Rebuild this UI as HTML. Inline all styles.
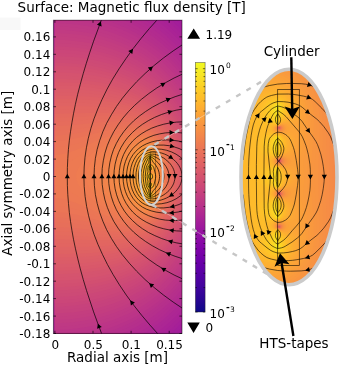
<!DOCTYPE html>
<html><head><meta charset="utf-8"><title>Magnetic flux density</title><style>html,body{margin:0;padding:0;background:#fff}svg{display:block}</style></head><body>
<svg width="342" height="366" viewBox="0 0 342 366" font-family="'DejaVu Sans','Liberation Sans',sans-serif" font-size="12" fill="#000">
<defs><clipPath id="cm"><rect x="53.4" y="20.2" width="128.6" height="313.2"/></clipPath>
<clipPath id="ci"><ellipse cx="289" cy="177" rx="48" ry="107.7"/></clipPath>
<linearGradient id="cb" x1="0" y1="0" x2="0" y2="1"><stop offset="0" stop-color="#f0f921"/><stop offset="0.05" stop-color="#f7e425"/><stop offset="0.1" stop-color="#fcce25"/><stop offset="0.15" stop-color="#feba2c"/><stop offset="0.2" stop-color="#fca636"/><stop offset="0.25" stop-color="#f89540"/><stop offset="0.3" stop-color="#f2844b"/><stop offset="0.35" stop-color="#ea7457"/><stop offset="0.4" stop-color="#e16462"/><stop offset="0.45" stop-color="#d6556d"/><stop offset="0.5" stop-color="#cc4778"/><stop offset="0.55" stop-color="#bf3984"/><stop offset="0.6" stop-color="#b12a90"/><stop offset="0.65" stop-color="#a11b9b"/><stop offset="0.7" stop-color="#8f0da4"/><stop offset="0.75" stop-color="#7e03a8"/><stop offset="0.8" stop-color="#6a00a8"/><stop offset="0.85" stop-color="#5601a4"/><stop offset="0.9" stop-color="#41049d"/><stop offset="0.95" stop-color="#2a0593"/><stop offset="1" stop-color="#0d0887"/></linearGradient></defs>
<rect width="342" height="366" fill="#fff"/><rect x="0" y="17.6" width="20.5" height="12.4" fill="#f8f8f8"/>
<g clip-path="url(#cm)">
<rect x="52.4" y="19.2" width="130.6" height="315.2" fill="#9e199d"/>
<path fill="#a01a9c" d="M54.9 334.9l128.2 0 .4-.4 0-315.8 -128.6 0 0 316.2z"/>
<path fill="#a21d9a" d="M54.9 334.9l123.7 0 4.9-4.9 0-307 -4.3-4.3 -124.3 0 0 316.2z"/>
<path fill="#a31e9a" d="M54.9 334.9l119 0 4.8-4.5 4.8-4.9 0-298 -4.4-4.5 -4.5-4.3 -119.7 0 0 316.2z"/>
<path fill="#a62098" d="M54.9 334.9l114.2 0 7.5-6.8 6.9-7 0-289.2 -6.6-6.7 -7.1-6.5 -114.9 0 0 316.2z"/>
<path fill="#a82296" d="M54.9 334.9l109.2 0 5.1-4.3 4.9-4.4 4.9-4.8 4.5-4.7 0-280.4 -4.4-4.7 -4.5-4.3 -4.9-4.5 -4.9-4.1 -109.9 0 0 316.2z"/>
<path fill="#aa2395" d="M54.9 334.9l103.9 0 6.5-5 6.4-5.6 5.9-5.7 5.9-6.3 0-271.6 -5.4-5.8 -5.9-5.7 -5.9-5.2 -6.7-5.3 -104.7 0 0 316.2z"/>
<path fill="#ac2694" d="M54.9 334.9l98.5 0 7.9-5.9 7.9-6.6 7.4-7 6.9-7.4 0-263 -6.8-7.3 -7-6.7 -7.4-6.2 -8.1-6.1 -99.3 0 0 316.2z"/>
<path fill="#ad2793" d="M54.9 334.9l92.7 0 4.9-3.2 4.9-3.6 4.9-3.8 4.4-3.7 4.5-4 4.3-4.2 4.1-4.2 3.9-4.5 0-254.4 -3.9-4.5 -4-4.1 -3.9-3.8 -4.5-4.1 -4.4-3.7 -4.4-3.5 -5-3.6 -4.9-3.3 -93.6 0 0 316.2z"/>
<path fill="#b02991" d="M54.9 334.9l86.5 0 6.1-3.8 5.9-3.9 5.5-4 5.4-4.4 4.9-4.3 4.9-4.8 5-5.1 4.4-5.1 0-246 -4.4-5.1 -4.5-4.6 -4.9-4.8 -4.9-4.4 -5.4-4.4 -5.5-4 -5.4-3.7 -6.1-3.8 -87.5 0 0 316.2z"/>
<path fill="#b22b8f" d="M54.9 334.9l79.8 0 6.9-3.8 6.9-4.3 6.4-4.5 6.4-4.9 5.9-5.1 6-5.6 5.4-5.7 4.9-5.7 0-237.6 -4.9-5.7 -5.4-5.7 -5.5-5.2 -5.9-5.1 -5.9-4.6 -6.4-4.5 -6.9-4.4 -6.8-3.8 -80.9 0 0 316.2z"/>
<path fill="#b32c8e" d="M54.9 334.9l72.5 0 8.3-4.2 7.9-4.5 7.4-4.8 7.4-5.4 6.9-5.7 6.4-6 6.1-6.4 5.7-6.7 0-229.4 -5.4-6.4 -5.9-6.2 -6.4-6 -6.9-5.8 -6.9-5.1 -7.4-4.9 -7.9-4.6 -8.1-4.1 -73.7 0 0 316.2z"/>
<path fill="#b52f8c" d="M54.9 334.9l64.2 0 9.7-4.3 8.9-4.5 8.8-5.4 8.4-5.8 7.9-6.3 7.4-6.7 6.9-7.2 6.4-7.7 0-221 -6.4-7.7 -6.8-7.1 -7.1-6.5 -7.8-6.2 -8.4-5.9 -8.3-5.1 -8.9-4.7 -9.2-4.1 -65.7 0 0 316.2z"/>
<path fill="#b6308b" d="M54.9 334.9l54.6 0 9.9-3.7 9.4-4.1 9.4-4.9 8.3-5.1 8.4-5.8 7.9-6.4 7.4-6.8 6.9-7.3 6.4-7.8 0-213 -3.4-4.3 -3.5-4 -3.6-4 -4-4 -4.2-3.9 -4-3.4 -4.4-3.5 -4.4-3.3 -4.5-3.1 -4.9-3.1 -4.9-2.9 -5-2.6 -4.9-2.5 -5.4-2.4 -5.4-2.2 -5.7-2.1 -56.4 0 0 316.2z"/>
<path fill="#b83289" d="M54.9 334.9l42.7 0 6.6-1.8 6.4-2 6.4-2.4 6.4-2.6 8.9-4.2 8.8-4.9 7.9-5.1 7.9-5.7 7.4-6.2 6.9-6.6 6.4-7 5.9-7.5 0-204.8 -3.9-5.1 -4-4.6 -4.4-4.8 -4.5-4.3 -4.4-4 -4.9-4.1 -4.9-3.7 -5.5-3.8 -5.4-3.4 -5.4-3.1 -5.9-3.1 -5.9-2.8 -5.9-2.4 -6-2.3 -6.4-2.1 -6.2-1.8 -45 0 0 316.2z"/>
<path fill="#bb3488" d="M54.9 334.9l25.2 0 7.8-1.3 10.4-2.3 9.8-2.9 9.4-3.3 9.3-4 8.4-4.2 7.9-4.6 7.9-5.2 7.4-5.7 6.9-5.9 6.6-6.6 6.2-7 5.4-7 0-196.8 -4.4-5.8 -4.5-5.2 -4.9-5.3 -5.4-5.2 -5.4-4.6 -5.9-4.6 -6-4.2 -6.4-4 -6.4-3.6 -6.9-3.5 -6.9-3 -6.9-2.7 -6.9-2.3 -7.4-2.1 -7.3-1.8 -7.9-1.5 -29.1 0 0 316.2z"/>
<path fill="#bc3587" d="M54.9 332.9l0 .4 4.9-.1 6.4-.3 5.9-.5 10.4-1.3 9.8-1.8 9.4-2.4 9.4-2.9 8.8-3.3 8.9-4 8.4-4.3 7.9-4.8 7.4-5.1 7.1-5.6 6.7-5.9 6.4-6.6 5.9-6.9 3.2-4.1 1.7-2.5 0-188.9 -5.4-7.1 -5.8-6.7 -6-6.2 -6.9-6.1 -7.4-5.8 -7.4-5 -7.9-4.7 -7.9-4.1 -8.4-3.8 -8.8-3.4 -8.9-2.8 -9.4-2.3 -9.3-1.9 -9.9-1.3 -9.3-.8 -9.9-.3 0 313.2z"/>
<path fill="#be3885" d="M54.9 329.4l0 .5 3.4-.1 6.9-.2 6.5-.5 10.3-1.3 10.3-1.9 9.4-2.3 9.4-2.9 8.8-3.4 8.9-3.9 8.4-4.4 7.9-4.8 7.4-5.1 7.3-5.9 6.5-5.8 6.4-6.6 5.8-6.9 5-6.9 0-181 -5.3-7.3 -5.5-6.5 -6.3-6.5 -6.6-5.9 -6.8-5.5 -7.4-5.2 -7.9-4.8 -8.4-4.4 -8.4-3.8 -8.8-3.4 -9.4-3 -9.4-2.4 -9.3-1.8 -9.9-1.3 -9.3-.8 -9.9-.3 0 306.3z"/>
<path fill="#bf3984" d="M54.9 326.4l2.5 .1 6.4-.2 10.3-.8 9.9-1.4 9.8-1.9 9.4-2.4 9.3-3 8.9-3.4 8.4-3.9 8.4-4.4 7.9-4.9 7.3-5.2 6.9-5.6 6.4-5.9 6.3-6.6 5.6-6.8 4.9-7 0-173.2 -4.9-7 -5.5-6.7 -6.2-6.5 -6.6-6.1 -6.9-5.6 -7.3-5.2 -7.9-4.9 -8.4-4.4 -8.4-3.9 -8.9-3.4 -9.3-3 -9.4-2.4 -9.3-1.8 -9.9-1.4 -9.8-.8 -9.9-.3 0 299.9zM150.5 171.9l0-.2 0 .2z"/>
<path fill="#c13b82" d="M54.9 322.9l0 .2 6.9-.1 11.3-.8 10.4-1.4 9.8-1.8 9.4-2.4 9.4-2.9 8.8-3.4 8.9-4 8.4-4.5 7.9-4.9 7.3-5.2 6.9-5.7 6.4-6 6.3-6.6 5.6-7 4.9-7.1 0-165.6 -4.9-7.1 -5.6-6.9 -6.3-6.7 -6.4-6 -6.9-5.7 -7.3-5.2 -7.9-4.9 -7.9-4.2 -8.4-3.9 -8.9-3.4 -9.3-3 -9.4-2.4 -9.8-2 -9.9-1.3 -9.8-.9 -9.9-.2 0 293zM150.5 171.9l0-.2 0 .2z"/>
<path fill="#c33d80" d="M54.9 319.4l0 .4 4.9-.1 6.4-.3 6.4-.5 10.4-1.3 10.3-2 9.9-2.4 9.3-3 8.9-3.4 8.9-4 8.4-4.5 7.8-5 7.4-5.3 6.9-5.7 6.4-6.2 6-6.5 5.4-6.9 4.9-7.3 0-157.8 -4.9-7.3 -5.4-6.9 -6-6.5 -6.4-6.2 -6.9-5.7 -7.4-5.3 -7.8-5 -7.9-4.2 -8.9-4.1 -8.9-3.4 -9.3-3 -9.4-2.4 -9.8-2 -9.9-1.3 -9.8-.8 -9.9-.3 0 286.2zM150.5 171.9l0-.2 0 .2z"/>
<path fill="#c43e7f" d="M54.9 316.4l9.4-.2 10.3-.8 10.4-1.4 9.8-2 9.4-2.4 9.3-3 8.9-3.4 8.9-4.1 7.9-4.3 7.8-5 7.4-5.4 6.9-5.8 6.4-6.3 5.9-6.7 5.2-6.7 4.7-7.3 0-150.2 -4.6-7.2 -5.4-7 -5.8-6.5 -6.4-6.3 -6.9-5.8 -7.4-5.4 -7.8-5 -7.9-4.3 -8.9-4.1 -8.9-3.4 -9.3-3 -9.4-2.4 -9.8-2 -9.9-1.3 -9.9-.9 -10.3-.3 0 279.9zM150.5 171.9l0-.2 .1 .1 -.1 .1z"/>
<path fill="#c6417d" d="M54.9 312.9l0 .2 7.4-.1 11.8-.8 10.4-1.4 10.3-2 9.9-2.6 9.3-3 8.9-3.4 8.9-4.2 7.8-4.3 7.9-5 7.4-5.5 6.9-5.9 6.1-6 5.7-6.7 5.1-6.9 4.8-7.5 0-142.6 -1.8-2.9 -4.6-7.1 -5.4-6.8 -5.6-6.2 -6.3-5.9 -6.8-5.7 -6.9-4.9 -7.9-4.9 -7.9-4.2 -8.4-3.8 -8.9-3.4 -9.3-2.9 -9.4-2.4 -9.3-1.8 -9.9-1.3 -9.9-.9 -10.3-.2 0 273zM150.5 171.9l0-.2 .1 .1 -.1 .1z"/>
<path fill="#c7427c" d="M54.9 309.4l0 .5 4.4-.1 6.9-.3 6.9-.5 10.9-1.4 10.8-2.1 9.9-2.5 9.3-2.9 9.4-3.7 8.9-4.1 8.3-4.7 7.9-5.1 7.4-5.6 6.4-5.6 6.3-6.4 5.5-6.7 5-6.9 4.4-7.3 0-135 -3.7-6.2 -4.7-6.7 -5.4-6.7 -5.8-6.2 -6-5.5 -6.9-5.4 -6.9-4.8 -7.4-4.4 -7.9-4.1 -8.4-3.6 -8.3-3.1 -8.9-2.8 -9.4-2.3 -9.3-1.7 -9.9-1.3 -9.8-.8 -9.9-.3 0 266.3zM150.5 171.9l-.1-.1 .1-.1 .1 .1 -.1 .1z"/>
<path fill="#c9447a" d="M54.9 306.4l0 .2 7.9-.2 11.8-.8 10.8-1.5 10.4-2 9.9-2.5 9.8-3.2 8.9-3.5 8.8-4.2 7.9-4.4 7.9-5.2 7.4-5.7 6.4-5.7 5.9-6.2 5.5-6.7 4.9-7 4.4-7.6 0-127.4 -2.5-4.5 -2.9-4.7 -4.6-6.4 -5.3-6.3 -5.9-6.1 -5.9-5.2 -6.4-5 -6.9-4.7 -7.4-4.3 -7.9-3.9 -8.4-3.6 -8.3-3 -8.9-2.6 -8.9-2.1 -9.3-1.8 -9.4-1.2 -9.8-.7 -9.9-.3 0 260zM150.5 172l-.1-.2 .1-.1 .2 .1 -.2 .2z"/>
<path fill="#cb4679" d="M54.9 302.9l0 .4 4.9-.1 6.9-.2 6.9-.6 11.4-1.4 10.8-2.1 9.9-2.5 9.8-3.1 9.4-3.7 8.8-4.2 8.4-4.7 7.4-4.9 7.4-5.8 6.4-5.9 5.9-6.3 5.4-6.8 4.8-7.2 4.1-7.4 0-119.8 -3.4-6.3 -4-6.2 -4.7-6.4 -5.1-5.8 -5.5-5.4 -5.9-5.1 -6.4-4.9 -6.9-4.5 -7.4-4.1 -7.4-3.6 -7.8-3.3 -8.4-3 -8.9-2.5 -8.9-2.1 -9.3-1.6 -9.4-1.2 -9.3-.7 -9.9-.2 0 253.2zM150.5 172l-.1-.2 .1-.1 .2 .1 -.2 .2z"/>
<path fill="#cc4778" d="M54.9 299.9l0 .2 .5 0 8.4-.2 11.8-.9 10.8-1.5 10.9-2.1 9.8-2.5 9.9-3.2 8.9-3.5 8.8-4.3 8.4-4.8 7.4-5 6.9-5.5 6.4-6 5.9-6.5 5.2-6.8 4.7-7.2 3.9-7.6 0-112 -2.1-4.2 -2.2-4 -2.5-4 -2.4-3.5 -4.6-5.9 -4.9-5.5 -5.4-5.3 -6-4.9 -6.4-4.7 -6.9-4.4 -7.4-4 -7.3-3.5 -7.9-3.1 -8.4-2.8 -8.4-2.3 -8.8-2 -8.9-1.5 -9.4-1.1 -9.3-.6 -9.4-.3 0 247zM150.5 172l-.2-.2 .2-.2 .2 .2 -.2 .2z"/>
<path fill="#cd4a76" d="M54.9 296.4l0 .4 5.4-.1 7.4-.3 6.9-.5 11.3-1.5 11.4-2.1 9.8-2.5 9.9-3.1 9.3-3.7 8.9-4.3 8.4-4.8 7.4-5.1 6.9-5.5 6.4-6.1 5.9-6.7 4.9-6.7 2.5-3.8 2.1-3.7 3.8-7.7 0-104.2 -2.4-5.1 -2.5-4.6 -3-4.8 -3.3-4.6 -4.6-5.7 -4.9-5.3 -5.4-5 -5.9-4.8 -6.4-4.4 -6.4-3.9 -6.9-3.6 -7.4-3.4 -7.9-3 -7.9-2.6 -8.4-2.2 -8.8-1.9 -8.9-1.4 -8.9-1.1 -9.3-.6 -9.4-.2 0 240.2zM150.5 190.4l0-.1 0 .1zM150.5 172l-.2-.2 .2-.2 .2 .2 -.2 .2z"/>
<path fill="#ce4b75" d="M54.9 293.4l0 .2 8.9-.2 12.8-.9 11.3-1.6 10.9-2 10.3-2.7 9.9-3.2 9.3-3.9 8.4-4.1 7.9-4.6 7.4-5.1 6.9-5.7 3.4-3.3 3-3.1 5.4-6.3 4.9-7.1 2.2-3.5 2.2-4 3.5-7.7 0-96.2 -2.7-6.1 -3-5.5 -3.4-5.5 -3.7-5.2 -4.4-5.3 -5-5.1 -5.4-4.8 -5.9-4.6 -5.9-4 -6.4-3.8 -6.9-3.5 -7.4-3.2 -7.9-3 -7.9-2.4 -8.4-2.1 -8.3-1.7 -8.9-1.4 -8.9-1 -8.8-.6 -9.4-.2 0 234zM150.5 190.4l0-.2 0 .2zM150.5 172l-.2-.2 .2-.2 .2 .2 -.2 .2z"/>
<path fill="#d04d73" d="M54.9 289.9l0 .4 5.4 0 7.4-.3 7.4-.6 11.8-1.5 11.9-2.1 10.3-2.6 9.9-3.2 9.3-3.7 8.9-4.4 4.4-2.5 4-2.4 7.4-5.3 3.4-2.8 3.4-3 6-6 5.4-6.7 2.4-3.4 2.5-3.9 2-3.6 2.1-4 1.8-4 1.5-3.9 0-87.8 -3-7.2 -3.4-6.6 -3.9-6.3 -4.5-5.9 -4.4-5.1 -4.9-4.8 -5.5-4.6 -5.4-4.1 -5.9-3.8 -6.4-3.6 -6.9-3.4 -7.4-3.1 -7.4-2.6 -7.9-2.3 -7.8-2 -8.4-1.6 -8.4-1.2 -8.9-1 -8.8-.5 -9.4-.2 0 227.2zM150.5 190.4l0-.2 0 .2zM150.5 181.3l0-.1 0 .1zM150.5 172l-.2-.2 .2-.2 .2 .2 -.2 .2z"/>
<path fill="#d24f71" d="M54.9 286.9l0 .2 8.9-.2 13.3-.9 11.8-1.5 11.3-2.1 10.4-2.7 9.8-3.2 9.4-3.7 8.9-4.5 7.8-4.7 7.4-5.4 3.5-2.8 3.4-3.2 3-3 2.9-3.3 3-3.6 2.5-3.4 2.3-3.6 2.1-3.4 2-3.8 1.8-3.8 1.6-4 1.5-4.2 0-79.2 -2.1-5.6 -2.3-5.4 -2.7-5.1 -3.1-5 -3.2-4.5 -3.6-4.5 -3.7-4 -4.4-4.3 -4.5-3.7 -4.9-3.7 -5.4-3.6 -5.4-3.1 -5.5-2.8 -5.9-2.6 -6.4-2.5 -6.4-2.2 -6.9-2 -6.9-1.7 -7.4-1.4 -7.4-1.2 -7.3-.9 -7.9-.7 -7.4-.4 -7.9-.1 0 221zM150.5 190.4l0-.2 .1 .1 -.1 .1zM150.5 181.4l0-.2 0 .2zM150.5 172.1l-.2-.3 .2-.2 .2 .2 -.2 .3z"/>
<path fill="#d35171" d="M54.9 283.4l0 .4 5.4 0 8.4-.3 7.9-.6 12.8-1.6 11.8-2.2 10.9-2.7 9.8-3.3 9.4-3.8 4.4-2.1 4.4-2.4 7.9-4.9 4-2.8 3.4-2.7 3.5-3 2.9-2.9 3-3.1 2.9-3.4 2.5-3.2 2.5-3.5 2.4-4 2-3.6 1.9-3.9 1.7-4 1.4-4 1.4-4.5 0-69.6 -1.7-5.4 -1.9-5 -2.3-5 -2.7-5 -2.7-4.3 -3-4.1 -2.9-3.7 -3.5-3.7 -3.4-3.4 -4-3.5 -4.4-3.4 -4.5-3.1 -4.9-3.1 -4.9-2.7 -4.9-2.4 -5.5-2.3 -5.4-2.1 -5.9-2 -5.9-1.7 -5.9-1.5 -11.3-2.2 -11.9-1.6 -12.3-1 -12.8-.3 0 214.2zM150.5 190.5l-.1-.2 .1-.1 .1 .1 -.1 .2zM150.5 181.4l0-.3 .1 .2 -.1 .1zM150.5 172.1l-.2-.3 .2-.2 .3 .2 -.3 .3z"/>
<path fill="#d5536f" d="M54.9 280.4l0 .2 8.9-.2 13.8-.8 12.3-1.5 11.3-2 10.4-2.5 9.8-3.1 9.4-3.7 8.4-4.1 7.8-4.7 6.9-5 3.5-2.9 2.9-2.7 3-3 3-3.3 2.5-3.3 2.6-3.5 2.2-3.5 2-3.5 1.8-3.5 1.8-4 1.5-4 1.3-4 1.5-5.9 0-58.8 -1.4-5.3 -1.6-5 -1.9-5 -2.2-4.5 -2.1-4 -2.5-4 -2.6-3.6 -2.9-3.8 -3-3.3 -3.5-3.4 -3.4-3.1 -3.9-3.2 -4-2.9 -4.4-2.8 -4.5-2.6 -4.4-2.3 -4.9-2.3 -4.9-2 -5.5-2 -5.4-1.7 -6.4-1.8 -6.9-1.6 -7.4-1.4 -7.4-1.1 -7.4-.8 -7.8-.7 -7.9-.4 -8.4-.1 0 208zM150.5 190.5l-.1-.2 .1-.1 .1 .1 -.1 .2zM150.5 181.4l0-.3 .1 .2 -.1 .1zM150.5 172.1l-.2-.3 .2-.2 .3 .2 -.3 .3z"/>
<path fill="#d5546e" d="M54.9 276.9l0 .4 3.9 0 8.4-.2 7.9-.5 12.3-1.3 11.4-1.8 10.3-2.2 9.9-2.8 8.8-3.2 8.4-3.7 7.9-4.3 6.9-4.6 6.4-5.1 2.9-2.8 3-3 4.9-5.8 2.3-3.2 2.2-3.3 3.6-6.7 1.6-3.5 1.5-4 2.3-7.5 1.8-8.5 0-45.6 -1-5.4 -1.4-5.5 -1.6-5 -1.9-4.8 -1.8-3.7 -2.2-4.1 -2.4-3.9 -2.4-3.5 -2.5-3.2 -3-3.4 -3-3 -3.4-3.2 -3.5-2.8 -3.9-2.9 -3.9-2.6 -4-2.4 -4.4-2.4 -4.5-2.1 -4.4-1.9 -4.9-1.9 -7.4-2.4 -7.4-2 -8.4-1.9 -8.3-1.4 -8.9-1.2 -8.9-.8 -9.3-.5 -9.9-.1 0 201.2zM150.5 190.5l-.2-.2 .2-.1 .1 .1 -.1 .2zM150.5 181.4l-.1-.1 .1-.3 .2 .3 -.2 .1zM150.5 172.1l-.2-.3 .2-.2 .3 .2 -.3 .3z"/>
<path fill="#d7566c" d="M54.9 273.9l0 .2 7.9-.1 13.8-.7 11.3-1.2 10.9-1.6 9.8-2 8.9-2.4 8.8-2.9 7.9-3.3 7.9-4 6.9-4.3 6.4-4.8 5.4-4.9 5-5.4 4.5-6.2 3.8-6.3 3.1-6.7 2.4-6.5 1.7-6.5 1.3-7.5 .9-7.9 0-24.8 -.3-3.8 -.8-6 -1.2-6 -1.5-5.5 -1.6-5 -1.7-4 -1.6-3.5 -1.9-3.5 -2.2-3.6 -2.5-3.5 -2.4-3.2 -3-3.3 -3-3 -2.9-2.7 -3.5-2.9 -3.4-2.5 -3.9-2.6 -4-2.4 -3.9-2.1 -8.4-3.8 -7.4-2.8 -8.4-2.5 -8.3-2.1 -9.4-1.7 -9.9-1.4 -9.8-1 -10.9-.6 -10.8-.2 0 195zM150.5 190.5l-.2-.2 .2-.2 .2 .2 -.2 .2zM150.5 181.4l-.1-.1 .1-.3 .2 .3 -.2 .1zM150.5 172.1l-.3-.3 .3-.3 .3 .3 -.3 .3z"/>
<path fill="#d9586a" d="M54.9 270.4l0 .4 3 0 8.3-.2 8.4-.4 11.8-1 11.4-1.5 9.8-1.9 8.9-2.2 8.4-2.6 7.8-3 6.9-3.3 6.9-3.9 6.5-4.5 5.4-4.5 4.9-4.9 4.5-5.6 4-6 3.3-6.4 1.5-3.6 1.5-4 1.2-4 1.1-4.5 .8-4.5 .6-4.5 .5-5 .3-5.5 .2-6 -.1-6 -.3-5.5 -.4-5.5 -.7-5 -.8-4.5 -1.1-4.5 -1.3-4.5 -1.4-4 -1.5-3.5 -1.7-3.5 -1.8-3.3 -2.1-3.2 -2.4-3.4 -2.4-3.1 -2.5-2.7 -2.9-3 -3-2.7 -3-2.4 -3.4-2.5 -6.9-4.3 -7.9-4.1 -7.9-3.2 -8.3-2.8 -8.9-2.4 -9.9-2 -10.3-1.5 -11.3-1.1 -11.9-.7 -11.8-.2 0 188.2zM150.5 190.5l-.2-.2 .2-.2 .2 .2 -.2 .2zM150.5 181.4l-.2-.1 .2-.3 .2 .3 -.2 .1zM150.5 172.1l-.3-.3 .3-.3 .3 .3 -.3 .3z"/>
<path fill="#da5a6a" d="M54.9 267.4l0 .1 8.9-.1 12.8-.6 10.8-.9 10.4-1.3 9.3-1.6 8.4-1.9 8.4-2.4 7.4-2.7 6.9-3 6.9-3.7 5.9-3.8 5.4-4.3 4.9-4.6 4.5-5.1 3.9-5.5 3.3-5.7 1.6-3.5 1.5-3.6 1.3-3.9 1.2-4 .9-4 .8-4.5 .9-9 .3-5.5 .1-6 -.1-6 -.3-5.5 -.5-5 -.6-4.5 -.8-4.5 -1.1-4.5 -2.3-7 -1.4-3.5 -1.7-3.5 -2-3.5 -1.9-3 -2.2-3.1 -2.3-2.9 -5-5.4 -3-2.6 -3-2.4 -6.4-4.5 -6.9-3.9 -7.8-3.6 -8.9-3.3 -9.4-2.6 -9.8-2.1 -11.4-1.7 -11.8-1.2 -12.8-.7 -13.3-.3 0 181.9zM150.5 190.6l-.2-.3 .2-.2 .2 .2 -.2 .3zM150.5 181.5l-.2-.2 .2-.4 .2 .4 -.2 .2zM150.5 172.2l-.3-.4 .3-.3 .3 .3 -.3 .4zM150.5 162.8l0-.2 0 .2z"/>
<path fill="#db5c68" d="M54.9 263.9l0 .2 3.9 0 15.8-.4 11.3-.8 10.9-1.1 8.9-1.4 8.3-1.7 7.9-2 7.4-2.5 6.9-2.7 6.9-3.4 5.9-3.6 5.4-3.9 5-4.3 4.4-4.7 3.9-5.1 3.2-5.2 1.9-3.5 1.5-3.5 2.5-7 1.1-4 .8-4 1.1-8.5 .4-5.5 .2-5.5 -.1-11.5 -.4-5 -.5-5 -.7-4.5 -.8-4 -2-7 -2.6-6.5 -3.2-6 -1.9-3 -2.1-3 -2.3-2.9 -2.4-2.6 -5-4.8 -5.9-4.5 -6.4-4 -4-2.1 -3.9-1.9 -4.4-1.8 -4.5-1.6 -9.3-2.8 -10.4-2.3 -11.3-1.8 -12.8-1.3 -13.8-.8 -14.8-.2 0 175zM150.5 190.6l-.2-.3 .2-.2 .2 .2 -.2 .3zM150.5 181.5l-.2-.2 .2-.4 .3 .4 -.3 .2zM150.5 172.2l-.3-.4 .3-.3 .4 .3 -.4 .4zM150.5 162.8l0-.3 0 .3z"/>
<path fill="#dc5d67" d="M54.9 260.4l0 .4 17.7-.3 12.4-.7 10.8-1 8.9-1.1 8.3-1.5 7.9-1.9 6.9-2.1 6.9-2.5 6.4-2.9 5.9-3.3 5.5-3.6 4.9-4 4.2-4.1 3.8-4.5 3.4-5 1.9-3.2 1.6-3.3 2.6-6.5 1.1-3.5 1-4 1.4-8 .5-5 .3-5 .1-11.5 -.6-10 -.5-4.5 -.7-4.5 -1.7-7 -2.3-6.5 -2.9-6 -3.4-5.6 -4.2-5.4 -4.6-4.8 -5-4.2 -5.9-4 -3.9-2.3 -4-2 -4.4-2 -4.4-1.7 -4.9-1.7 -5-1.4 -10.3-2.3 -11.8-1.9 -12.9-1.2 -14.7-.8 -16.3-.3 0 168.2zM150.5 190.6l-.2-.3 .2-.2 .2 .2 -.2 .3zM150.5 181.5l-.2-.2 .2-.4 .3 .4 -.3 .2zM150.5 172.2l-.3-.4 .3-.3 .4 .3 -.4 .4zM150.5 162.9l0-.5 0 .5z"/>
<path fill="#de5f65" d="M54.9 257.4l11.8-.1 11.4-.4 10.3-.5 8.9-.8 8.4-1 7.8-1.3 6.9-1.5 6.9-1.9 6.4-2.2 6.4-2.7 6-3.1 5.4-3.4 4.4-3.4 4.4-4.1 3.7-4.2 3.2-4.4 1.9-3.1 1.7-3 1.4-3 1.4-3.5 1.1-3.5 1-3.5 1.4-7.5 .5-4.5 .4-5 .3-10.5 -.4-10 -1-9 -1.5-7 -1.8-6 -2.5-6 -3.1-5.5 -3.7-5.3 -4.5-5 -4.4-4 -5.4-4 -3.9-2.4 -4-2.1 -4.4-2.1 -4.5-1.8 -4.9-1.7 -4.9-1.4 -4.9-1.3 -5.5-1.1 -11.3-1.7 -13.3-1.3 -15.3-.7 -18.2-.3 0 161.8zM150.5 190.6l-.3-.3 .3-.2 .2 .2 -.2 .3zM150.5 181.5l-.2-.2 .2-.5 .3 .5 -.3 .2zM150.5 172.2l-.3-.4 .3-.3 .4 .3 -.4 .4zM150.5 162.9l-.1-.1 .1-.5 .1 .5 -.1 .1z"/>
<path fill="#df6263" d="M54.9 253.8l10.8 .1 12.9-.3 10.3-.4 8.9-.6 7.9-.9 7.3-1 6.9-1.4 6.4-1.6 6.4-2 6-2.3 5.9-2.8 4.9-2.9 4.4-3 4.5-3.8 3.8-4.1 3.2-4 2-3 1.8-3 2.8-6 2.1-6.5 1.6-7 1-8.5 .5-9.5 -.2-10.5 -.7-9 -1.1-6.5 -1.6-6.5 -2.2-6 -2.7-5.4 -3.4-5.4 -3.8-4.7 -4.1-4.1 -4.9-3.9 -4-2.6 -3.9-2.3 -4.5-2.1 -4.4-1.9 -4.9-1.8 -4.9-1.4 -5-1.3 -5.4-1.1 -11.3-1.7 -13.3-1.2 -15.8-.6 -20.2-.2 0 154.7zM150.5 190.7l-.3-.4 .3-.3 .3 .3 -.3 .4zM150.5 181.5l-.2-.2 .2-.5 .3 .5 -.3 .2zM150.5 172.2l-.3-.4 .3-.3 .4 .3 -.4 .4zM150.5 162.9l-.1-.1 .1-.5 .1 .5 -.1 .1z"/>
<path fill="#e06363" d="M54.9 250.3l25.6-.1 9.4-.3 8.4-.4 7.8-.7 6.9-.9 6.4-1.1 6-1.3 6.4-1.8 5.9-2.1 5.9-2.6 4.9-2.7 4.5-2.9 3.9-3.1 3.5-3.5 3.4-4 2-2.7 1.7-2.8 2.8-5.5 2.3-6 1.7-7 1.1-7.5 .6-9 .1-10.5 -.6-9.5 -.9-7 -1.4-6 -1.8-5.5 -2.4-5.5 -3-5 -3.7-5 -3.9-4.2 -4.5-3.8 -3.4-2.4 -4-2.3 -4.4-2.3 -4.4-1.9 -5-1.8 -4.9-1.5 -4.9-1.2 -5.4-1.1 -5.4-.9 -6-.7 -12.8-1 -15.2-.4 -23.2-.2 0 147.7zM150.5 190.7l-.3-.4 .3-.3 .3 .3 -.3 .4zM150.5 181.5l-.3-.2 .3-.5 .4 .5 -.4 .2zM150.5 172.2l-.3-.4 .3-.3 .4 .3 -.4 .4zM150.5 162.9l-.2-.1 .2-.5 .2 .5 -.2 .1z"/>
<path fill="#e26561" d="M54.9 246.3l0 .5 28.1 0 14.3-.3 7.9-.5 6.9-.7 6.4-.9 5.9-1.1 5.9-1.5 5.9-1.8 5.9-2.4 4.9-2.4 4.5-2.7 3.9-2.9 3.5-3.1 3.4-3.8 3.6-4.9 3-5.5 2.4-6 1.8-6.5 1.2-7 .6-8 .2-10 -.4-9.5 -.7-7 -1.1-6 -1.5-5.5 -2.2-5.5 -2.7-5 -3.2-4.8 -3.7-4.2 -4.2-3.9 -3.4-2.6 -3.5-2.2 -3.9-2.1 -5-2.1 -4.9-1.9 -4.9-1.5 -5.4-1.3 -5.4-1 -5.5-.9 -5.4-.5 -12.3-.8 -13.8-.3 -27.1 0 0 140.1zM150.5 190.7l-.3-.4 .3-.3 .3 .3 -.3 .4zM150.5 181.6l-.3-.3 .3-.6 .4 .6 -.4 .3zM150.5 172.2l-.3-.4 .3-.4 .4 .4 -.4 .4zM150.5 163l-.2-.2 .2-.6 .2 .6 -.2 .2z"/>
<path fill="#e26660" d="M78.1 243.3l19.7 .1 7.4-.3 6.9-.5 6.4-.7 5.9-1 5.4-1.2 5.4-1.6 5.4-1.9 5-2.2 4.4-2.4 3.9-2.6 3.5-2.9 3.4-3.5 3-3.7 2.5-3.9 2.6-5.2 2-5.5 1.5-6 1-6.5 .6-9 0-10.5 -.4-9 -1-7.5 -1.2-5.5 -1.9-5.5 -2-4.5 -2.7-4.7 -3.2-4.3 -3.7-4 -4-3.3 -4.4-2.9 -3.4-1.9 -3.5-1.6 -3.9-1.6 -4.5-1.4 -4.4-1.3 -4.4-1 -5-.9 -4.9-.6 -9.4-.8 -10.8-.4 -40.4 .3 0 133.2 23.2 .2zM150.5 190.7l-.3-.4 .3-.3 .3 .3 -.3 .4zM150.5 181.6l-.3-.3 .3-.6 .2 .1 .2 .5 -.4 .3zM150.5 172.3l-.4-.5 .4-.4 .5 .4 -.5 .5zM150.5 163l-.2-.2 .2-.6 .2 .6 -.2 .2z"/>
<path fill="#e4695e" d="M80 239.8l19.2 .5 6.9-.1 6.4-.4 6-.5 5.9-.8 5.4-1.1 5.4-1.4 4.9-1.6 5-2 3.9-2 4-2.4 3.4-2.8 3.4-3.3 3-3.6 2.3-3.5 2.7-5 2.1-5.5 1.4-5.5 1-6.5 .7-8.5 .1-10 -.4-9 -.8-7.5 -1.2-5.5 -1.5-5 -2-4.8 -2.4-4.4 -3-4.2 -3.4-3.8 -4-3.5 -3.9-2.7 -3.5-1.9 -3.4-1.5 -4-1.6 -4.4-1.4 -4.4-1.2 -4.5-.9 -4.4-.8 -4.9-.6 -8.9-.6 -9.8-.2 -31.6 .8 -11.8 .2 0 125.6 11.3 .1 13.8 .4zM150.5 190.7l-.3-.4 .3-.3 .3 .3 -.3 .4zM150.5 181.6l-.3-.3 .3-.6 .2 .1 .2 .5 -.4 .3zM150.5 172.3l-.4-.5 .4-.4 .5 .4 -.5 .5zM150.5 163l-.2-.2 .2-.6 .1 .1 .1 .5 -.2 .2z"/>
<path fill="#e56b5d" d="M91.5 236.8l8.2 .4 7.4 .1 6.9-.2 5.9-.5 5.5-.6 5.4-1 5.4-1.3 4.9-1.6 4.5-1.7 3.9-2 3.5-2.1 2.9-2.3 3-2.8 2.9-3.4 2.5-3.6 2.1-3.9 2.1-5 1.5-5 1.1-6 .7-6.5 .3-9.5 -.1-10 -.7-8 -1-6.5 -1.4-5 -1.7-4.5 -2.3-4.5 -2.7-4 -3.3-4 -3.5-3.2 -3.9-2.9 -4-2.2 -3.4-1.5 -3.5-1.3 -3.9-1.2 -4-1.1 -7.8-1.5 -8.9-.9 -7.4-.2 -8.4 0 -31 1.5 -14.3 .3 0 117.8 14.3 .3 22.3 1.1zM150.5 190.8l-.4-.5 .4-.3 .4 .3 -.4 .5zM150.5 181.6l-.3-.3 .3-.6 .3 .1 .2 .5 -.5 .3zM150.5 172.3l-.4-.5 .4-.4 .5 .4 -.5 .5zM150.5 163l-.3-.2 .3-.6 .2 .1 .1 .5 -.3 .2z"/>
<path fill="#e66c5c" d="M106.2 234.3l10.3 0 4.9-.2 4.5-.5 4.4-.7 4.4-.9 4-1 3.9-1.2 3.5-1.4 2.9-1.4 3-1.7 2.4-1.7 2.5-2.1 2.2-2.2 2.1-2.5 1.8-2.5 1.8-3 1.5-3 1.3-3 1.1-3.5 .8-3.5 .7-4 .5-4.5 .3-4.5 .2-7 -.1-7 -.2-6 -.5-5 -.7-4.5 -.9-4 -1.2-4 -1.3-3.3 -2.5-4.6 -3-4.2 -3.4-3.8 -4-3.2 -3.9-2.5 -4.9-2.2 -5.4-1.9 -6.5-1.6 -5.4-.9 -5.4-.6 -5.9-.4 -6.4 0 -11.8 .5 -28.1 2.1 -7.4 .4 -7.4 .1 0 109.6 7.4 .1 7.9 .4 26.1 2 9.9 .5zM150.5 190.8l-.4-.5 .4-.4 .4 .4 -.4 .5zM150.5 181.6l-.3-.3 .3-.7 .3 .2 .2 .5 -.5 .3zM150.5 172.3l-.4-.5 .4-.4 .5 .4 -.5 .5zM150.5 163l-.3-.2 .1-.5 .2-.1 .2 .1 .1 .5 -.3 .2z"/>
<path fill="#e76f5a" d="M105.5 231.3l10.5 .5 4.9-.1 4.5-.3 4.4-.5 3.9-.7 4.5-.9 3.9-1.1 3.5-1.2 2.9-1.3 2.5-1.3 2.4-1.6 2.5-1.9 2.2-2.1 2.2-2.5 1.9-2.5 1.8-3 1.6-3 1.2-3 1.1-3.5 .8-3.5 .7-4 .7-8.5 .2-6.5 -.1-7.5 -.2-6 -.5-5 -.6-4.5 -1-4 -1.3-4 -1.5-3.5 -2.3-4.2 -3-4 -3.4-3.5 -3.9-3.1 -4-2.2 -4.9-2 -5.4-1.6 -6.4-1.3 -5-.7 -5.4-.4 -5.4-.1 -5.9 .2 -10.9 .8 -28 3.1 -8.4 .5 -7.9 .2 0 101 7.9 .2 8.9 .6 25.6 2.8 8.2 .7zM150.5 190.8l-.4-.5 .4-.4 .4 .4 -.4 .5zM150.5 181.6l-.4-.3 .2-.5 .2-.2 .4 .2 .1 .5 -.5 .3zM150.5 172.4l-.4-.6 .4-.4 .6 .4 -.6 .6zM150.5 163.1l-.3-.3 .1-.5 .2-.1 .2 .1 .1 .5 -.3 .3z"/>
<path fill="#e87059" d="M110.7 228.8l9.2 .5 4.5-.1 4.4-.3 3.9-.5 4.5-.7 3.9-.9 3.5-1.1 2.9-1.1 2.5-1.2 2.5-1.4 2.4-1.8 2-1.7 2.1-2.2 1.8-2.2 1.9-2.8 1.6-3 1.6-3.5 1.1-3.5 .9-3.5 .6-4 .5-4 .4-10.5 -.2-13 -.4-4.5 -.5-4.5 -.9-4 -1-3.5 -1.3-3.5 -1.8-3.5 -2.6-4 -3-3.5 -3.3-2.9 -3.9-2.6 -4-1.8 -4.4-1.5 -5.9-1.4 -5.9-.8 -4.4-.4 -5-.2 -4.9 .1 -5.4 .4 -10.4 1.2 -19.7 3 -8.4 1.1 -8.8 .8 -8.4 .2 0 92 8.4 .2 8.8 .8 8.4 1.1 19.7 3 10.5 1.2zM150.5 190.8l-.4-.5 .4-.4 .4 .4 -.4 .5zM150.5 181.7l-.4-.4 .2-.5 .2-.2 .5 .2 .1 .5 -.6 .4zM150.5 172.4l-.4-.6 .4-.4 .6 .4 -.4 .5 -.2 .1zM150.5 163.1l-.3-.3 .1-.5 .2-.2 .3 .2 0 .5 -.3 .3z"/>
<path fill="#e97257" d="M120.1 226.8l7.7 0 7.9-.7 3.9-.7 3.5-.8 3-.9 2.4-1 2.5-1.2 2.4-1.6 2-1.5 2-1.8 2-2.2 1.9-2.6 1.5-2.5 1.3-2.5 1.4-3.5 1.1-3.5 .8-4 .6-4 .3-5 .2-6 0-8 -.2-6.5 -.7-8 -.6-3.5 -.8-3 -1-3 -1.3-3 -1.3-2.5 -1.8-2.8 -2.9-3.6 -3-2.7 -3.4-2.4 -3.5-1.7 -3.9-1.4 -4.9-1.2 -5.5-.9 -5.9-.4 -3.9-.1 -4.5 .1 -8.8 .8 -9.9 1.6 -19.7 4 -8.4 1.4 -9.3 1.1 -8.4 .4 0 82 7.9 .3 8.4 1 8.3 1.4 18.2 3.6 7.5 1.4 7.8 1.1 7.1 .5zM150.5 190.8l-.4-.5 .4-.4 .4 .4 -.4 .5zM150.5 181.7l-.4-.4 .1-.5 .3-.2 .5 .2 .1 .5 -.6 .4zM150.5 172.4l-.4-.6 .4-.5 .6 .5 -.3 .5 -.3 .1zM150.5 163.1l-.4-.3 .1-.5 .3-.2 .3 .2 .1 .5 -.4 .3z"/>
<path fill="#eb7556" d="M119.4 224.3l7.9 .4 4-.1 3.9-.3 4-.5 3.4-.6 3-.8 2.4-.9 2.5-1.1 2.5-1.5 1.9-1.5 2-1.7 1.7-1.9 1.7-2.1 1.6-2.4 1.3-2.5 1.5-3.5 1.1-3.5 .8-4 .6-4 .3-5 .2-6 0-8.5 -.2-6.5 -.7-7.5 -.6-3.5 -.8-3 -1-3 -1.4-3 -1.4-2.5 -1.8-2.6 -2.4-2.9 -3-2.6 -3.4-2.3 -3.5-1.6 -3.9-1.2 -4.9-1 -5.5-.6 -5.9-.2 -7.9 .4 -8.3 1.1 -9.9 2.1 -20.2 5.2 -8.4 1.9 -4.9 .9 -4.4 .6 -4.5 .3 -3.9 .1 0 71.2 7.9 .4 4.4 .5 4.5 .8 8.3 1.8 17.3 4.5 7.4 1.8 7.8 1.5 6.9 .9zM150.5 190.9l-.4-.6 .4-.4 .4 .4 -.4 .6zM150.5 181.7l-.4-.4 .1-.5 .3-.3 .5 .3 .1 .5 -.6 .4zM150.5 172.4l-.4-.6 .4-.5 .5 .2 .2 .3 -.3 .5 -.4 .1zM150.5 163.1l-.4-.3 .1-.5 .3-.2 .3 .2 .1 .5 -.4 .3z"/>
<path fill="#eb7655" d="M123.3 222.3l7.5 .4 3.9-.1 4-.4 5.9-1 2.4-.7 2.5-1 2.5-1.3 1.9-1.3 2-1.6 2-2 1.5-1.8 1.5-2.2 1.4-2.5 1.2-2.5 1.1-3 .9-3.5 .6-3.5 .5-4.5 .2-6 .1-8.5 -.1-7.5 -.3-5.5 -.4-3.5 -.6-3.5 -.8-3 -.8-2.5 -1.3-3 -1.3-2.4 -1.7-2.6 -1.7-2.1 -2.5-2.4 -2.9-2.2 -3.5-1.8 -3.4-1.3 -4.5-.9 -4.9-.6 -5.4-.2 -5.4 .2 -4.5 .4 -4.4 .7 -4.4 .9 -5.2 1.3 -9.1 2.7 -19.2 6.4 -8.4 2.3 -4 .9 -3.9 .6 -4 .4 -3.4 .1 0 58.6 3.4 .1 4 .4 3.9 .6 4.5 1 7.9 2.2 18.6 6.2 8.5 2.6 9.3 2.2 8.3 1.2zM150.5 190.9l-.4-.6 .4-.4 .5 .4 -.5 .6zM150.5 181.7l-.4-.4 .1-.5 .3-.3 .6 .3 .1 .5 -.7 .4zM150.5 172.5l-.5-.7 .5-.5 .5 .2 .2 .3 -.2 .5 -.5 .2zM150.5 163.1l-.4-.3 .1-.5 .3-.2 .4 .2 0 .5 -.4 .3z"/>
<path fill="#ed7953" d="M125.5 220.3l7.2 .5 6.9-.2 5.5-.9 2.4-.7 2.5-1 2-1 1.9-1.3 2-1.7 2-2 1.5-1.8 1.5-2.4 1.3-2.5 1.1-2.5 .9-3 .8-3.5 .6-4 .3-4.5 .2-7 0-9.5 -.2-6 -.3-5 -.5-3.5 -.7-3 -.9-3 -1-2.5 -1.2-2.5 -1.6-2.5 -1.8-2.3 -2-2 -2.9-2.4 -3-1.6 -3.5-1.3 -3.4-.8 -4.4-.5 -5.5-.2 -5.4 .2 -5.4 .7 -4.4 .8 -4.5 1.1 -4.9 1.5 -4.9 1.7 -9.1 3.6 -18 7.9 -7.4 2.7 -4 1.2 -3.4 .7 -3.5 .5 -3.4 .2 0 43 3 .1 3.4 .5 3.5 .7 3.9 1.1 7.4 2.7 20 8.7 9.1 3.6 5.4 1.7 5.4 1.5 4.9 1 4.6 .7zM150.5 190.9l-.5-.6 .5-.5 .5 .5 -.3 .5 -.2 .1zM150.5 181.7l-.4-.4 0-.5 .4-.3 .6 .3 .1 .5 -.2 .3 -.5 .1zM150.5 172.5l-.3-.2 -.2-.5 .5-.5 .5 .2 .2 .3 -.2 .5 -.5 .2zM150.5 163.2l-.4-.4 .1-.5 .3-.2 .4 .2 .1 .5 -.5 .4z"/>
<path fill="#ed7a52" d="M130.8 218.8l6.4 .3 5.9-.3 2.5-.5 2.4-.7 2-.8 2-1 1.9-1.3 2-1.7 1.5-1.5 1.6-2 1.3-2 1.4-2.5 1-2.5 .8-2.5 .8-3.5 .5-3.5 .4-4 .1-5 0-17 -.3-5 -.6-4.5 -.6-3 -.9-3 -1.2-3 -1.3-2.5 -1.5-2.3 -2-2.4 -2-1.8 -1.9-1.5 -3-1.6 -3.5-1.3 -3.9-.7 -4.4-.3 -5.5 .1 -5.9 .6 -5.4 1.1 -5.4 1.4 -4.8 1.7 -5 2 -5.4 2.5 -4.9 2.5 -8.7 5 -17 10.8 -5.9 3.4 -2.5 1.1 -2.5 .9 -2.4 .6 -2 .1 0 17.6 2.5 .2 2.4 .6 2.5 1 2.9 1.5 5 2.8 13.1 8.4 7.4 4.5 7.3 4 7.3 3.5 6.8 2.7 6.4 2.1 6.4 1.4 5.9 .8zM150.5 190.9l-.5-.6 .5-.5 .5 .5 -.2 .5 -.3 .1zM150.5 181.7l-.5-.4 .1-.5 .4-.3 .7 .3 .1 .5 -.3 .3 -.5 .1zM150.5 172.5l-.3-.2 -.2-.5 .5-.5 .5 .1 .3 .4 -.2 .5 -.6 .2zM150.5 163.2l-.5-.4 .2-.5 .3-.2 .4 .2 .1 .5 -.5 .4z"/>
<path fill="#ef7c51" d="M134.1 217.3l6.5 .3 3-.2 2.5-.4 2.4-.7 2-.9 2-1 1.9-1.4 2-1.8 1.6-1.9 1.5-2 1.4-2.5 1.1-2.5 1-3 .6-3 .5-3 .4-4.5 .1-5.5 .1-10.5 -.2-7.5 -.3-4.5 -.5-3.5 -.6-3 -.9-3 -1.3-3 -1.7-3 -1.9-2.5 -2.4-2.4 -2.4-1.8 -3-1.5 -3-.9 -2.9-.6 -4.4-.2 -5 .3 -5.4 .7 -4.9 1 -4.9 1.5 -5.1 1.9 -4.8 2.2 -5.2 2.8 -5.6 3.5 -4.9 3.5 -4.9 4 -4.2 4 -3.4 4 -2.4 3.5 -1.6 3.5 -.7 3 0 3 .6 3 1.2 3 1.9 3 2.7 3.5 3.3 3.5 4.5 4 4.4 3.5 5.1 3.5 4.8 2.9 5 2.6 4.8 2.2 4.9 1.8 5 1.4 4.9 1 4.8 .6zM150.5 190.9l-.5-.6 .5-.5 .6 .5 -.3 .5 -.3 .1zM150.5 181.8l-.5-.5 .1-.5 .4-.4 .5 .2 .2 .2 .1 .5 -.3 .3 -.5 .2zM150.5 172.6l-.3-.3 -.2-.5 .5-.5 .5 .1 .3 .4 -.1 .5 -.7 .3zM150.5 163.2l-.5-.4 .1-.5 .4-.3 .4 .3 .1 .5 -.5 .4z"/>
<path fill="#f07f4f" d="M135.5 215.8l3.2 .3 2.9 .1 2.5-.1 2.4-.4 2.5-.7 2-.9 2-1.1 1.4-1.1 2-1.8 1.5-1.8 1.5-2.1 1.2-2.4 1.1-2.5 .7-2.5 .7-3 .4-3 .3-4 .1-5.5 -.1-18 -.2-4 -.4-3.5 -.6-3 -.9-3 -1.3-3 -1.5-2.8 -2-2.5 -2-2 -2.4-1.8 -2.5-1.3 -3-1 -2.9-.5 -4-.1 -4.4 .3 -5.4 .9 -4.9 1.3 -4.5 1.5 -4.7 2 -4.1 2.1 -4.5 2.7 -4.5 3.2 -3.7 3 -3.6 3.5 -3.1 3.5 -2.5 3.5 -1.9 3.5 -1.2 3 -.7 3.5 -.1 3 .4 3 .8 3 1.6 3.5 2.2 3.5 2.7 3.5 3.3 3.5 3.4 3 3.8 3 4.5 3 4.4 2.5 4.1 2 4.4 1.8 4.4 1.4 4.5 1.1 4.7 .7zM150.5 191l-.3-.2 -.2-.5 .5-.5 .6 .5 -.2 .5 -.4 .2zM150.5 181.8l-.5-.5 .1-.5 .4-.4 .5 .1 .3 .3 0 .5 -.3 .4 -.5 .1zM150.5 172.6l-.4-.3 -.1-.5 .5-.6 .5 .1 .3 .5 -.1 .5 -.7 .3zM150.5 163.2l-.5-.4 .1-.5 .4-.3 .5 .3 .1 .5 -.6 .4z"/>
<path fill="#f0804e" d="M139.8 214.8l2.3 .1 2.5-.1 2.4-.4 2-.5 2-.8 2-1.2 1.9-1.5 1.6-1.6 1.6-2 1.3-1.9 1-2.1 .9-2.5 .7-2.5 .5-2.5 .6-6.5 .2-15 -.3-11 -.3-3.5 -.4-3 -.6-2.5 -.9-2.5 -1.4-3 -1.5-2.5 -2-2.3 -2-1.7 -2.4-1.6 -2.5-1.1 -2.5-.7 -2.9-.3 -3.5 .1 -4.4 .5 -4.8 1.1 -4.6 1.4 -4 1.6 -4.2 2 -4.3 2.5 -3.6 2.5 -3.7 3 -3.1 3 -2.7 3 -2.6 3.5 -2 3.5 -1.2 3 -.9 3 -.5 3.5 .1 3 .5 3.5 1 3 1.6 3.5 2.2 3.5 2.3 3 2.8 3 3.2 3 3.8 3 3.5 2.4 3.8 2.1 4.2 2 4.3 1.7 4.5 1.3 4.4 1 4.1 .5zM150.5 191l-.3-.2 -.3-.5 .6-.6 .5 .3 .2 .3 -.3 .5 -.4 .2zM150.5 181.8l-.5-.5 0-.5 .5-.4 .5 .1 .3 .3 .1 .5 -.4 .4 -.5 .1zM150.5 172.6l-.4-.3 -.1-.5 .5-.6 .5 .1 .4 .5 -.1 .5 -.3 .2 -.5 .1zM150 162.8l.1-.5 .4-.3 .5 .3 .1 .5 -.6 .5 -.5-.5z"/>
<path fill="#f1834c" d="M138.7 213.3l2.4 .3 2.5 .1 2-.1 1.9-.3 2-.6 2-.9 1.9-1.2 1.5-1.2 1.5-1.5 1.3-1.6 1.2-2 1-2 .8-2 .7-2.5 .9-5.5 .3-8.5 -.1-19 -.6-7 -.5-2.5 -.7-2.5 -1.2-3 -1.4-2.5 -1.7-2.2 -2-1.9 -1.9-1.4 -2.5-1.3 -2.5-.8 -2.4-.4 -3.5 0 -3.4 .5 -4 .9 -4.4 1.3 -3.9 1.6 -4 1.9 -3.8 2.3 -3.5 2.5 -3 2.5 -3.1 3 -2.5 3 -2.1 3 -1.7 3 -1.4 3 -.9 3 -.6 3.5 0 3 .2 3 .7 3 1.1 3 1.4 3 1.9 3 2.3 3 2.7 3 3.3 3 3.2 2.5 3.3 2.3 3.5 1.9 3.9 1.8 4 1.5 3.9 1.2 4 .8zM150.5 191l-.3-.2 -.3-.5 .6-.6 .5 .2 .2 .4 -.2 .5 -.5 .2zM150 181.3l0-.5 .5-.4 .5 0 .4 .4 0 .5 -.4 .5 -.5 0 -.5-.5zM150.5 172.6l-.4-.3 -.2-.5 .6-.6 .5 0 .4 .6 -.1 .5 -.3 .3 -.5 0zM150 162.9l.1-.6 .4-.3 .6 .3 .1 .5 -.2 .3 -.5 .2 -.5-.4z"/>
<path fill="#f2844b" d="M140.5 212.3l4.1 .3 1.9-.2 2-.4 2-.7 1.5-.7 1.9-1.3 1.5-1.4 1.4-1.6 1.1-1.5 1.1-2 .9-2 .7-2 .5-2.5 .7-5.5 .2-8.5 -.2-18.5 -.6-6.5 -1.1-4.5 -1-2.5 -1.2-2.2 -1.5-2 -2-1.9 -1.9-1.5 -2.5-1.2 -2.5-.8 -2.4-.3 -3 .1 -3.4 .5 -3.5 1 -3.9 1.4 -4 1.7 -3.4 1.9 -3.5 2.3 -3.2 2.5 -2.7 2.5 -2.8 3 -1.9 2.5 -1.9 3 -1.5 3 -1.1 3 -.8 3 -.4 3 0 3 .3 3 .7 3 1.1 3 1.5 3 1.8 3 2.3 3 2.3 2.5 2.6 2.5 3.1 2.5 3 2 3.5 2 3.5 1.7 3.9 1.6 3.5 1 3.3 .7zM150.5 191l-.4-.2 -.2-.5 .6-.6 .5 .2 .3 .4 -.3 .5 -.5 .2zM150.5 181.8l-.6-.5 .1-.5 .5-.5 .5 .1 .4 .4 0 .5 -.4 .5 -.5 0zM150.5 172.7l-.5-.4 -.1-.5 .6-.6 .5 0 .5 .6 -.1 .5 -.4 .3 -.5 .1zM150.5 163.3l-.6-.5 .1-.5 .5-.3 .6 .3 .1 .5 -.2 .3 -.5 .2z"/>
<path fill="#f3874a" d="M141.7 211.3l1.9 .2 2 0 1.9-.2 1.5-.3 2-.8 1.5-.8 1.4-1.1 1.5-1.3 1.4-1.7 1-1.5 1.7-3.5 1.1-4 .6-5.5 .1-7 -.1-20 -.5-6 -1-4.5 -1-2.5 -1.3-2.3 -1.5-1.9 -1.8-1.8 -2.1-1.5 -2-.9 -2-.6 -2.4-.3 -2.5 0 -3 .5 -3.4 1 -3.5 1.3 -4 2 -3.3 2 -2.9 2 -3 2.5 -2.5 2.5 -2.2 2.5 -1.8 2.5 -1.8 3 -1.4 3 -1.1 3 -.6 3 -.3 3 0 3 .4 3 .7 3 .9 2.5 1.4 3 1.5 2.5 2.2 3 2.1 2.5 2.6 2.5 2.4 2 2.8 2 3.2 2 3.8 1.9 3.4 1.5 3 1 3 .6zM150.5 191l-.4-.2 -.3-.5 .2-.3 .5-.4 .5 .2 .3 .5 -.2 .5 -.6 .2zM150.5 181.9l-.6-.6 0-.5 .6-.5 .5 0 .5 .5 0 .5 -.4 .5 -.6 .1zM150 172.3l-.1-.5 .3-.5 .3-.2 .8 .2 .2 .5 -.1 .5 -.4 .4 -.5 0 -.5-.4zM150.5 163.4l-.6-.6 .1-.5 .5-.3 .7 .3 .1 .5 -.3 .4 -.5 .2z"/>
<path fill="#f48948" d="M142.4 210.3l1.7 .2 2 .1 1.9-.3 1.5-.4 3-1.4 1.4-1.1 1.5-1.4 2.1-2.7 1.6-3.5 1-4 .5-5 .1-6 0-20.5 -.5-6 -.8-4 -.9-2.5 -1-2 -1.4-2 -1.7-1.8 -1.9-1.5 -2-1 -2-.7 -2.4-.4 -2.5 .1 -3 .5 -2.9 1 -3 1.3 -3.7 2 -3.1 2 -2.6 2 -2.8 2.5 -2.4 2.5 -2 2.5 -1.7 2.5 -1.6 3 -1.1 2.5 -.9 3 -.5 2.5 -.4 3 .1 2.5 .3 3 .5 2.5 1 3 1.3 3 1.4 2.5 1.7 2.5 2 2.5 2.4 2.5 2.2 2 2.6 2 3 2 3.3 1.9 3 1.4 2.9 1.1 2.8 .6zM150.5 191.1l-.4-.3 -.3-.5 .2-.4 .5-.3 .6 .2 .2 .5 -.1 .5 -.7 .3zM150.5 181.9l-.6-.6 0-.5 .6-.5 .5 0 .5 .5 .1 .5 -.4 .5 -.7 .1zM150 172.4l-.2-.6 .4-.5 .3-.2 .5 0 .3 .2 .3 .5 -.1 .5 -.5 .4 -.5 0 -.5-.3zM150.5 163.4l-.5-.3 -.2-.3 .2-.5 .5-.4 .8 .4 0 .5 -.3 .5 -.5 .1z"/>
<path fill="#f58b47" d="M142.7 209.3l3.4 .3 1.9-.2 1.5-.3 1.5-.6 1.5-.8 2.4-2 1.2-1.4 1-1.5 1.4-3 1-3.5 .4-4.5 .2-6 0-21 -.3-6 -.8-4 -.8-2.5 -1-2 -1.3-1.9 -1.5-1.6 -1.4-1.2 -2-1.1 -2-.7 -2.5-.4 -2.4 .1 -2.5 .4 -2.4 .8 -2.5 1.1 -3 1.7 -2.9 1.9 -3 2.4 -2.7 2.5 -1.8 2 -2 2.5 -1.7 2.5 -1.3 2.5 -1.1 2.5 -1 3 -.6 2.5 -.3 3 -.1 3 .3 2.5 .5 2.5 .7 2.5 .9 2.5 1.2 2.5 1.5 2.5 1.8 2.5 2.1 2.5 2.6 2.5 2.3 2 2.7 2 2.9 1.8 3 1.6 2.4 .9 2.6 .7zM150.5 191.1l-.5-.3 -.2-.5 .2-.5 .5-.3 .7 .3 .2 .5 -.2 .5 -.7 .3zM150.5 181.9l-.7-.6 0-.5 .7-.5 .5-.1 .6 .6 .1 .5 -.4 .5 -.8 .1zM150 172.4l-.2-.6 .3-.5 .4-.2 .5 0 .4 .2 .3 .5 -.2 .6 -.5 .4 -.5 0 -.5-.4zM150.5 163.5l-.5-.3 -.2-.4 .1-.5 .6-.4 .5 .1 .3 .3 .1 .5 -.4 .5 -.5 .2z"/>
<path fill="#f68d45" d="M142.7 208.3l3.4 .4 2.9-.3 1.5-.5 1.5-.7 2.4-1.9 2.1-2.5 1.5-3 .8-3 .5-4 .2-6.5 0-21 -.2-6 -.7-4 -.6-2 -.9-2 -1.2-1.9 -1.5-1.7 -1.4-1.3 -2-1.1 -2-.7 -2-.3 -1.9 0 -2.5 .4 -2.5 .8 -2.4 1.2 -2.7 1.6 -2.7 2 -2.4 2 -2.5 2.5 -1.7 2 -1.9 2.5 -1.6 2.5 -1.3 2.5 -1 2.5 -.8 2.5 -.5 2.5 -.4 3 0 3 .3 2.5 .4 2.5 .7 2.5 .9 2.5 1.2 2.5 2.9 4.5 2 2.5 1.9 2 2.1 2 2.5 2 2.6 1.9 2.5 1.4 2.4 1.1 2.1 .6zM150.5 191.1l-.5-.3 -.3-.5 .3-.5 .5-.3 .8 .3 .1 .5 -.1 .5 -.3 .2 -.5 .1zM150.5 181.9l-.7-.6 0-.5 .7-.6 .5 0 .7 .6 .1 .5 -.4 .5 -.4 .2 -.5-.1zM150 172.5l-.2-.7 .3-.5 .4-.3 .5 0 .5 .3 .3 .5 -.1 .5 -.2 .2 -.5 .3 -.5 0 -.5-.3zM150.5 163.5l-.5-.3 -.3-.4 .2-.5 .6-.4 .5 .1 .4 .3 0 .5 -.3 .5 -.6 .2z"/>
<path fill="#f68f44" d="M145.1 207.8l2.9 0 1.5-.3 1.5-.6 2.4-1.5 2.1-2.1 1.5-2.5 1.1-3 .6-3.5 .2-5 0-26.5 -.2-4.5 -.7-3.5 -.7-2 -1.1-2 -1.3-1.8 -1.5-1.4 -1.4-1 -2-.9 -1.5-.4 -2-.2 -1.9 .1 -2 .5 -2.5 1 -2 1.1 -2.3 1.5 -2.4 2 -2.1 2 -2.3 2.5 -3.3 4.5 -1.4 2.5 -1.1 2.5 -.9 2.5 -.7 2.5 -.5 2.5 -.2 3 .1 2.5 .2 2.5 .5 2.5 .8 2.5 .9 2.5 1.2 2.5 2.9 4.5 2 2.5 1.9 2 2.1 2 2.7 2.2 2 1.3 2.4 1.3 2.5 .8 2 .4zM150 190.8l-.3-.5 .3-.6 .5-.2 .5 0 .3 .3 .2 .5 -.1 .5 -.4 .3 -.5 0 -.5-.3zM150.5 182l-.8-.7 .1-.5 .4-.5 .8-.2 .4 .2 .4 .5 0 .5 -.3 .5 -.5 .2 -.5 0zM150.5 172.8l-.7-.5 -.1-.5 .3-.5 .5-.3 .5 0 .6 .3 .3 .5 -.1 .5 -.6 .5 -.7 0zM150.5 163.5l-.5-.2 -.3-.5 .2-.5 .6-.4 .5 0 .4 .4 .1 .5 -.2 .5 -.8 .2z"/>
<path fill="#f79143" d="M144.3 206.8l2.7 .3 2.5-.4 2.5-1 1.9-1.5 2-2.4 1.2-2.5 .8-3 .3-3 .2-6.5 -.1-6 .1-15 -.2-6.5 -.4-3.5 -.6-2 -.9-2 -1-1.5 -1.4-1.5 -1.4-1.2 -1.5-.8 -1.5-.5 -2-.4 -1.9 .1 -2 .4 -2 .7 -2 1 -1.9 1.3 -2.3 1.9 -3.8 4 -3.3 4.5 -1.4 2.5 -1.1 2.5 -.9 2.5 -.7 2.5 -.5 2.5 -.3 2.5 0 2.5 .2 2.5 .4 2.5 .6 2.5 .8 2.5 1.1 2.5 2.5 4.5 3.5 4.5 1.9 2 2.2 2 2.1 1.5 1.9 1.2 2 .8 1.7 .5zM150 190.8l-.3-.5 .3-.7 .5-.2 .5 .1 .4 .3 .2 .5 -.2 .5 -.4 .3 -.5 0 -.5-.3zM150.5 182l-.8-.7 0-.5 .8-.7 .5 0 .5 .2 .4 .5 0 .5 -.3 .5 -.6 .3 -.5-.1zM150.5 172.9l-.7-.6 -.1-.5 .3-.5 .5-.3 .5-.1 .5 .2 .2 .2 .2 .5 0 .5 -.6 .5 -.8 .1zM150 163.3l-.3-.5 .1-.5 .7-.4 .5 0 .5 .4 .1 .5 -.2 .5 -.4 .2 -.5 .1 -.5-.3z"/>
<path fill="#f89441" d="M146.4 206.3l2.6-.1 2.5-.9 1.5-1 .9-.8 1.8-2.2 1.1-2.5 .7-2.5 .2-2.5 .1-6.5 -.1-6.5 0-9 .1-5 0-6.5 -.2-2.5 -.4-2.5 -.7-2 -.8-1.5 -1.1-1.5 -1.2-1.2 -1.4-1.1 -1.5-.7 -1.5-.5 -2-.1 -1.9 .2 -1.6 .4 -1.9 .8 -2 1.1 -2 1.6 -1.6 1.5 -3.4 4 -2.8 4.5 -1.2 2.5 -1.1 2.5 -.7 2.5 -.6 2.5 -.4 3 -.2 2.5 .1 2.5 .3 2.5 .5 2.5 .7 2.5 1 2.5 1.1 2.5 2.7 4.5 3.2 4 2 2 1.8 1.5 1.6 1.1 2 1 2 .6 1.8 .3zM150 190.9l-.4-.6 .4-.7 .5-.2 .5 0 .5 .4 .2 .5 -.2 .6 -.5 .3 -.5 0 -.5-.3zM150.5 182l-.4-.2 -.4-.5 0-.5 .3-.4 .5-.3 .5-.1 .7 .3 .3 .5 .1 .5 -.3 .5 -.8 .3 -.5-.1zM150.5 172.9l-.8-.6 -.1-.5 .3-.5 .6-.3 .5-.1 .5 .1 .4 .3 .2 .5 -.1 .5 -.5 .5 -.5 .2 -.5-.1zM150 163.4l-.4-.6 .2-.5 .7-.4 .5-.1 .6 .5 .1 .5 -.2 .5 -.5 .3 -.5 0 -.5-.2z"/>
<path fill="#f89540" d="M144.9 205.3l2.1 .3 2.5-.2 2-.8 1.9-1.3 1.5-1.7 1.3-2.3 .7-2.5 .3-2.5 .1-8 -.3-5 .2-5 -.2-4 .3-5 -.1-7.5 -.3-3.5 -.5-2 -.6-1.5 -.9-1.4 -1-1.2 -1.4-1.2 -1.5-.9 -1.5-.5 -1.5-.2 -1.5 0 -1.9 .4 -1.5 .5 -1.8 1 -1.5 1 -1.7 1.5 -3.1 3.5 -2.9 4.5 -2.3 5 -1.4 5 -.7 5 .2 5 .7 4.5 1.5 4.5 2.4 5 2.6 4 3.1 3.5 1.8 1.5 1.6 1.1 1.5 .8 1.8 .6zM150 190.9l-.4-.6 .1-.5 .3-.3 .5-.2 .5 0 .7 .5 .1 .5 -.1 .5 -.2 .2 -.5 .2 -.5 0 -.5-.3zM150.5 182.1l-.5-.3 -.4-.5 0-.5 .4-.5 1-.3 .9 .3 .3 .5 0 .5 -.3 .5 -.4 .3 -1 0zM150.5 172.9l-.8-.6 -.1-.5 .3-.5 .6-.4 1 0 .5 .4 .2 .5 0 .5 -.7 .6 -1 0zM150 163.5l-.4-.7 .1-.5 .8-.5 .5 0 .7 .5 .1 .5 -.3 .6 -.5 .3 -.5 0 -.5-.2z"/>
<path fill="#f9983e" d="M146.1 204.8l1.9 .1 2-.3 2-.9 1.4-1.1 1.5-1.8 1-2 .6-2 .3-2.5 -.2-4 .1-4.5 -.3-5 .2-4.5 -.2-4.5 .3-5 -.1-4 .2-4 -.3-2.5 -.4-1.5 -.7-1.7 -1-1.6 -1-1.1 -.9-.8 -1.5-.8 -1.5-.5 -1.5-.2 -1.5 0 -1.9 .5 -1.5 .6 -1.5 .9 -1.6 1.2 -1.5 1.5 -2.8 3.5 -2.3 4 -2 5 -1.3 5 -.5 5 .1 4.5 .8 5 1.6 5 2.2 4.5 2.6 4 2.7 3.1 1.5 1.2 1.5 .9 1.7 .8 1.8 .5zM150 190.9l-.2-.1 -.2-.5 .1-.5 .3-.3 1-.2 .8 .5 .1 .5 -.1 .5 -.3 .3 -.5 .2 -.5-.1 -.5-.3zM150 181.8l-.4-.5 0-.5 .3-.5 .6-.3 1 0 .6 .3 .3 .5 0 .5 -.3 .5 -.6 .4 -.5 0 -1-.4zM150.5 173l-.5-.3 -.4-.4 0-.5 .2-.5 1.2-.5 .5 0 .7 .5 .2 .5 0 .5 -.5 .5 -.9 .3 -.5-.1zM150 163.5l-.4-.7 .1-.5 .8-.5 .5-.1 .5 .2 .4 .4 0 .5 -.1 .5 -.3 .2 -1 .2 -.5-.2z"/>
<path fill="#f99a3e" d="M145 203.8l2 .5 2-.1 2-.5 1.5-.9 1.4-1.4 1.1-1.6 .8-2 .5-2.5 -.3-5 .2-5 -.6-4.5 .5-4 -.5-5 .6-4.5 -.2-4 .3-4.5 -.1-2 -.4-1.5 -.5-1.5 -.8-1.5 -1.1-1.2 -.9-.9 -1.5-.8 -1-.4 -1.5-.3 -1.5 0 -1.4 .3 -1.5 .6 -1.4 .7 -1.4 1 -1.6 1.5 -2.4 3 -2.2 4 -2 5 -1.2 4.5 -.6 5 0 5 .6 4.5 1.2 4.5 1.8 4.5 2.2 4 2.3 3 1.5 1.5 1.2 1 1.5 .9 1.4 .6zM151 191.3l-1.3-.5 -.2-.5 .1-.5 .4-.4 .5-.2 1 .1 .5 .5 .1 .5 -.1 .5 -.5 .4 -.5 .1zM150 181.9l-.5-.6 0-.5 .4-.5 .6-.3 1-.1 .5 .2 .3 .2 .4 .5 0 .5 -.3 .5 -.4 .3 -1 .2 -1-.4zM150.5 173l-.5-.2 -.4-.5 -.1-.5 .3-.5 .7-.4 1-.2 1 .6 .2 .5 -.1 .5 -.4 .5 -.7 .3 -1-.1zM151 163.8l-1-.2 -.3-.3 -.2-.5 .1-.5 1.4-.6 .5 .1 .5 .4 .1 .6 -.2 .5 -.4 .4 -.5 .1z"/>
<path fill="#fa9c3c" d="M145.6 203.3l1.9 .4 1.5-.1 2-.5 1.5-.9 1.4-1.4 .9-1.5 .8-2 .3-2 -.1-2 -.4-3 .3-5 -1-4.5 .7-2.5 .1-1.5 -.1-2 -.7-3 .7-2.5 .2-1.5 .1-1.5 -.3-3.5 .4-3.5 0-2.5 -.4-1.5 -.5-1.4 -.6-1.1 -.9-1.1 -.9-.9 -1.5-.9 -1-.3 -1.5-.3 -1.5 .1 -1.4 .3 -2.5 1.2 -1.5 1.2 -1.2 1.2 -2.2 3 -2.1 4 -1.7 4.5 -1.1 4.5 -.5 5 0 5 .6 4.5 1 4.5 1.7 4.5 2.1 4 2.3 3 1.1 1.1 1.5 1.2 2.5 1.2zM151 191.4l-1.3-.6 -.2-.5 .1-.5 .4-.5 .5-.1 1 0 .8 .6 .1 .5 -.2 .5 -.7 .5 -.5 .1zM151 182.3l-1.2-.5 -.3-.5 0-.5 .3-.5 .7-.4 1-.1 1.3 .5 .4 .5 0 .5 -.4 .5 -.8 .5 -1 0zM150 172.8l-.5-.5 0-.5 .2-.5 1.3-.6 1.2 .1 .7 .5 .3 .5 -.1 .5 -.5 .5 -.6 .3 -1 .1 -1-.4zM150.5 163.8l-.5-.1 -.4-.4 -.1-.5 .1-.5 1.4-.7 .7 .2 .6 .5 .1 .5 -.2 .5 -.7 .5 -1 0z"/>
<path fill="#fb9f3a" d="M146.2 202.8l1.8 .3 1.5-.1 1.5-.4 1.5-.9 1.2-1.4 .9-1.5 .6-1.5 .3-2 -.2-2 -.7-3 .6-4 -.1-1.5 -.4-1.5 -.8-1 -.5-.2 -1.4 .3 -1 0 -1.3-.6 -.3-.5 0-.5 .3-.5 .8-.4 1-.2 1.9 .3 .6-.2 .4-.6 .5-1.4 .1-1.5 -.2-1.5 -.4-1 -.5-.6 -.5-.2 -1.9 .3 -1-.2 -.7-.3 -.3-.5 -.1-.5 .2-.5 1.4-.7 1 0 1.4 .3 .5-.2 .5-.5 .4-.9 .3-1 .1-1.5 -.6-4 .8-3.5 0-2.5 -.7-2.5 -.8-1.3 -.9-1.2 -1-.8 -1-.6 -1-.3 -1.5-.2 -1.5 .1 -.9 .2 -1.4 .6 -1.1 .6 -1.5 1.2 -1.1 1.2 -2.1 3 -1.9 4 -1.5 4.5 -1 4.5 -.4 5 0 4.5 .6 5 1.1 4.5 1.6 4.5 1.9 3.5 2.3 3 2.4 2 2.2 1zM151 191.4l-1.4-.6 -.2-.5 .1-.5 .5-.5 1-.3 1 .3 .6 .5 .2 .5 -.3 .5 -.5 .4 -1 .2zM150.5 163.9l-.5-.2 -.5-.4 -.1-.5 .2-.5 1.4-.7 1 .2 .6 .5 .2 .5 -.3 .5 -.7 .5 -1.3 .1z"/>
<path fill="#fba139" d="M146.6 202.3l1.4 .3 1.5-.1 1.5-.4 1.5-1 .9-1 .8-1.3 .6-1.5 .3-2 -.3-2.5 -.9-1.6 -.5-.3 -1.4 .5 -1 .1 -1.4-.7 -.3-.5 .2-.6 .3-.4 .7-.3 1 0 1.9 .5 .7-.7 .5-1.5 .1-1.5 -.1-1 -.3-1 -.4-.6 -.5-.4 -.4-.2 -2-.2 -1.3-.6 -.3-.5 -.1-.5 .3-.5 .4-.2 1.5-.5 1.5-.1 .4-.2 .5-.4 .5-1.1 .1-1 -.2-2 -.4-.7 -.5-.4 -.4-.2 -2-.2 -1.2-.5 -.4-.5 -.1-.5 .3-.5 1.4-.7 2-.2 .4-.2 .5-.4 .6-1 .2-1 -.1-2 -.5-1.5 -.7-.8 -1.9 .5 -1 0 -.5-.2 -.5-.5 -.2-.5 .2-.5 1.5-.8 1 .1 1.4 .5 .5-.3 .5-.8 .5-1.2 .2-1.5 -.1-1.5 -.3-1.5 -.4-1 -.6-1 -.8-1 -.9-.8 -1-.6 -1-.3 -1.5-.2 -1.5 .2 -.9 .3 -1.5 .7 -1 .7 -2 2 -2 3 -1.6 3.5 -1.4 4.5 -.9 4.5 -.4 5 .1 5 .5 4.5 1 4.5 1.4 4 1.6 3.5 2.2 3 2 1.8 1.2 .7 1.3 .5z"/>
<path fill="#fca338" d="M146.8 201.8l1.2 .3 1.5-.1 1.5-.4 1-.6 1-.9 .8-1.3 .6-1.5 .3-1.5 0-1.5 -.3-1 -.4-1 -.5-.5 -.5-.2 -2 0 -1.5-.8 -.2-.5 0-.5 .7-.6 1-.3 2-.1 .4-.2 .5-.8 .3-1 0-2 -.4-1 -.4-.4 -.4-.4 -2-.5 -1-.5 -.4-.2 -.3-.5 0-.5 .3-.5 .4-.3 2.5-.7 .9-.6 .7-1.4 0-1 -.1-1 -.6-1 -.4-.4 -2-.5 -1.3-.6 -.4-.5 0-.5 .2-.5 .5-.3 1-.5 2-.5 .4-.4 .7-1.3 .2-1.5 -.3-1.5 -.6-.9 -.4-.2 -2-.1 -1-.3 -.6-.5 -.2-.5 .3-.5 1.5-.9 2 0 .4-.1 .5-.5 .5-1 .2-1 .1-2 -.6-2 -.5-1 -.7-1 -.9-.8 -1-.6 -2-.5 -1.5 .1 -1 .3 -1.9 1 -2.1 2 -2 3 -1.5 3.5 -1.4 4.5 -.8 4.5 -.4 4.5 0 5 .5 4.5 .9 4.5 1.2 4 1.6 3.5 2 3 2 1.9 1 .6 1.2 .5z"/>
<path fill="#fca537" d="M147 201.3l1 .3 1.5 0 1.5-.5 1-.6 1-.9 .7-1.3 .4-1 .3-1.5 -.2-2 -.8-1.4 -.4-.4 -2-.4 -1.5-.8 -.3-.5 0-.5 .8-.7 2.5-.5 .5-.3 .4-.5 .4-1 .1-1.5 -.6-1.5 -.5-.5 -3.3-1.5 -.3-.5 0-.5 .3-.5 .5-.3 2.5-1 .8-.7 .4-1.5 -.1-1.5 -.6-1 -.5-.3 -2.9-1.2 -.4-.5 0-.5 .2-.5 .6-.4 2.6-1.1 .6-.5 .5-1 .2-1 -.2-1.5 -.6-1 -.6-.4 -2.5-.5 -.7-.6 -.1-.5 .2-.5 1.6-.9 2-.4 .4-.4 .6-.8 .3-1 0-2 -.5-2 -.6-1 -.7-.9 -1.5-1 -1-.4 -1-.1 -2 .3 -2.1 1.1 -2 2 -1.5 2.5 -1.5 3.5 -1.3 4.5 -.8 4.5 -.4 4.5 .1 4.5 .4 5 .8 4.5 1.2 4 1.5 3.5 1.6 2.5 .9 1 1.1 1 2 1z"/>
<path fill="#fca835" d="M147.1 200.8l1.4 .4 1-.1 1-.2 1.2-.6 1-1 .7-1 .4-1 .2-1.5 -.1-1.5 -.6-1.5 -.5-.5 -1.8-.6 -1.6-.9 -.3-.5 0-.5 .4-.5 .5-.3 2.4-.7 .6-.5 .4-1 .1-1.5 -.3-1 -.3-.5 -.6-.5 -2.8-1.5 -.4-.5 0-.5 .3-.5 3-1.5 .5-.5 .3-.5 .2-1 -.2-1.5 -.7-1 -3-1.5 -.4-.5 0-.5 .4-.6 2.6-1.4 .7-.5 .5-1 .2-1 0-1 -.5-1.1 -1-.7 -2.4-.7 -.4-.5 -.1-.5 .2-.5 .2-.2 1.5-.8 1.6-.5 .6-.5 .7-1.5 .1-2 -.6-2 -1-1.5 -1.4-1 -1-.4 -1-.1 -2 .4 -1.9 1.2 -1.8 1.9 -1.4 2.5 -1.5 4 -1 4 -.6 4 -.4 4.5 0 4.5 .4 5 .7 4 1.3 4.5 1.2 3 1.4 2.5 1.7 1.8 2 1.2z"/>
<path fill="#fdab33" d="M147.1 200.3l1.4 .4 1 0 1-.2 1-.5 .8-.7 .7-1 .5-1 .3-1.5 -.2-1.5 -.4-1 -.3-.5 -.7-.5 -3-1.5 -.2-.5 0-.5 .4-.5 2.5-1 .7-.5 .3-.5 .3-1 -.2-1.5 -.5-1 -1.3-1 -1.9-1 -.3-.5 0-.5 .5-.7 1.8-.8 1.2-1 .5-1 0-1.5 -.4-1 -.4-.5 -2.8-1.5 -.3-.5 -.1-.5 .2-.5 1.8-1 1.4-1 .6-1 .2-1 -.1-1 -.4-1 -.6-.5 -2.6-1 -.4-.5 -.1-.5 .2-.5 .3-.2 3.3-1.8 .6-1 .3-1.5 -.2-2 -.4-1 -.6-1 -1.5-1.1 -1.5-.4 -1 0 -1 .2 -1.5 .8 -1.6 1.5 -1.5 2.5 -1.3 3.5 -1.2 4.5 -.7 4 -.3 4.5 -.1 4.5 .4 5 .6 4 1 4 1.2 3.5 1.3 2.5 1.7 2 1.6 1z"/>
<path fill="#fdac33" d="M148.6 200.3l.9 .1 1-.2 1.5-1 1-1.4 .3-1 .2-1 -.2-1.5 -.4-1 -.4-.5 -2.2-1.5 -1.2-.5 -.2-.5 0-.5 .3-.5 2.4-1 .7-.5 .3-.5 .3-1 -.1-1.5 -.6-1 -1.7-1.4 -1.3-.6 -.3-.5 0-.5 .3-.5 1.9-1 1.2-1 .4-1 0-1.5 -.4-1 -.4-.5 -.6-.5 -2.1-1 -.3-.5 0-.5 .2-.5 1.8-1 1.2-1 .6-1 .2-1 -.1-1 -.5-1 -.5-.5 -2.5-1 -.3-.5 -.1-.5 .2-.5 1-.5 1.5-1 1.2-1 .5-1 .2-1.5 -.3-1.5 -.8-1.5 -.4-.5 -1-.7 -1.5-.5 -1 .1 -1 .3 -1.4 .9 -1.4 1.4 -1.4 2.5 -1.1 3.5 -1.2 5 -.5 4 -.3 5 .1 5 .5 5 .8 4 1.2 4.5 1 2.5 1.4 2 .9 .8 .9 .7 1.6 .5z"/>
<path fill="#fdaf31" d="M148.1 199.8l.9 .2 1-.1 1.5-.6 .5-.5 .7-1 .4-1 .1-1 -.2-1.5 -.4-1 -2.3-2 -1.3-.5 -.3-.5 0-.5 .4-.5 2.2-1 .7-.5 .5-1 .2-1 -.2-1 -.6-1 -1.4-1.3 -1.4-.7 -.3-.5 0-.5 .2-.5 2-1 1-1 .5-1 0-1 -.2-1 -.6-1 -1.2-.9 -1.4-.6 -.3-.5 0-.5 .2-.5 1.9-1 1-1 .5-1 .3-1 -.1-1 -.5-1 -.6-.5 -2.3-1 -.4-.5 -.1-.5 .2-.5 1.9-1 1.7-1.5 .5-1 .2-1.5 -.3-1.5 -.8-1.5 -1.1-.9 -1.5-.4 -1.7 .3 -1.6 1 -1.2 1.5 -1 2 -1 3.5 -1.2 5.5 -.5 3.5 -.3 5 .1 4.5 .5 5.5 .6 3 1.3 5.5 .7 2 1.2 2 1.1 1.2 1.6 .8z"/>
<path fill="#fdb130" d="M147.9 199.3l1.1 .3 1 0 1.5-.7 1-1.2 .3-.9 .2-1 -.2-1.5 -.5-1 -2.1-2 -1.2-.4 -.4-.6 0-.5 .3-.5 .6-.4 1.6-.6 .6-.5 .6-1 .1-1 -.2-1 -.9-1.5 -.8-.8 -1.6-.7 -.3-.5 0-.5 .3-.5 2-1 .9-1 .4-1 .1-1 -.2-1 -.6-1 -1-.8 -1.5-.7 -.4-.5 0-.5 .4-.6 1.5-.7 .8-.7 .9-1.5 .2-1 -.1-1 -.5-1 -.5-.5 -2.3-1 -.4-.5 0-.5 .1-.5 .8-.5 .5 0 .7-.5 1.5-1.5 .5-1 .3-1.5 -.3-1.5 -.7-1.3 -1-.8 -1.5-.4 -1.5 .3 -1.5 1 -.9 1.2 -1 2 -2 9 -.7 8.5 0 4 .5 6 1.8 8.5 .6 2 .8 1.5 .9 1.1 1.4 .9z"/>
<path fill="#fdb42f" d="M149 199.3l1.5-.1 1-.6 .9-1.3 .3-1.5 -.2-1.5 -.9-1.5 -1.4-1.5 -1.2-.2 -.4-.3 -.3-.5 0-.5 .3-.5 .9-.5 1.4-.5 .6-.5 .6-1 .1-1 -.4-1.5 -1-1.5 -.8-.5 -1-.3 -.3-.2 -.2-.5 -.1-.5 .3-.5 .8-.5 1-.3 .8-.7 .6-1 .2-1 -.2-1.5 -.5-1 -.9-.8 -1.7-.7 -.3-.5 -.1-.5 .3-.5 .3-.3 1.5-.5 .6-.7 .7-1 .4-1.5 -.1-1 -.5-1 -1.1-.8 -1.8-.7 -.3-.5 -.1-.5 .2-.5 .5-.4 1-.1 .7-.5 1.2-1.5 .6-1 .2-1 -.1-1.5 -.7-1.5 -.9-.8 -1.5-.4 -1.5 .4 -1.1 .8 -1.1 1.5 -.7 1.5 -1.8 9.5 -.6 9 .6 9.5 1.1 5 .6 4 .6 1.5 .9 1.5 1.2 1 1.3 .5z"/>
<path fill="#feb72d" d="M148.4 198.8l1.1 .3 1-.2 .5-.2 .5-.4 .7-1 .3-1.5 -.1-1 -.3-1 -1.4-2 -.7-.6 -1 0 -.5-.2 -.3-.2 -.2-.5 0-.5 .3-.5 .9-.5 1.3-.3 .9-.7 .3-.5 .3-1 -.2-1.5 -1-2 -.8-.5 -1-.2 -.5-.3 -.3-.5 0-.5 .2-.5 .8-.5 1.3-.4 .7-.6 .5-1 .2-1 -.2-1.5 -.5-1 -.7-.7 -1.5-.5 -.5-.3 -.3-.5 0-.5 .2-.5 .6-.4 1-.2 .7-.4 .9-1.5 .4-1.5 -.1-1 -.5-1 -.9-.8 -1.5-.4 -.6-.3 -.3-.5 -.1-.5 .2-.5 .7-.5 1.1-.1 .6-.4 1.4-2 .5-1.5 -.1-1.5 -.5-1 -.9-1 -.5-.2 -1-.2 -1.3 .4 -1.2 .9 -.8 1.1 -.6 1.5 -.2 1.5 -.2 3 -1.2 5 -.5 8.5 .5 9.5 .3 2 .9 3 .3 4.5 .5 1.5 .6 1 .9 1 .9 .5z"/>
<path fill="#feb82c" d="M148.1 198.3l1.4 .5 1-.1 .5-.3 .9-1.1 .4-1.5 -.1-1 -.3-1 -1.3-2 -.6-.5 -.5 .1 -1-.1 -.9-.5 -.5-.5 .1-.5 .6-.5 .9-.5 2-.5 .6-.5 .2-.5 .3-1 -.2-1.5 -.9-2 -.7-.5 -.8 0 -.7-.2 -.4-.3 -.3-.5 0-.5 .3-.5 .4-.3 2.1-.7 .7-1 .4-1.5 -.1-1.5 -.8-1.5 -.8-.4 -1-.1 -.8-.5 -.4-.5 0-.5 .3-.5 .7-.5 1.2-.1 .6-.4 .6-1 .5-1.5 .1-1 -.2-1 -.8-1 -2.9-1 -.6-.5 -.2-.5 .3-.5 .9-.5 .7-.2 1 .1 .5-.4 1.5-2.5 .3-1.5 -.3-1.5 -.5-.8 -.5-.4 -1-.4 -1.5 .3 -1 .7 -.8 1.1 -.6 1.5 -.2 2 .6 3 -1.1 2 -.6 2 -.1 2 .1 3 -.5 4 0 2 .5 3.5 -.1 3 .1 2 .7 2 1.1 2 -.7 2.5 .1 2 .7 2 .8 1 .6 .5z"/>
<path fill="#febb2b" d="M148.7 198.3l1.3 .2 1-.3 .7-.9 .4-1 0-1 -.2-1 -1.4-2.5 -.5-.5 -1 .2 -1.5 .1 -.5 .3 -.3 .4 -.3 1 0 1.5 .5 1.5 .6 1.1 1.2 .9zM147.5 188.8l2.5-.3 .6-.2 .5-.5 .3-.5 .2-1 -.2-1.5 -.7-2 -.7-.4 -1.5-.1 -1.1-.5 -.5-.5 .1-.5 .4-.5 .9-.5 1.7-.2 .6-.3 .6-1 .3-1.5 -.1-1.5 -.7-1.5 -.7-.4 -1 0 -1-.3 -.9-.8 -.3-.5 .5-.5 .9-.5 .8-.2 1 0 .6-.3 .7-1.5 .2-1 .1-1 -.2-1 -.2-.5 -.7-.6 -3-.5 -.5 0 -.7 .6 -.5 1 -.3 1 -.1 1 .1 1.5 .9 2.5 -1.1 2.5 -.3 2 .3 2.5 1 2 .1 .5 -.7 1.5 -.2 1 -.1 1.5 .1 1 .3 1 .6 1 .6 .5 .5 0zM147.2 161.3l.3 .1 2.5 .3 .5-.4 1.1-2 .5-1.5 -.1-1.5 -.6-1 -.9-.7 -1-.2 -1 .4 -1.1 1 -.6 1 -.4 1.5 0 1 .2 1 .6 1z"/>
<path fill="#febd2a" d="M149.7 198.3l.8-.1 .6-.4 .7-1 .1-1 -.2-1.5 -1.2-2.5 -.5-.5 -1.7 .5 -.8 .4 -.5 .8 -.2 1.3 .3 1.5 .8 1.5 1.1 .9 .7 .1zM147.7 188.3l2.3 .1 .5-.1 .8-1 .1-1 -.1-1.5 -.7-2 -.6-.4 -2.5 .1 -.5 .2 -.5 .4 -.3 .7 -.2 1.5 .3 1.5 .6 1 .8 .5zM146.7 179.3l.8 .3 2.5-.1 .5-.2 .4-.5 .3-1 .2-1.5 -.3-1.5 -.5-1 -.6-.3 -2.5-.1 -.5 .1 -.5 .3 -.3 .5 -.4 1 -.1 1.5 .3 1.5 .7 1zM147 170.3l.5 .2 2.5 .1 .5-.3 .8-2 .1-1.5 -.1-1 -.7-1 -.6-.2 -2 0 -1 .4 -.5 .7 -.4 1.1 0 1.5 .2 1 .2 .6 .5 .4zM148.7 161.3l1.3 .3 .4-.3 1.4-3 .1-1.5 -.3-1 -.6-.7 -1-.4 -1 .1 -1 .7 -.6 .8 -.5 1.5 0 1.5 .3 1 .3 .5 1.2 .5z"/>
<path fill="#fec029" d="M148.8 197.8l.7 .3 1-.1 .8-.7 .4-1 0-1 -.2-1 -1.1-2.5 -.4-.5 -2 1 -.4 .5 -.4 1 .1 1.5 .3 1 .6 1 .6 .5zM149.1 188.3l.9 .1 .5-.2 .4-.4 .4-1 -.1-1.5 -.5-2 -.2-.5 -.5-.4 -2.5 .7 -.6 .7 -.3 1 .1 1.5 .5 1 .8 .7 1.1 .3zM148.7 179.3l1.3 .2 .4-.2 .4-.5 .3-1 .1-1.5 -.2-1.5 -.5-1 -.5-.3 -2.5 .5 -.8 .8 -.4 1 .1 1.5 .3 1 .8 .7 1.2 .3zM148.8 170.3l1.2 .3 .5-.3 .6-2 .2-1.5 -.1-1 -.2-.5 -.5-.5 -.5-.2 -1.4 .2 -1.1 .5 -.4 .5 -.4 1 -.1 1.5 .4 1 .5 .6 1.3 .4zM149.1 161.3l.9 .3 .4-.3 1.3-3.5 0-1 -.3-1 -.5-.5 -.9-.4 -1 .2 -.9 .7 -.6 1 -.3 1 .1 1.5 .4 1 .5 .5 .9 .5z"/>
<path fill="#fdc328" d="M149.3 197.8l.7 .1 .5-.1 .6-.5 .5-1 -.2-1.5 -1-3 -.4-.4 -1.5 .9 -.5 .5 -.2 .5 -.3 1 .1 1 .3 1 .6 1 .8 .5zM149.8 188.3l.7-.2 .3-.3 .3-1.5 -.4-3 -.2-.5 -.5-.3 -2 .8 -.7 1 -.2 1 .1 1 .5 1 .8 .6 1.3 .4zM149.3 179.3l.7 .1 .5-.3 .3-.3 .2-1 0-2 -.2-1.5 -.3-.5 -.5-.2 -2.2 .7 -.7 1 -.3 1 .1 1 .5 1 .6 .5 1.3 .5zM149.2 170.3l.8 .3 .4-.3 .2-.5 .5-2.5 0-1 -.2-1 -.4-.4 -.5-.2 -.8 .1 -1.1 .5 -.8 1 -.2 1 0 1 .5 1 .5 .5 1.1 .5zM149.4 161.3l.6 .3 .3-.3 1.1-3 .2-1 -.2-1 -.2-.5 -.7-.6 -.5-.1 -.9 .2 -.7 .5 -.6 1 -.2 1 -.1 1 .3 1 .8 1 .8 .5z"/>
<path fill="#fdc527" d="M148.8 197.3l.7 .4 1 0 .5-.4 .4-1 -.1-1.5 -.8-2.1 -.2-.9 -.3-.4 -1.6 1.4 -.5 1 -.1 1 .2 1 .4 1 .4 .5zM148.7 187.8l1.3 .5 .8-.5 .1-.5 .1-1.1 -.4-2.9 -.2-.5 -.4-.3 -1.5 .8 -.5 .5 -.4 1 -.1 1 .3 1 .9 1zM149.6 179.3l.6 0 .5-.5 .1-1 -.1-3.5 -.3-.5 -.4-.2 -1.6 .7 -.6 .5 -.3 .5 -.2 1 .1 1 .5 1 .6 .5 1.1 .5zM149.5 170.3l.5 .2 .4-.2 .2-.5 .4-3 -.2-1.5 -.3-.4 -.5-.2 -1 .3 -1 .8 -.3 .5 -.2 1 .1 1 .5 1 1.4 1zM149.5 161.3l.5 .2 .3-.2 1.1-4 -.1-1 -.3-.5 -.5-.4 -.5-.2 -.5 .1 -.8 .5 -.6 1 -.3 1 0 1 .3 1 .4 .5 1 1z"/>
<path fill="#fdc827" d="M149.1 197.3l.9 .3 .5-.1 .5-.5 .3-.7 -.2-1.5 -.6-1.7 -.2-1.3 -.3-.3 -1.3 1.3 -.6 1.5 .1 1.5 .4 1 .5 .5zM149 187.8l1 .4 .7-.4 .1-.5 -.3-4 -.1-.5 -.4-.3 -1.2 .8 -.4 .5 -.5 1 .1 1.5 .5 1 .5 .5zM149.8 179.3l.3 0 .5-.5 .1-1 0-3.5 -.4-.5 -.3-.2 -1.3 .7 -.5 .5 -.3 .5 -.2 1 .1 1 .5 1 .6 .5 .9 .5zM149.6 170.3l.4 .2 .3-.2 .5-3.5 0-1.5 -.8-.5 -1.1 .5 -.5 .5 -.3 .5 -.3 1 .3 1.5 .4 .5 1.1 1zM149.6 161.3l.4 .2 .2-.2 .3-1.4 .8-2.6 0-.5 -.3-.8 -.5-.5 -.5-.1 -.5 .1 -.5 .3 -.4 .5 -.5 1.5 0 1 .4 1 1.1 1.5z"/>
<path fill="#fdca26" d="M149.4 197.3l.6 .2 .5-.2 .5-.5 .2-.5 -.1-1 -.6-1.7 -.3-1.8 -.2-.2 -.4 .2 -.7 1 -.5 1.5 -.1 1 .3 1 .3 .5 .5 .5zM149.2 187.8l.8 .4 .6-.4 .2-.5 -.4-4 -.1-.5 -.3-.2 -.4 .2 -.9 1 -.5 1 .1 1.5 .4 1 .5 .5zM149.1 178.8l.9 .5 .6-.5 0-4.5 -.6-.6 -.3 .1 -1.1 1 -.5 1 0 1.5 .5 1 .5 .5zM149.6 170.3l.4 .2 .3-.2 .1-.5 .4-3.5 -.1-1 -.7-.5 -.9 .5 -.4 .5 -.5 1.5 .3 1.5 1.1 1.5zM149.7 161.3l.3 .2 .2-.2 .3-1.9 .7-2.1 -.2-1.1 -.5-.6 -.5-.1 -.7 .3 -.5 .5 -.5 1.5 .1 1 .3 1 1 1.5z"/>
<path fill="#fccd25" d="M149.9 197.3l.6-.1 .4-.4 .1-.5 -.1-1 -.4-1.2 -.3-2.3 -.2-.2 -.3 .2 -.8 1.5 -.3 1.5 .2 1.5 .3 .5 .8 .5zM149.4 187.8l.6 .3 .6-.3 .1-.5 -.3-4 -.1-.5 -.3-.2 -.4 .2 -.7 1 -.4 1.5 .2 1.5 .7 1zM149.3 178.8l.7 .4 .5-.4 0-4.5 -.5-.6 -.8 .6 -.4 .5 -.5 1.5 .3 1.5 .7 1zM149.7 170.3l.3 .1 .2-.1 .2-.5 .3-4 -.1-.5 -.6-.4 -.7 .4 -.4 .5 -.4 1.5 .2 1.5 1 1.5zM149.7 161.3l.3 .1 .2-.1 .3-2.4 .5-1.6 -.1-1 -.4-.5 -.5-.2 -.5 .2 -.5 .5 -.3 .5 -.1 1 .2 1.5 .9 2z"/>
<path fill="#fcd025" d="M149.2 196.8l.8 .4 .5-.1 .4-.8 -.1-1 -.4-1 -.3-2.5 -.1-.1 -.2 .1 -.9 2.5 -.1 1.5 .4 1zM149.5 187.8l.5 .3 .5-.3 .1-.5 -.3-4 -.1-.5 -.2-.2 -.3 .2 -.6 1 -.4 1.5 .2 1.5 .6 1zM149.4 178.8l.6 .4 .4-.4 .1-4.5 -.5-.5 -.7 .5 -.3 .5 -.4 1.5 .2 1.5 .6 1zM149.8 170.3l.2 .1 .2-.1 .1-.5 .3-4 -.1-.5 -.5-.4 -.6 .4 -.3 .5 -.4 1.5 .3 1.5 .8 1.5zM149.8 161.3l.3 0 .3-2.5 .5-2 -.1-.5 -.3-.4 -.5-.1 -.8 .5 -.3 .5 -.1 1 .2 1.5 .8 2z"/>
<path fill="#fcd225" d="M149.4 196.8l.6 .4 .5-.2 .3-.7 -.4-2 -.4-2.6 -.6 1.6 -.4 1.5 0 1 .4 1zM149.6 187.8l.4 .3 .4-.3 .1-.5 -.2-4 -.1-.5 -.2-.1 -.3 .1 -.4 1 -.3 1.5 .1 1.5 .5 1zM149.5 178.8l.5 .3 .4-.3 0-4.5 -.4-.5 -.8 1 -.3 1.5 .2 1.5 .4 1zM149.8 170.3l.3 0 .2-.5 .2-4 0-.5 -.5-.3 -.5 .3 -.3 .5 -.3 1.5 .3 1.5 .6 1.5zM149.9 161.3l.2 0 .2-2.5 .6-2 -.4-.8 -.5-.1 -.7 .4 -.2 .5 -.1 1 .2 1.5 .7 2z"/>
<path fill="#fbd524" d="M149.6 196.8l.4 .3 .5-.2 .3-.6 -.5-2 -.3-2.5 -.9 3.5 .2 1 .3 .5zM149.7 187.8l.3 .2 .3-.2 .2-.5 -.3-4 0-.5 -.2-.1 -.2 .1 -.2 .5 -.4 2 .1 1.5 .4 1zM149.6 178.8l.4 .3 .3-.3 0-4.5 -.3-.4 -.4 .4 -.2 .5 -.3 1.5 .1 1.5 .4 1zM149.9 170.3l.2 0 .1-.5 .2-4 0-.5 -.4-.3 -.4 .3 -.2 .5 -.2 1.5 .2 1.5 .5 1.5zM150 161.3l.4-3 .4-1.5 -.3-.7 -.5-.2 -.5 .4 -.4 1 .1 1 .8 3z"/>
<path fill="#fbd724" d="M149.7 196.8l.3 .2 .4-.2 .3-.5 -.5-2 -.2-2.3 -.7 3.3 .1 1 .3 .5zM149.7 187.8l.3 .2 .3-.2 .1-.5 -.2-4 -.2-.6 -.3 .6 -.3 2.5 0 1 .3 1zM149.7 178.8l.3 .2 .3-.2 0-4.5 -.3-.4 -.4 .4 -.3 1.5 .1 1.5 .3 1.5zM150 170.3l.2-.5 .2-4 -.1-.5 -.3-.2 -.3 .2 -.3 1.5 .2 2 .4 1.5zM150 160.8l.3-2.5 .4-1.5 -.2-.6 -.5-.2 -.4 .3 -.3 1 .7 3.5z"/>
<path fill="#fada24" d="M149.9 196.8l.3 0 .4-.5 -.4-1.5 -.2-1.8 -.6 2.8 .1 .5 .4 .5zM149.8 187.8l.2 .1 .2-.1 .1-.5 -.3-4.5 -.2 .5 -.2 3 0 1 .2 .5zM149.7 178.8l.3 .2 .2-.2 0-4.5 -.2-.3 -.3 .3 -.2 1.5 .2 3zM149.8 169.8l.2 .4 .1-.4 .2-4 0-.5 -.3-.2 -.3 .2 -.1 1 .2 3.5zM150 159.8l.2-1.5 .4-1.5 -.2-.5 -.4-.2 -.3 .2 -.2 .5 -.1 .5 .6 2.5z"/>
<path fill="#f9dd25" d="M149.6 196.3l.4 .5 .5-.5 -.5-2.3 -.3 1.3 -.1 1zM149.9 187.8l.2 0 .1-.5 -.2-4.5 -.3 4 .2 1zM149.8 178.8l.2 .1 .2-.1 0-4.5 -.2-.2 -.2 .2 0 .5 0 4zM149.9 169.8l.1 .2 0-.2 .2-4 0-.5 -.2-.2 -.2 .2 -.1 .5 .2 4zM150 158.8l.5-2 -.5-.6 -.4 .6 .4 2z"/>
<path fill="#f8df25" d="M149.7 196.3l.3 .4 .4-.4 -.4-1.6 -.3 1.6zM150 187.8l.2-.5 -.2-1.4 -.2 1.4 .2 .5zM149.9 178.8l.2 0 0-4.5 -.1-.1 -.1 .1 0 4.5zM149.9 166.8l.1 .4 .1-1.4 .1-.5 -.2-.1 -.2 .1 0 .5 .1 1zM149.8 157.8l.2 .5 .4-1.5 -.4-.5 -.3 .5 .1 1z"/>
<path fill="#f7e225" d="M149.7 196.3l.3 .3 .3-.3 -.3-1 -.3 1zM149.9 187.3l.1 .4 .1-.4 -.1-.5 -.1 .5zM149.9 178.8l.1 0 0-.6 -.1 .6zM149.9 174.3l.1 .5 0-.5 -.1 0zM149.9 165.8l.1 .4 0-1 -.1 .6zM149.8 157.3l.2 .4 .3-.9 -.3-.4 -.3 .4 .1 .5z"/>
<path fill="#f7e425" d="M149.8 196.3l.2 .2 .3-.2 -.3-.7 -.2 .7zM150 165.3l0 .4 0-.4zM150 157.3l.2-.5 -.2-.3 -.2 .3 .2 .5z"/>
<path fill="#f6e826" d="M149.9 196.3l.1 .2 .2-.2 -.2-.4 -.1 .4zM149.9 156.8l.1 .3 .1-.3 -.1-.2 -.1 .2z"/>
<path fill="#f5eb27" d="M149.9 196.3l.2 0 -.1-.2 -.1 .2zM150 156.8l0 .1 0-.1z"/>
<path fill="none" stroke="#000" stroke-opacity=".88" stroke-width=".8" d="M101.9 18.7l-8.3 22.5 -3.9 11.5 -3.5 11 -3 10 -2.9 10.5 -2.6 10 -2.3 10.1 -1.9 9.5 -1.6 9 -1.4 9 -1.2 9 -.9 8.8 -.6 8.8 -.4 9.1 -.1 9.2 .1 9 .4 9 .7 8.8 .8 8.8 1.2 9 1.4 9 1.6 9 2 9.5 2.3 10.1 2.5 10 2.9 10.5 3.3 11 7.1 21.5 4 11 4.5 12M158.2 18.7l-8.8 9.8 -8.4 10 -7.8 10 -7.3 10.2 -6.9 10.2 -6.4 10.3 -5.5 9.9 -5 10.2 -4.3 9.7 -3.8 9.8 -3.1 9.5 -2.6 10 -1.9 9.5 -1.4 9.5 -.8 9.7 -.3 9.8 .3 9.8 .9 9.9 1.5 9.8 2 9.5 2.5 9.5 3.1 9.5 3.7 9.5 4.5 10 5 10.1 5.6 10 6.4 10.4 6.9 10.3 7.4 10.1 7.9 10 8.4 9.9 8.8 9.8M183.5 44l-10.3 6.9 -9.9 7.2 -9.2 7.4 -9 8 -8.4 8.2 -7.4 8.1 -6.9 8.4 -5.9 8.2 -5.2 8.4 -4.7 8.5 -3.8 8.5 -3.2 9 -2.5 8.8 -1.7 8.7 -1 9 -.4 9.2 .4 9.2 1 9 1.8 8.8 2.4 8.8 3.3 9 3.7 8.4 4.7 8.6 5.2 8.3 5.9 8.2 6.9 8.4 7.4 8.1 8.4 8.3 9 7.9 9.2 7.4 9.9 7.2 10.3 6.9M183.5 73.6l-9.4 4.4 -8.8 4.8 -8.4 5.1 -8 5.6 -7.3 5.7 -6.9 6.1 -6.4 6.5 -5.4 6.3 -4.9 6.8 -4.3 6.9 -3.6 7 -2.9 7 -2.3 7.4 -1.6 7.6 -1.1 7.8 -.3 7.9 .3 7.9 1.1 7.9 1.6 7.5 2.4 7.5 2.9 7 3.5 7 4.3 6.8 4.9 6.8 5.4 6.3 6.4 6.5 6.8 6 7.5 5.9 7.9 5.5 8.4 5.1 8.8 4.8 9.4 4.4M183.5 94l-8.4 2.7 -7.9 3.1 -7.4 3.4 -7.3 3.9 -6.9 4.4 -6.2 4.5 -5.7 4.8 -5.4 5.4 -4.4 5.3 -4.1 5.8 -3.4 6 -2.9 6.3 -2.1 6.4 -1.6 6.8 -1 6.9 -.3 6.8 .3 7 1 6.8 1.6 6.6 2.2 6.6 2.8 6.3 3.5 6 4 5.7 4.4 5.3 5.4 5.4 5.7 4.8 6.2 4.5 6.6 4.2 7.3 4 7.7 3.5 7.9 3.1 8.4 2.7M183.5 108.9l-7.4 1.3 -7.4 1.9 -7.4 2.5 -6.7 2.8 -6.3 3.3 -6 3.7 -5.1 3.8 -4.9 4.4 -4.4 4.7 -3.5 4.6 -3.3 5.4 -2.5 5.2 -2 5.7 -1.5 6 -.9 6.1 -.3 6.2 .3 6.1 .9 6.2 1.5 6 2 5.7 2.6 5.3 3.2 5.3 3.6 4.7 4.3 4.6 4.9 4.4 5.2 3.9 6.1 3.8 6.3 3.1 7 3 6.9 2.3 7.4 1.9 7.4 1.3M183.5 121.8l-6.9 .3 -6.4 .8 -6.4 1.3 -6.2 1.8 -5.8 2.1 -5.6 2.8 -5 3 -4.5 3.4 -4 3.7 -3.6 4.3 -3 4.5 -2.5 4.7 -1.9 5 -1.5 5.5 -.9 5.8 -.3 5.7 .3 5.7 .9 5.7 1.4 5.4 2 5.2 2.5 4.8 3.1 4.5 3.5 4.2 4 3.7 4.5 3.4 5 3 5.8 2.8 5.7 2.2 6.1 1.7 6.4 1.3 6.4 .8 6.9 .3M183.5 133.1l-5.9-.6 -6.4 0 -5.9 .4 -5.8 1 -5.6 1.4 -5 1.9 -4.8 2.3 -4.3 2.7 -3.6 2.9 -3.5 3.5 -2.9 3.9 -2.4 4.2 -1.9 4.6 -1.4 4.8 -.8 5.2 -.3 5.2 .3 5.3 .8 5 1.4 4.9 1.9 4.6 2.4 4.2 2.9 3.8 3.4 3.5 3.5 2.9 4.4 2.8 4.6 2.2 5.2 1.9 5.7 1.5 5.8 1 5.9 .4 5.9 0 6.4-.6M183.5 142.3l-5.4-1.3 -5.4-.8 -6-.3 -5.4 .3 -5.3 .7 -4.9 1.2 -4.6 1.7 -4.1 2.1 -3.6 2.6 -3.1 2.9 -2.7 3.3 -2.3 3.7 -1.8 4.2 -1.3 4.4 -.8 4.8 -.3 4.7 .3 4.8 .8 4.6 1.3 4.4 1.8 4.2 2.3 3.8 2.7 3.3 3.1 2.9 3.6 2.6 4.1 2.1 4.8 1.7 4.9 1.2 5.1 .7 5.4 .3 6-.3 5.4-.8 5.4-1.3M183.5 150.6l-4.4-2.1 -5-1.6 -4.9-1.2 -5.4-.6 -5 0 -4.7 .5 -4.5 1 -4 1.6 -3.5 2 -3 2.4 -2.7 3 -2.2 3.5 -1.9 4 -1.3 4.2 -.8 4.6 -.3 4.6 .3 4.6 .8 4.6 1.3 4.2 1.8 3.9 2.3 3.5 2.5 2.9 3.1 2.6 3.4 1.9 4.2 1.7 4.3 1 4.9 .5 5 0 5.4-.6 4.9-1.2 5-1.6 4.4-2.1M183.5 159.9l-3.4-3 -4-2.7 -4.4-2.2 -4.9-1.7 -5-1 -4.7-.4 -4.4 .3 -4.2 1 -3.3 1.4 -3 2 -2.6 2.6 -2.2 3.1 -1.9 4 -1.4 4.2 -.8 4.4 -.3 4.6 .3 4.6 .8 4.4 1.4 4.3 1.9 3.8 2.2 3.2 2.7 2.7 2.9 1.9 3.4 1.5 4.1 .9 4.4 .3 4.7-.4 5.1-1 4.8-1.7 4.4-2.2 4-2.7 3.4-3M151 200.9l2.4 .2 2.5-.1 2.6-.3 2.7-.7 2.7-.9 2.6-1.1 2.5-1.3 2.4-1.5 2.2-1.8 1.9-1.7 1.7-2 1.4-2 1.3-2.2 .9-2.2 .7-2.2 .4-2.4 .1-2.4 -.1-2.2 -.4-2.3 -.7-2.1 -.9-2.2 -1.1-2 -1.4-2 -1.7-2 -1.9-1.7 -2.2-1.8 -2.3-1.5 -2.4-1.4 -2.5-1.1 -2.6-.9 -2.6-.6 -2.6-.5 -4.1-.1 -1.8 .2 -1.8 .5 -1.6 .5 -1.5 .8 -1.4 1 -1.3 1.2 -1.4 1.5 -1.2 1.7 -2.1 4 -1.4 4.4 -.9 4.8 -.2 5.1 .5 5.2 1.2 4.7 1.9 4.4 2.2 3.5 1.3 1.4 1.4 1.3 1.4 1 1.7 .8 1.7 .6 1.8 .4M150.6 198.8l1.8 .1 2-.2 2.2-.5 2.3-.8 2.3-1.1 2-1.1 2.3-1.6 1.9-1.5 1.6-1.5 1.5-1.8 1.3-1.8 1.1-1.9 .9-2 .5-1.8 .5-2 .2-2 -.1-2 -.2-2 -.4-1.9 -.7-2 -.8-1.7 -1.2-2 -1.3-1.8 -1.4-1.6 -3.5-3 -1.8-1.3 -2.4-1.3 -2.2-1 -2.3-.8 -2.2-.6 -2-.2 -2.8 .2 -2.2 .9 -2.2 1.6 -1.9 2.3 -2 3.5 -1.5 4 -.9 3.9 -.5 4.4 .1 4.4 .6 4.2 1.1 4 1.5 3.7 1.9 3.1 2.1 2.4 2.2 1.4 1.3 .5 1.3 .2M150.3 197.3l1.4-.1 1.5-.3 3.4-1.6 3.8-2.5 3.2-3 2.3-3 1.7-3.3 1.1-3.3 .4-3.5 -.3-3.4 -1-3.4 -1.7-3.3 -2.1-2.9 -3.1-3.1 -3.7-2.6 -3.5-1.7 -1.6-.5 -1.4-.1 -1 .1 -.8 .3 -1.7 1.2 -1.6 2 -1.5 2.9 -1.4 3.3 -.9 3.1 -.7 3.9 -.2 3.8 .2 3.7 .6 3.7 .8 3.1 1.1 2.9 1.7 3.5 1.5 2.1 1.7 1.4 .9 .4 .9 .2M149.9 196.3l.4 .1 1.2-.6 2.3-1.5 4-3.7 2.4-2.9 1.5-2.4 1.3-2.9 .7-2.8 .3-2.9 -.2-2.9 -.7-2.8 -1.1-2.7 -1.5-2.6 -2.4-2.9 -3.8-3.7 -2.2-1.6 -2-.9 -1.3 1 -1.1 1.5 -3 7 -.9 4 -.5 3.7 -.2 2.5 .2 2.5 .4 3.4 .4 2.4 .5 2 3.1 7.3 1 1.4 1.2 1M150 195.2l.3 0 1-1.1 1.8-3.3 2.8-3.1 1.5-2.4 .9-2.2 .7-2.3 .4-2.1 .2-2.2 -.2-2 -.4-2.2 -.7-2.4 -.9-2.1 -1.6-2.5 -2.7-3.1 -1.5-2.9 -1.5-1.6 -.6 1 -.5 1.1 -.3 3 -1.7 2.7 -.7 2 -.3 1.7 -.8 7.3 .8 7.2 .3 1.8 .7 2 1.7 2.6 .2 2.9 .5 1.1 .6 1.1M149.9 188.1l.9 .1 1-.4 1-.8 .8-1.2 .6-1.8 1.3-5.5 .2-1.8 -.2-2.3 -1.7-6.7 -.6-1.1 -.8-1 -1-.6 -.9-.2 -.8 .1 -.5 .4 -.7 .8 -.4 1.1 -.3 1.8 .2 2.9 -.8 2.9 -.1 1.5 .1 1.7 .8 3.1 -.2 2.7 .2 1.7 .8 1.8 .5 .5 .6 .3M150.1 187l0 .2 .9-1.3 .4-1.5 -.1-.7 -.2-.6 -.8-.5 -.3 0 -.4 .5 -.3 1.1 .2 1.5 .6 1.3M149.9 179.3l.8 .2 .8-.5 .7-.9 .4-1.2 -.1-1.1 -.4-1.2 -.7-.8 -.8-.3 -.7 .2 -.5 .4 -.5 .7 -.2 1 0 1.1 .2 1.1 .4 .9 .6 .4M149.9 170.3l.5 .1 .5-.3 .4-.7 .1-.6 -.3-1.6 -1-1.3 -.5 1.1 -.3 1.3 .1 1.2 .5 .8"/>
<rect x="150.2" y="151.9" width="5.3" height="49.2" fill="none" stroke="#000" stroke-opacity=".6" stroke-width=".5"/>
<path d="M150.2 156.0V197.0" stroke="#1a1000" stroke-width="1.2" stroke-opacity=".9"/>
<path d="M100.9 21.3L101.6 26.5L96.9 24.8zM133.1 48.7L132.3 53.9L128.3 50.9zM152.9 66.5L151.1 71.4L147.8 67.6zM165.5 82.7L162.8 87.2L160.2 82.9zM170.8 98.3L167.5 102.4L165.6 97.7zM172.6 111.0L168.9 114.7L167.5 109.9zM174.2 122.3L170.0 125.4L169.3 120.5zM174.2 132.4L169.7 135.0L169.5 130.0zM174.2 140.3L169.4 142.5L169.8 137.5zM174.6 146.9L169.6 148.3L170.7 143.4zM173.3 159.1L168.1 158.5L170.9 154.4zM130.1 300.3L134.9 302.6L130.9 305.5zM149.1 283.2L154.2 284.3L150.9 288.1zM161.1 267.8L166.4 267.9L163.8 272.2zM165.9 252.7L171.1 252.1L169.2 256.7zM167.9 240.7L173.0 239.5L171.7 244.3zM169.1 230.0L174.0 228.2L173.3 233.1zM169.1 220.5L173.8 218.1L173.7 223.1zM169.2 213.1L173.5 210.2L173.9 215.2zM169.7 207.2L173.6 203.7L174.8 208.6zM169.1 196.8L171.4 192.1L174.3 196.2zM97.9 323.7L101.8 327.1L97.1 328.8zM67.3 173.7L69.8 178.3L64.8 178.3zM83.9 173.7L86.4 178.3L81.4 178.3zM94.0 173.7L96.5 178.3L91.5 178.3zM101.9 173.7L104.4 178.3L99.4 178.3zM108.5 173.7L111.0 178.3L106.0 178.3zM113.9 173.7L116.4 178.3L111.4 178.3zM119.0 173.7L121.5 178.3L116.5 178.3zM123.0 173.7L125.5 178.3L120.5 178.3zM126.5 173.7L129.0 178.3L124.0 178.3zM129.9 173.7L132.4 178.3L127.4 178.3zM133.0 173.7L135.5 178.3L130.5 178.3zM169.1 178.7L166.6 174.1L171.6 174.1zM175.0 178.7L172.5 174.1L177.5 174.1z"/>
</g>
<rect x="53.4" y="20.2" width="128.6" height="313.2" fill="none" stroke="#000" stroke-opacity=".55" stroke-width=".9"/>
<path d="M53.4 333.5h2.6M182.0 333.5h-2.6M53.4 316.1h2.6M182.0 316.1h-2.6M53.4 298.6h2.6M182.0 298.6h-2.6M53.4 281.2h2.6M182.0 281.2h-2.6M53.4 263.8h2.6M182.0 263.8h-2.6M53.4 246.3h2.6M182.0 246.3h-2.6M53.4 228.8h2.6M182.0 228.8h-2.6M53.4 211.4h2.6M182.0 211.4h-2.6M53.4 193.9h2.6M182.0 193.9h-2.6M53.4 176.5h2.6M182.0 176.5h-2.6M53.4 159.1h2.6M182.0 159.1h-2.6M53.4 141.6h2.6M182.0 141.6h-2.6M53.4 124.2h2.6M182.0 124.2h-2.6M53.4 106.7h2.6M182.0 106.7h-2.6M53.4 89.2h2.6M182.0 89.2h-2.6M53.4 71.8h2.6M182.0 71.8h-2.6M53.4 54.3h2.6M182.0 54.3h-2.6M53.4 36.9h2.6M182.0 36.9h-2.6M54.9 333.4v-2.6M54.9 20.2v2.6M93.0 333.4v-2.6M93.0 20.2v2.6M131.1 333.4v-2.6M131.1 20.2v2.6M169.2 333.4v-2.6M169.2 20.2v2.6" stroke="#000" stroke-opacity=".8" stroke-width=".8" fill="none"/>
<text x="50.3" y="337.9" text-anchor="end">-0.18</text>
<text x="50.3" y="320.5" text-anchor="end">-0.16</text>
<text x="50.3" y="303.0" text-anchor="end">-0.14</text>
<text x="50.3" y="285.6" text-anchor="end">-0.12</text>
<text x="50.3" y="268.1" text-anchor="end">-0.1</text>
<text x="50.3" y="250.7" text-anchor="end">-0.08</text>
<text x="50.3" y="233.2" text-anchor="end">-0.06</text>
<text x="50.3" y="215.8" text-anchor="end">-0.04</text>
<text x="50.3" y="198.3" text-anchor="end">-0.02</text>
<text x="50.3" y="180.9" text-anchor="end">0</text>
<text x="50.3" y="163.5" text-anchor="end">0.02</text>
<text x="50.3" y="146.0" text-anchor="end">0.04</text>
<text x="50.3" y="128.6" text-anchor="end">0.06</text>
<text x="50.3" y="111.1" text-anchor="end">0.08</text>
<text x="50.3" y="93.7" text-anchor="end">0.1</text>
<text x="50.3" y="76.2" text-anchor="end">0.12</text>
<text x="50.3" y="58.7" text-anchor="end">0.14</text>
<text x="50.3" y="41.3" text-anchor="end">0.16</text>
<text x="55.2" y="348.7" text-anchor="middle">0</text>
<text x="93.3" y="348.7" text-anchor="middle">0.5</text>
<text x="131.4" y="348.7" text-anchor="middle">0.1</text>
<text x="169.5" y="348.7" text-anchor="middle">0.15</text>
<text x="117.5" y="362.2" text-anchor="middle" font-size="13.5">Radial axis [m]</text>
<text transform="translate(12 173.3) rotate(-90)" text-anchor="middle" font-size="13.5">Axial symmetry axis [m]</text>
<text x="17.6" y="11.7" font-size="13.5">Surface: Magnetic flux density [T]</text>
<rect x="195.4" y="62.6" width="9.7" height="249.4" fill="url(#cb)" stroke="#222" stroke-opacity=".6" stroke-width=".7"/>
<path d="M195.4 312.0h2.2M205.1 312.0h-2.2M195.4 287.6h1.6M205.1 287.6h-1.6M195.4 273.3h1.6M205.1 273.3h-1.6M195.4 263.2h1.6M205.1 263.2h-1.6M195.4 255.3h1.6M205.1 255.3h-1.6M195.4 248.9h1.6M205.1 248.9h-1.6M195.4 243.5h1.6M205.1 243.5h-1.6M195.4 238.8h1.6M205.1 238.8h-1.6M195.4 234.6h1.6M205.1 234.6h-1.6M195.4 230.9h2.2M205.1 230.9h-2.2M195.4 206.5h1.6M205.1 206.5h-1.6M195.4 192.2h1.6M205.1 192.2h-1.6M195.4 182.1h1.6M205.1 182.1h-1.6M195.4 174.2h1.6M205.1 174.2h-1.6M195.4 167.8h1.6M205.1 167.8h-1.6M195.4 162.4h1.6M205.1 162.4h-1.6M195.4 157.7h1.6M205.1 157.7h-1.6M195.4 153.5h1.6M205.1 153.5h-1.6M195.4 149.8h2.2M205.1 149.8h-2.2M195.4 125.4h1.6M205.1 125.4h-1.6M195.4 111.1h1.6M205.1 111.1h-1.6M195.4 101.0h1.6M205.1 101.0h-1.6M195.4 93.1h1.6M205.1 93.1h-1.6M195.4 86.7h1.6M205.1 86.7h-1.6M195.4 81.3h1.6M205.1 81.3h-1.6M195.4 76.6h1.6M205.1 76.6h-1.6M195.4 72.4h1.6M205.1 72.4h-1.6M195.4 68.7h2.2M205.1 68.7h-2.2" stroke="#000" stroke-opacity=".8" stroke-width=".7" fill="none"/>
<text x="209.6" y="74.2">10<tspan dx="1" dy="-5.9" font-size="7.5">0</tspan></text>
<text x="209.6" y="155.6">10<tspan dx="1.1" dy="-8.2" font-size="9" font-weight="bold">-</tspan><tspan dx=".3" dy="2.3" font-size="7.5">1</tspan></text>
<text x="209.6" y="236.7">10<tspan dx="1.1" dy="-8.2" font-size="9" font-weight="bold">-</tspan><tspan dx=".3" dy="2.3" font-size="7.5">2</tspan></text>
<text x="209.6" y="317.7">10<tspan dx="1.1" dy="-8.2" font-size="9" font-weight="bold">-</tspan><tspan dx=".3" dy="2.3" font-size="7.5">3</tspan></text>
<path d="M187.3 38.7L193.7 28.6L200.1 38.7zM187.3 322.6L199.8 322.6L193.55 333z"/>
<text x="205.5" y="39.4">1.19</text>
<text x="205.6" y="331.8">0</text>
<path d="M154.4 144.7L261.1 81.8M152 204.7L267.1 274" stroke="#fff" stroke-opacity=".55" stroke-width=".6" fill="none"/>
<path d="M154.4 144.7L261.1 81.8" stroke="#c6c6c6" stroke-width="2.4" stroke-dasharray="5 6.87" fill="none"/>
<path d="M152 204.7L267.1 274" stroke="#c6c6c6" stroke-width="2.4" stroke-dasharray="5 6.76" fill="none"/>
<ellipse cx="151.4" cy="175.5" rx="11.4" ry="29.3" fill="none" stroke="#d3d3d3" stroke-width="2"/>
<g clip-path="url(#ci)">
<rect x="240" y="68.3" width="98" height="217.4" fill="#ae2892"/>
<path fill="#b02991" d="M239 286.7l100 0 0-219.4 -100 0 0 219.4z"/>
<path fill="#b22b8f" d="M239 286.7l100 0 0-219.4 -100 0 0 219.4zM279.3 193.6l0-.1 0 .1zM279.3 160.6l0-.1 0 .1z"/>
<path fill="#b32c8e" d="M239 286.7l100 0 0-219.4 -100 0 0 219.4zM279.3 193.7l0-.3 0 .3zM279.3 160.7l0-.3 0 .3z"/>
<path fill="#b52f8c" d="M239 286.7l100 0 0-219.4 -100 0 0 219.4zM279.3 193.8l-.1-.3 .1-.1 .1 .1 -.1 .3zM279.3 160.8l0-.4 .1 .1 -.1 .3z"/>
<path fill="#b6308b" d="M239 286.7l100 0 0-219.4 -100 0 0 219.4zM279.3 193.9l-.1-.4 .1-.1 .2 .1 -.2 .4zM279.3 160.9l-.1-.4 .1-.1 .2 .1 -.2 .4z"/>
<path fill="#b83289" d="M239 286.7l100 0 0-219.4 -100 0 0 219.4zM279.3 194l-.2-.5 .2-.1 .2 .1 -.2 .5zM279.3 161l-.2-.5 .2-.1 .2 .1 -.2 .5z"/>
<path fill="#bb3488" d="M239 286.7l100 0 0-219.4 -100 0 0 219.4zM279.3 194.1l-.2-.6 .2-.2 .3 .2 -.3 .6zM279.3 161.1l-.2-.6 .2-.2 .3 .2 -.3 .6z"/>
<path fill="#bc3587" d="M239 286.7l100 0 0-219.4 -100 0 0 219.4zM279.3 194.2l-.2-.7 .2-.2 .3 .2 -.3 .7zM279.3 161.2l-.2-.7 .2-.2 .3 .2 -.3 .7z"/>
<path fill="#be3885" d="M239 286.7l100 0 0-219.4 -100 0 0 219.4zM279.3 194.2l-.3-.7 .3-.2 .4 .2 -.4 .7zM279.3 161.2l-.2-.7 .2-.2 .3 .2 -.3 .7z"/>
<path fill="#bf3984" d="M239 286.7l100 0 0-219.4 -100 0 0 219.4zM279.3 194.3l-.3-.8 .3-.2 .4 .2 -.4 .8zM279.3 161.3l-.3-.8 .3-.3 .4 .3 -.4 .8zM279.3 127.5l-.1 0 .1 0z"/>
<path fill="#c13b82" d="M239 286.7l100 0 0-219.4 -100 0 0 219.4zM279.3 194.3l-.3-.8 .3-.3 .4 .3 -.4 .8zM279.3 161.3l-.3-.8 .3-.3 .4 .3 -.2 .7 -.2 .1zM279.3 127.6l-.3-.1 .3-.1 0 .2z"/>
<path fill="#c33d80" d="M239 286.7l100 0 0-219.4 -100 0 0 219.4zM279.3 194.3l-.3-.8 .3-.3 .5 .3 -.3 .7 -.2 .1zM279.3 161.3l-.3-.8 .3-.3 .5 .3 -.3 .7 -.2 .1zM279.3 127.6l-.4-.1 .4-.1 0 .2z"/>
<path fill="#c43e7f" d="M239 286.7l100 0 0-219.4 -100 0 0 219.4zM279.3 194.4l-.2-.2 -.2-.7 .4-.3 .5 .3 -.2 .7 -.3 .2zM279.3 161.4l-.2-.2 -.2-.7 .4-.3 .5 .3 -.2 .7 -.3 .2zM279.3 127.7l-.5-.2 .5-.2 .1 .2 -.1 .2z"/>
<path fill="#c6417d" d="M239 286.7l100 0 0-219.4 -100 0 0 219.4zM279.3 227.3l-.1 0 .1-.1 0 .1zM279.3 194.4l-.2-.2 -.2-.7 .4-.4 .6 .4 -.3 .7 -.3 .2zM279.3 161.4l-.2-.2 -.2-.7 .4-.4 .6 .4 -.2 .7 -.4 .2zM279.3 127.7l-.7-.2 .7-.2 .2 .2 -.2 .2z"/>
<path fill="#c7427c" d="M239 286.7l100 0 0-219.4 -100 0 0 219.4zM278.6 127.5l.7-.2 .2 .2 -.2 .3 -.7-.3zM279.3 227.3l-.3 0 .3-.3 0 .3zM279.3 194.4l-.3-.2 -.1-.7 .4-.4 .6 .4 -.2 .7 -.4 .2zM279.3 161.4l-.3-.2 -.1-.7 .4-.4 .6 .4 -.2 .7 -.4 .2z"/>
<path fill="#c9447a" d="M239 286.7l100 0 0-219.4 -100 0 0 219.4zM278.6 127.6l0-.2 .7-.2 .2 .3 -.2 .4 -.7-.3zM279.3 227.4l-.4-.1 .4-.4 0 .5zM279.3 194.5l-.3-.3 -.2-.7 .5-.4 .7 .4 -.2 .7 -.5 .3zM279.3 161.5l-.3-.3 -.2-.7 .5-.4 .6 .4 -.1 .7 -.5 .3z"/>
<path fill="#cb4679" d="M239 286.7l100 0 0-219.4 -100 0 0 219.4zM278.6 127.6l0-.2 .7-.2 .3 .3 -.3 .4 -.7-.3zM279.3 227.4l-.6-.1 .6-.6 .1 .6 -.1 .1zM279.3 194.5l-.3-.3 -.2-.7 .5-.4 .7 .4 -.2 .7 -.5 .3zM279.3 161.5l-.4-.3 -.1-.7 .5-.4 .7 .4 -.2 .7 -.5 .3z"/>
<path fill="#cc4778" d="M239 286.7l100 0 0-219.4 -100 0 0 219.4zM278.6 227.3l.7-.7 .2 .7 -.2 .1 -.7-.1zM278.6 127.7l-.2-.2 .2-.2 .7-.1 .3 .3 -.3 .5 -.7-.3zM279.3 194.5l-.4-.3 -.1-.7 .5-.5 .7 .5 -.1 .7 -.6 .3zM279.3 161.5l-.4-.3 -.1-.7 .5-.5 .7 .5 -.1 .7 -.6 .3z"/>
<path fill="#cd4a76" d="M239 286.7l100 0 0-219.4 -100 0 0 219.4zM278.6 227.3l0-.3 .5-.5 .2 0 .2 .8 -.2 .2 -.7-.2zM278.6 127.8l-.2-.3 .2-.2 .7-.1 .3 .3 -.3 .5 -.7-.2zM279.3 194.6l-.4-.4 -.2-.7 .6-.5 .8 .5 -.2 .7 -.6 .4zM279.3 161.6l-.4-.4 -.2-.7 .6-.5 .8 .5 -.1 .7 -.7 .4z"/>
<path fill="#ce4b75" d="M239 286.7l100 0 0-219.4 -100 0 0 219.4zM278.6 227.3l0-.5 .3-.3 .5 0 .1 .8 -.2 .2 -.7-.2zM278.6 127.9l-.2-.4 .2-.2 .7-.2 .3 .4 -.3 .6 -.7-.2zM279.3 194.6l-.5-.4 -.1-.7 .6-.5 .8 .5 -.1 .7 -.7 .4zM279.3 161.6l-.5-.4 -.1-.7 .6-.5 .8 .5 -.1 .7 -.7 .4z"/>
<path fill="#d04d73" d="M239 286.7l100 0 0-219.4 -100 0 0 219.4zM278.6 227.4l-.2-.1 .2-.7 .7-.2 .3 .9 -.3 .2 -.7-.1zM278.6 127.9l-.3-.4 .3-.3 .7-.1 .4 .4 -.4 .6 -.7-.2zM279.3 194.6l-.5-.4 -.1-.7 .6-.5 .9 .5 -.1 .7 -.8 .4zM279.3 161.7l-.5-.5 -.1-.7 .6-.5 .9 .5 -.1 .7 -.8 .5z"/>
<path fill="#d24f71" d="M239 286.7l100 0 0-219.4 -100 0 0 219.4zM278.6 227.4l-.2-.1 .1-.8 .8-.1 .2 .1 .1 .8 -.3 .3 -.7-.2zM278.6 128l-.3-.5 .3-.3 .7-.1 .4 .4 -.4 .7 -.7-.2zM279.3 194.7l-.6-.5 -.1-.7 .7-.6 .9 .6 -.1 .7 -.8 .5zM279.3 161.7l-.6-.5 0-.7 .6-.6 .9 .6 0 .7 -.9 .5z"/>
<path fill="#d35171" d="M239 286.7l100 0 0-219.4 -100 0 0 219.4zM278.6 227.5l-.2-.2 .1-.8 .8-.2 .2 .2 .2 .8 -.4 .3 -.7-.1zM279.3 194.7l-.6-.5 -.1-.7 .7-.6 .7 .3 .3 .3 -.1 .7 -.9 .5zM279.3 161.7l-.6-.5 -.1-.7 .7-.6 .7 .3 .3 .3 -.1 .7 -.9 .5zM279.3 128.2l-.7-.1 -.3-.6 .3-.3 .7-.2 .4 .5 -.4 .7z"/>
<path fill="#d5536f" d="M239 286.7l100 0 0-219.4 -100 0 0 219.4zM278.6 227.5l-.3-.2 .1-.8 .9-.2 .3 .2 .1 .8 -.4 .3 -.7-.1zM279.3 194.7l-.6-.5 -.1-.7 .7-.6 .7 .3 .3 .3 -.1 .7 -.9 .5zM279.3 161.8l-.7-.6 0-.7 .7-.6 .7 .3 .3 .3 0 .7 -.3 .3 -.7 .3zM279.3 128.3l-.7-.1 -.4-.7 .4-.4 .7-.1 .5 .5 -.5 .8z"/>
<path fill="#d5546e" d="M239 286.7l100 0 0-219.4 -100 0 0 219.4zM278.6 227.5l-.3-.2 .1-.8 .2-.2 .7-.1 .3 .3 .1 .8 -.4 .4 -.7-.2zM279.3 194.8l-.7-.6 0-.7 .7-.7 .7 .3 .4 .4 -.1 .7 -.3 .3 -.7 .3zM278.6 128.2l-.4-.7 .4-.4 .7-.1 .5 .5 -.3 .7 -.2 .1 -.7-.1zM279.3 161.8l-.7-.6 0-.7 .7-.7 .7 .3 .4 .4 -.1 .7 -.3 .3 -.7 .3z"/>
<path fill="#d7566c" d="M239 286.7l100 0 0-219.4 -100 0 0 219.4zM278.6 227.6l-.3-.3 0-.8 .3-.2 .7-.1 .4 .3 .1 .8 -.5 .4 -.7-.1zM279.3 194.8l-.7-.6 -.1-.7 .8-.7 .7 .2 .4 .5 0 .7 -.4 .4 -.7 .2zM279.3 161.8l-.7-.6 -.1-.7 .8-.7 .7 .3 .4 .4 0 .7 -.4 .4 -.7 .2zM278.6 128.3l-.4-.8 .4-.5 .7-.1 .5 .6 -.3 .7 -.2 .2 -.7-.1z"/>
<path fill="#d9586a" d="M239 286.7l100 0 0-219.4 -100 0 0 219.4zM278.6 227.6l-.4-.3 .1-.8 .3-.3 .7-.1 .4 .4 .1 .8 -.5 .4 -.7-.1zM278.6 194.3l-.2-.8 .9-.7 .7 .2 .5 .5 -.1 .7 -.4 .4 -.7 .2 -.7-.5zM278.6 161.3l-.1-.8 .8-.7 .7 .2 .5 .5 -.1 .7 -.4 .4 -.7 .3 -.7-.6zM278.6 128.3l-.5-.8 .5-.5 .7-.1 .6 .6 -.3 .7 -.3 .2 -.7-.1z"/>
<path fill="#da5a6a" d="M239 286.7l100 0 0-219.4 -100 0 0 219.4zM278.6 227.6l-.4-.3 0-.8 .4-.3 .7-.1 .5 .4 0 .8 -.5 .4 -.7-.1zM278.6 194.3l-.2-.8 .9-.8 .7 .2 .5 .6 0 .7 -.5 .5 -.7 .2 -.7-.6zM278.6 161.4l-.2-.9 .9-.7 .7 .1 .5 .6 0 .7 -.5 .5 -.7 .2 -.7-.5zM278.6 128.4l-.5-.9 .5-.5 .7-.1 .6 .6 -.2 .7 -.4 .3 -.7-.1z"/>
<path fill="#db5c68" d="M239 286.7l100 0 0-219.4 -100 0 0 219.4zM278.6 227.7l-.5-.4 .1-.8 .4-.4 .7 0 .5 .4 .1 .8 -.6 .5 -.7-.1zM278.6 194.4l-.3-.9 .3-.3 .7-.5 .7 .1 .6 .7 -.1 .7 -.5 .5 -.7 .2 -.7-.5zM278.6 161.4l-.2-.2 0-.7 .9-.8 .7 .2 .6 .6 -.1 .7 -.5 .6 -.7 .1 -.7-.5zM278.6 128.4l-.3-.2 -.2-.7 .5-.6 .7-.1 .6 .7 -.2 .7 -.4 .3 -.7-.1z"/>
<path fill="#dc5d67" d="M239 286.7l100 0 0-219.4 -100 0 0 219.4zM278.6 227.7l-.5-.4 .1-.8 .4-.4 .7-.1 .6 .5 0 .8 -.6 .5 -.7-.1zM278.6 194.5l-.2-.3 -.1-.7 .3-.4 .7-.5 .7 .2 .6 .7 0 .7 -.6 .6 -.7 .1 -.7-.4zM278.6 161.5l-.3-.3 0-.7 .8-.7 .9 0 .6 .7 0 .7 -.6 .6 -.7 .2 -.7-.5zM278.6 128.5l-.3-.3 -.3-.7 .6-.6 .7-.1 .7 .7 -.2 .7 -.5 .4 -.7-.1z"/>
<path fill="#de5f65" d="M239 286.7l100 0 0-219.4 -100 0 0 219.4zM278.6 227.8l-.5-.5 0-.8 .5-.5 .7 0 .6 .5 .1 .8 -.7 .5 -.7 0zM278.6 194.6l-.3-.4 -.1-.7 .4-.5 .7-.4 .7 .1 .7 .8 -.1 .7 -.6 .6 -.7 .2 -.7-.4zM279.3 162l-.7-.4 -.3-.4 -.1-.7 .4-.4 .7-.5 .7 .2 .7 .7 0 .7 -.7 .7 -.7 .1zM278.6 128.6l-.4-.4 -.2-.7 .6-.6 .7-.1 .7 .7 -.2 .7 -.5 .4 -.7 0z"/>
<path fill="#df6263" d="M239 286.7l100 0 0-219.4 -100 0 0 219.4zM278.6 227.8l-.6-.5 .1-.8 .5-.5 .7-.1 .7 .6 0 .8 -.7 .6 -.7-.1zM279.3 195l-.7-.4 -.4-.4 0-.7 .4-.6 .7-.4 .9 .3 .6 .7 -.1 .7 -.7 .7 -.7 .1zM279.3 162.1l-.7-.4 -.4-.5 0-.7 .4-.5 .7-.4 .8 .2 .6 .7 0 .7 -.7 .8 -.7 .1zM278.6 128.6l-.5-.4 -.1-.7 .6-.7 .7-.1 .7 .8 -.1 .7 -.6 .5 -.7-.1z"/>
<path fill="#e06363" d="M239 286.7l100 0 0-219.4 -100 0 0 219.4zM278.6 227.8l-.6-.5 0-.8 .6-.6 .7 0 .7 .6 0 .8 -.7 .6 -.7-.1zM279.3 195.1l-.7-.4 -.4-.5 -.1-.7 .5-.7 .7-.4 .7 .2 .4 .2 .4 .7 0 .7 -.8 .8 -.7 .1zM279.3 162.2l-.7-.4 -.4-.6 -.1-.7 .5-.6 .7-.4 1 .3 .5 .7 0 .7 -.6 .8 -.9 .2zM278.6 128.7l-.5-.5 -.1-.7 .6-.7 .7-.1 .8 .8 -.1 .7 -.7 .5 -.7 0z"/>
<path fill="#e26561" d="M239 286.7l100 0 0-219.4 -100 0 0 219.4zM278.6 227.9l-.6-.6 0-.8 .6-.6 .7-.1 .8 .7 0 .8 -.8 .6 -.7 0zM279.3 195.1l-.7-.3 -.5-.6 0-.7 .5-.7 .7-.4 .7 .1 .5 .3 .4 .7 -.1 .7 -.7 .8 -.8 .1zM279.3 162.2l-.7-.4 -.5-.6 0-.7 .5-.7 .7-.4 .7 .2 .4 .2 .5 .7 0 .7 -.6 .8 -1 .2zM278.6 128.7l-.6-.5 -.1-.7 .7-.7 .7-.1 .8 .8 -.1 .7 -.7 .6 -.7-.1z"/>
<path fill="#e26660" d="M239 286.7l100 0 0-219.4 -100 0 0 219.4zM278.6 227.9l-.7-.6 0-.8 .7-.7 .7 0 .9 .7 0 .8 -.9 .7 -.7-.1zM279.3 195.2l-.7-.4 -.5-.6 -.1-.7 .6-.8 .7-.4 .7 .1 .6 .4 .4 .7 -.1 .7 -.6 .8 -1 .2zM279.3 162.3l-.7-.4 -.6-.7 0-.7 .5-.7 .8-.4 .7 .1 .5 .3 .5 .7 0 .7 -.6 .8 -.4 .2 -.7 .1zM278.6 128.8l-.6-.6 -.1-.7 .7-.8 .7-.1 .9 .9 -.1 .7 -.8 .6 -.7 0z"/>
<path fill="#e4695e" d="M239 286.7l100 0 0-219.4 -100 0 0 219.4zM279.3 228l-.7-.1 -.7-.6 0-.8 .7-.7 .7-.1 .9 .8 0 .8 -.9 .7zM279.3 195.3l-.7-.4 -.6-.7 0-.7 .6-.9 .7-.4 .7 .1 .7 .5 .4 .7 -.1 .7 -.6 .8 -.4 .2 -.7 .1zM278.6 162l-.6-.8 0-.7 .5-.7 .8-.5 .7 .1 .6 .4 .5 .7 -.1 .7 -.5 .8 -.5 .3 -.7 .1 -.7-.4zM278.6 128.8l-.7-.6 0-.7 .7-.8 .7-.1 .4 .1 .6 .8 -.1 .7 -.9 .7 -.7-.1z"/>
<path fill="#e56b5d" d="M239 286.7l100 0 0-219.4 -100 0 0 219.4zM279.3 228.1l-.7-.1 -.7-.7 -.1-.8 .8-.8 .7-.1 .7 .5 .3 .4 0 .8 -1 .8zM278.6 195l-.6-.8 -.1-.7 .4-.7 1-.6 .7 .1 .8 .5 .4 .7 -.1 .7 -.6 .8 -.5 .3 -.7 0 -.7-.3zM278.6 162.1l-.7-.9 0-.7 .5-.7 .9-.5 .7 0 .7 .5 .5 .7 -.1 .7 -.4 .8 -.7 .3 -.7 .1 -.7-.3zM279.3 129l-.7-.1 -.7-.7 -.1-.7 .8-.9 .7-.1 .5 .2 .6 .8 -.1 .7 -1 .8z"/>
<path fill="#e66c5c" d="M239 286.7l100 0 0-219.4 -100 0 0 219.4zM278.6 228l-.8-.7 0-.8 .8-.9 .7-.1 .7 .5 .4 .5 0 .8 -.8 .7 -.3 .1 -.7-.1zM278.6 195.1l-.7-.9 -.1-.7 .4-.7 .4-.4 .7-.3 .7 .1 .8 .5 .5 .8 -.1 .7 -.4 .6 -.8 .5 -.7 .1 -.7-.3zM278.6 162.2l-.7-1 0-.7 .4-.7 1-.6 .7 .1 .8 .5 .4 .7 0 .7 -.4 .8 -.8 .4 -.7 .1 -.7-.3zM278.6 128.9l-.8-.7 0-.7 .8-.9 .7-.1 .6 .2 .5 .8 0 .7 -.4 .4 -.7 .4 -.7-.1z"/>
<path fill="#e76f5a" d="M239 286.7l100 0 0-219.4 -100 0 0 219.4zM278.6 228.1l-.8-.8 -.1-.8 .9-.9 .7-.1 .7 .4 .5 .6 0 .8 -.7 .7 -.5 .2 -.7-.1zM278.6 195.1l-.8-.9 0-.7 .3-.7 .5-.5 .7-.2 .7 0 .8 .4 .6 1 -.1 .7 -.5 .8 -.8 .4 -.7 .1 -.7-.4zM278.6 162.3l-.4-.3 -.4-.8 0-.7 .4-.7 .4-.4 .7-.2 .7 0 .9 .6 .4 .7 0 .7 -.4 .8 -.9 .5 -.7 .1 -.7-.3zM278.6 129l-.9-.8 0-.7 .5-.8 .4-.2 .7-.1 .7 .3 .5 .8 -.1 .7 -.4 .5 -.7 .4 -.7-.1z"/>
<path fill="#e87059" d="M239 286.7l100 0 0-219.4 -100 0 0 219.4zM278.6 228.1l-.9-.8 -.1-.8 .5-.7 .5-.3 .7-.1 .8 .4 .5 .7 -.1 .8 -.6 .7 -.6 .2 -.7-.1zM278.6 195.2l-.8-1 -.1-.7 .3-.7 .6-.6 .7-.2 .7 0 .8 .4 .4 .4 .2 .7 0 .7 -.5 .8 -.9 .5 -.7 0 -.7-.3zM278.6 162.4l-.5-.4 -.4-.8 0-.7 .4-.7 .5-.4 .7-.3 .7 0 .8 .4 .6 1 0 .7 -.3 .8 -1.1 .6 -.7 0 -.7-.2zM278.6 129.1l-.9-.9 -.1-.7 .5-.8 .5-.2 .7-.1 .8 .3 .5 .8 -.1 .7 -.6 .7 -.6 .3 -.7-.1z"/>
<path fill="#e97257" d="M239 286.7l100 0 0-219.4 -100 0 0 219.4zM278.6 228.2l-1-.9 0-.8 .4-.7 .6-.4 .7-.1 .9 .5 .4 .7 0 .8 -.6 .7 -.7 .3 -.7-.1zM278.6 195.3l-.5-.3 -.4-.8 -.1-.7 .3-.7 .7-.6 .7-.3 .7 0 .8 .4 .5 .5 .2 .7 0 .7 -.4 .8 -1.1 .6 -.7 0 -.7-.3zM278.6 162.5l-.6-.5 -.4-.8 0-.7 .4-.7 .6-.5 .7-.3 .7 .1 .8 .3 .4 .4 .3 .7 0 .7 -.3 .8 -.4 .3 -.8 .4 -.7 0 -.7-.2zM278.6 129.2l-1-1 0-.7 .5-.8 .5-.3 .7-.1 .9 .4 .4 .8 0 .7 -.6 .8 -.7 .3 -.7-.1z"/>
<path fill="#eb7556" d="M239 286.7l100 0 0-219.4 -100 0 0 219.4zM278.6 228.2l-1.1-.9 0-.8 .3-.6 .8-.6 .7-.1 .7 .3 .4 .3 .3 .7 0 .8 -.7 .8 -.7 .2 -.7-.1zM278.6 195.4l-.6-.4 -.4-.8 -.1-.7 .3-.7 .8-.7 .7-.3 .7 0 .8 .4 .6 .6 .3 .7 -.1 .7 -.4 .8 -1.2 .6 -.7 0 -.7-.2zM279.3 162.8l-.7-.3 -.7-.5 -.4-.8 .1-.7 .3-.7 .7-.6 .7-.2 .7 0 .8 .3 .5 .5 .3 .7 0 .7 -.3 .8 -.5 .5 -.8 .3 -.7 0zM278.6 129.3l-.8-.6 -.3-.5 0-.7 .5-.8 .6-.3 .7-.1 .7 .2 .3 .2 .4 .8 0 .7 -.7 .9 -.7 .3 -.7-.1z"/>
<path fill="#eb7655" d="M239 286.7l100 0 0-219.4 -100 0 0 219.4zM278.6 228.3l-.5-.3 -.6-.7 -.1-.8 .4-.7 .8-.6 .7 0 .7 .2 .5 .4 .3 .7 0 .8 -.8 .8 -.7 .3 -.7-.1zM278.6 195.5l-.7-.5 -.4-.8 -.1-.7 .3-.7 .9-.8 .7-.3 .7 0 .8 .3 .7 .8 .3 .7 -.1 .7 -.4 .8 -.5 .4 -.8 .3 -.7 0 -.7-.2zM279.3 162.9l-.7-.3 -.8-.6 -.3-.8 0-.7 .3-.7 .8-.7 .7-.2 .7 0 .8 .3 .6 .6 .4 .7 0 .7 -.3 .8 -.7 .6 -.8 .3 -.7 0zM278.6 129.4l-.8-.6 -.4-.6 0-.7 .5-.8 .7-.4 .7-.1 .7 .3 .4 .2 .4 .8 0 .7 -.8 1 -.7 .3 -.7-.1z"/>
<path fill="#ed7953" d="M239 286.7l100 0 0-219.4 -100 0 0 219.4zM278.6 228.3l-.6-.3 -.6-.7 -.1-.8 .4-.7 .9-.7 .7 0 .7 .2 .6 .5 .3 .7 0 .8 -.5 .7 -.4 .2 -.7 .3 -.7-.2zM279.3 195.8l-.7-.3 -.8-.5 -.4-.8 0-.7 .2-.7 .7-.8 1-.4 .7 0 1 .4 .7 .8 .2 .7 0 .7 -.4 .8 -.7 .5 -.8 .3 -.7 0zM278.6 162.7l-.9-.7 -.3-.8 0-.7 .3-.7 .9-.7 .7-.3 .7 0 .8 .3 .8 .7 .3 .7 0 .7 -.3 .8 -.8 .7 -.8 .3 -.7 0 -.7-.3zM277.8 129l-.4-.8 0-.7 .4-.8 .8-.4 .7-.1 .7 .2 .5 .3 .4 .8 0 .7 -.4 .7 -.5 .4 -.7 .2 -.7 0 -.8-.5z"/>
<path fill="#ed7a52" d="M239 286.7l100 0 0-219.4 -100 0 0 219.4zM278.6 228.4l-.7-.4 -.6-.7 0-.8 .3-.7 1-.7 .7-.1 .7 .2 .7 .6 .4 .7 -.1 .8 -.5 .7 -.5 .3 -.7 .2 -.7-.1zM279.3 195.9l-.7-.3 -.9-.6 -.4-.8 0-.7 .2-.7 .6-.8 1.2-.5 .7 0 1.2 .5 .7 .8 .2 .7 -.1 .7 -.3 .8 -.9 .7 -.8 .2 -.7 0zM278.6 162.8l-1-.8 -.3-.8 0-.7 .3-.7 .9-.8 .8-.3 .7 0 .9 .3 .9 .8 .3 .7 0 .7 -.3 .8 -.8 .7 -1 .4 -.7 0 -.7-.3zM277.8 129.1l-.5-.9 0-.7 .5-.8 .8-.5 .7-.1 .7 .2 .6 .4 .4 .8 0 .7 -.3 .7 -.7 .5 -.7 .2 -.7 0 -.8-.5z"/>
<path fill="#ef7c51" d="M239 286.7l100 0 0-219.4 -100 0 0 219.4zM278.6 228.4l-.8-.4 -.5-.7 -.1-.8 .3-.7 .3-.4 .8-.4 .7-.1 .7 .2 .9 .7 .3 .7 -.1 .8 -.5 .7 -.6 .4 -.7 .2 -.7-.2zM279.3 196l-.7-.3 -1-.7 -.4-.8 0-.7 .2-.7 .6-.8 .6-.3 .7-.3 .7 0 .8 .2 .6 .4 .6 .8 .2 .7 0 .7 -.4 .8 -.9 .7 -.9 .3 -.7 0zM278.6 162.9l-1.1-.9 -.3-.8 0-.7 .3-.7 .8-.8 1-.4 .7 0 1.2 .4 .7 .8 .3 .7 0 .7 -.2 .8 -.7 .7 -.5 .3 -.8 .2 -.7 0 -.7-.3zM279.3 129.7l-.7-.1 -.8-.4 -.6-1 0-.7 .5-.8 .9-.5 .7-.1 .7 .1 .8 .5 .4 .8 0 .7 -.4 .7 -.8 .6 -.7 .2z"/>
<path fill="#f07f4f" d="M239 286.7l97.8 0 2.2-4.2 0-210.4 -2.5-4.8 -97.5 0 0 219.4zM277.8 228.1l-.6-.8 -.1-.8 .2-.7 .5-.5 .8-.5 .7-.1 1 .4 .8 .7 .2 .7 -.1 .8 -.4 .7 -.8 .5 -.7 .1 -.7-.1 -.8-.4zM278.6 195.8l-1.1-.8 -.3-.8 -.1-.7 .2-.7 .5-.7 .8-.6 .7-.2 1.5 .2 .7 .4 .7 .9 .2 .7 -.1 .7 -.3 .8 -1.2 .9 -.8 .2 -.7-.1 -.7-.2zM278.6 163.1l-.8-.6 -.5-.5 -.2-.8 0-.7 .3-.7 .8-.8 1.1-.4 .7-.1 1.4 .5 .7 .8 .3 .7 0 .7 -.3 .8 -.6 .7 -.7 .4 -1.5 .2 -.7-.2zM278.6 129.7l-.8-.3 -.4-.5 -.3-.7 .1-.7 .4-.8 1-.6 .7-.1 .7 .1 .9 .6 .4 .8 0 .7 -.3 .7 -1 .8 -.7 .2 -.7-.2z"/>
<path fill="#f0804e" d="M239 286.7l93.6 0 3.4-6.4 3-6.4 0-193.2 -3.2-6.8 -3.6-6.6 -93.2 0 0 219.4zM277.8 228.1l-.7-.8 -.1-.8 .2-.7 .6-.7 .8-.4 .7-.1 .7 .2 .5 .3 .7 .7 .2 .7 0 .8 -.6 .8 -.8 .5 -.7 .1 -.7-.2 -.8-.4zM278.6 195.9l-1.2-.9 -.3-.8 -.1-.7 .2-.7 .5-.8 .9-.6 .7-.2 1.5 .2 .7 .3 .9 1.1 .2 .7 -.1 .7 -.3 .8 -.7 .6 -.7 .4 -1.5 .1 -.7-.2zM278.6 163.2l-.8-.5 -.6-.7 -.2-.8 0-.7 .3-.7 .7-.8 1.3-.5 1.5 .1 .8 .4 .7 .8 .3 .7 0 .7 -.3 .8 -.5 .7 -1 .5 -1.5 .2 -.7-.2zM278.6 129.9l-.8-.4 -.5-.6 -.2-.7 0-.7 .4-.8 1.1-.6 .7-.2 .7 .1 1.1 .7 .3 .8 0 .7 -.3 .7 -1.1 .9 -.7 .2 -.7-.1z"/>
<path fill="#f1834c" d="M239 286.7l89.4 0 4.5-8.1 3.7-8 2.4-6.4 0-173.8 -2.3-6.2 -2.6-5.9 -3-5.9 -3-5.1 -89.1 0 0 219.4zM277.8 228.2l-.7-.9 -.2-.8 .2-.7 .6-.7 .9-.5 .7-.1 .7 .1 .8 .5 .6 .7 .2 .7 -.1 .8 -.4 .7 -1.1 .6 -.7 .1 -.7-.1 -.8-.4zM278.6 196l-1.3-1 -.4-.8 0-.7 .2-.7 .4-.8 1.1-.7 .7-.2 1.5 .1 .7 .4 .6 .4 .5 .8 .2 .7 -.1 .7 -.3 .8 -.7 .7 -.9 .4 -1.5 .1 -.7-.2zM279.3 163.5l-.7-.2 -.9-.6 -.6-.7 -.2-.8 0-.7 .3-.7 .6-.7 .8-.5 .7-.2 1.5 .1 1.1 .5 .6 .8 .3 .7 0 .7 -.3 .8 -.5 .7 -.5 .3 -.7 .4 -1.5 .1zM278.6 130l-.8-.4 -.6-.7 -.3-.7 .1-.7 .4-.8 1.2-.7 .7-.1 .9 .1 1 .7 .3 .8 .1 .7 -.3 .7 -.5 .6 -.8 .5 -.7 .1 -.7-.1z"/>
<path fill="#f2844b" d="M239 286.7l85.3 0 2.8-4.4 2.8-5.1 2.4-5.2 2.1-5.1 2.6-7.3 2-7.6 0-149.4 -1.4-5.2 -1.3-4.4 -1.5-4.4 -1.8-4.4 -2-4.4 -2.2-4.4 -2.5-4.3 -2.4-3.8 -84.9 0 0 219.4zM279.3 228.8l-.7-.1 -1.2-.7 -.4-.7 -.2-.8 .2-.7 .5-.7 1.1-.6 .7-.1 .7 .1 1 .6 .6 .7 .2 .7 -.1 .8 -.4 .7 -1.3 .7 -.7 .1zM278.6 196.1l-.8-.5 -.6-.6 -.4-.8 -.1-.7 .4-1 .7-.9 1.5-.6 1.5 .1 .7 .3 .9 .6 .4 .8 .2 .7 -.1 .7 -.3 .8 -.6 .7 -1.2 .6 -1.5 0 -.7-.2zM279.3 163.6l-.7-.2 -1.1-.7 -.5-.7 -.2-.8 0-.7 .3-.7 .6-.8 .9-.5 1.4-.3 .8 .1 1.3 .7 .6 .8 .3 .7 0 .7 -.2 .8 -.5 .7 -.8 .5 -.7 .3 -1.5 .1zM277.8 129.8l-.7-.9 -.3-.7 .1-.7 .4-.8 1.1-.7 .9-.2 1.1 .2 1 .7 .3 .8 0 .7 -.2 .7 -.6 .8 -.9 .4 -.7 .1 -.7-.1 -.8-.3z"/>
<path fill="#f3874a" d="M239 286.7l81.2 0 3.4-5.1 2.9-5.2 2.9-5.8 2.4-5.9 2.4-7.4 2-8 1.6-8.8 1.2-9.5 0-107.4 -1-8.6 -1.4-8.1 -1.8-7.3 -2.2-7.4 -2.5-6.6 -3.1-6.6 -3.3-5.8 -3.9-5.9 -80.8 0 0 219.4zM279.3 228.9l-.7-.2 -1.3-.7 -.4-.7 -.2-.8 .2-.7 .5-.7 .4-.4 .8-.3 .7-.1 .7 .1 1.3 .7 .5 .7 .1 .7 -.1 .8 -.4 .7 -1.1 .7 -1 .2zM280 196.5l-1.4-.3 -.9-.5 -.6-.7 -.4-.8 -.1-.7 .5-1.2 .7-.8 .8-.4 1.4-.3 1.5 .4 .8 .5 .8 1.1 .1 .7 0 .7 -.3 .8 -.7 .7 -.7 .5 -1.5 .3zM278.6 163.5l-1.3-.8 -.5-.7 -.2-.8 .1-.7 .3-.7 .6-.8 1-.6 1.4-.3 1.5 .3 .9 .6 .5 .8 .3 .7 0 .7 -.2 .8 -.5 .7 -1 .7 -.7 .3 -1.5 0 -.7-.2zM277.8 129.9l-.7-.8 -.4-.9 .1-.7 .4-.8 1.1-.7 1-.3 1.4 .3 .8 .7 .4 .8 0 .7 -.2 .7 -.6 .8 -1.1 .5 -.7 .1 -.7-.1 -.8-.3z"/>
<path fill="#f48948" d="M239 286.7l77.1 0 4.1-5.9 3.5-5.8 3.2-6.6 2.6-6.6 1.4-4.5 1.2-4.4 2-9.5 1.3-10.3 .8-11.7 .4-16.9 0-52.8 -.2-14 -.5-11 -1-9.5 -1.2-8.1 -1.8-8 -2.1-7.4 -2.9-7.3 -3.2-6.6 -3.9-6.6 -4.1-5.9 -76.7 0 0 219.4zM278.6 228.8l-1.4-.8 -.4-.7 -.2-.8 .1-.7 .5-.7 .6-.6 .8-.3 1.4 0 .8 .3 .7 .6 .5 .7 .1 .7 -.1 .8 -.4 .7 -1 .7 -1.3 .2 -.7-.1zM279.3 196.5l-1.5-.6 -.9-.9 -.3-.8 -.1-.7 .1-.7 .5-.8 .7-.6 .8-.4 1.4-.3 1.5 .3 .8 .4 .6 .6 .4 .8 .2 .7 -.1 .7 -.3 .8 -.6 .7 -1 .6 -.7 .2 -1.5 0zM278.6 163.6l-1.4-.9 -.5-.7 -.2-.8 0-.7 .3-.7 .6-.8 1.2-.7 1.4-.3 1.5 .3 1.2 .7 .5 .8 .3 .7 0 .7 -.2 .8 -.5 .7 -.9 .7 -1.1 .4 -1.5 0 -.7-.2zM279.3 130.5l-.7-.1 -.8-.3 -.5-.4 -.5-.8 -.2-.7 .1-.7 .4-.8 .7-.5 1.5-.6 .7 .1 .9 .3 .8 .7 .4 .8 0 .7 -.2 .7 -.5 .8 -.6 .4 -1.5 .4z"/>
<path fill="#f58b47" d="M239 286.7l73 0 4.6-6.1 4-6.4 3.6-7.3 2.8-7.3 2.2-8.1 1.8-8.8 1.1-9.6 .7-11 .3-13.2 -.2-31.5 .1-33.1 -.2-11.7 -.5-9.5 -1-8.8 -1.4-8.1 -1.8-7.3 -2.1-6.7 -2.8-6.6 -3.4-6.6 -3.9-6.1 -4.4-5.6 -72.5 0 0 219.4zM278.6 228.8l-1.4-.8 -.6-.7 -.1-.8 .1-.7 .5-.8 .7-.6 .8-.3 1.4-.1 .8 .3 1 .8 .4 .7 .1 .7 -.1 .8 -.3 .7 -1.1 .8 -.8 .2 -1.4-.2zM279.3 196.6l-1.5-.6 -1-1 -.4-.8 0-.7 .1-.7 .6-.9 .7-.7 .8-.4 1.4-.2 1.5 .2 1 .5 .8 .7 .3 .8 .1 1.4 -.3 .8 -.5 .7 -1.2 .7 -.9 .3 -1.5-.1zM278.6 163.8l-.8-.4 -.7-.7 -.5-.7 -.2-.8 0-.7 .3-.7 .6-.8 1.3-.8 1.4-.3 1.5 .2 .8 .4 .7 .5 .5 .8 .2 .7 -.1 1.5 -.5 .7 -.8 .8 -1.5 .5 -1.5 0 -.7-.2zM278.6 130.5l-.8-.3 -.7-.6 -.4-.7 -.2-.7 .1-.7 .4-.8 .8-.6 .8-.3 1.4-.2 1.2 .4 .8 .7 .3 .8 0 .7 -.2 .7 -.4 .8 -.9 .6 -.8 .3 -1.4-.1z"/>
<path fill="#f68d45" d="M239 286.7l68.9 0 2.7-3.2 2.7-3.4 2.5-3.7 2.2-3.6 1.9-3.7 1.7-3.7 1.4-3.6 1.5-4.5 2-7.3 1.4-8.1 1-8.8 .5-10.2 .2-12.5 -.4-34.5 .4-36.7 -.3-10.3 -.6-9.5 -1-8.1 -1.4-7.3 -1.7-6.6 -2.4-6.6 -3-6.6 -3.4-5.9 -4.1-5.9 -4.3-5.1 -68.4 0 0 219.4zM278.6 228.9l-1.5-.9 -.6-.7 -.1-.8 .1-.7 .6-1 .7-.6 .8-.3 1.4 0 .8 .2 1.3 1 .3 .7 .2 .7 -.1 .8 -.4 .7 -1.3 .9 -.8 .2 -1.4-.2zM278.6 196.5l-1.3-.8 -.7-.7 -.4-1.5 .2-.7 .3-.8 1.1-.9 .8-.4 1.4-.3 1.5 .2 1.4 .7 .7 .7 .4 .8 .1 .7 -.1 .7 -.3 .8 -.5 .7 -1 .7 -1.4 .4 -1.5-.1 -.7-.2zM280 164.2l-1.4-.3 -1.5-1 -.7-.9 -.2-.8 .1-.7 .2-.7 .6-.8 .7-.5 1.5-.6 1.5-.1 1.5 .4 1 .8 .8 1.5 0 .7 -.6 1.5 -.8 .7 -1.2 .6 -1.5 .2zM278.6 130.7l-.8-.3 -.7-.6 -.6-.9 -.1-.7 .1-.7 .4-.8 1-.7 1.4-.5 1.5 .2 .6 .3 .8 .7 .3 .8 .1 .7 -.2 .7 -.4 .8 -1 .7 -1 .3 -1.4 0z"/>
<path fill="#f68f44" d="M239 286.7l64.7 0 3.2-3.4 2.7-3.2 2.7-3.7 2.3-3.6 2.1-3.7 2.1-4.4 1.7-4.4 1.5-4.4 1.6-6.6 1.3-7.4 .8-8 .4-8.8 .1-11.8 -.5-23.5 -.1-13.2 .6-41.8 -.2-9.5 -.7-8.8 -.9-7.4 -1.6-7.3 -2-6.6 -2.3-5.9 -2.9-5.9 -3.7-5.8 -4.2-5.5 -4.6-4.8 -64.1 0 0 219.4zM278.6 229l-1.7-1 -.5-.7 -.1-.8 .1-.7 .3-.7 .7-.8 1.2-.5 1.4-.1 1.5 .6 .8 .8 .4 .7 .1 .7 -.1 .8 -.4 .7 -.8 .7 -.7 .4 -.8 .1 -1.4-.2zM278.6 196.6l-1.5-.9 -.6-.7 -.3-.8 -.1-.7 .1-.7 .4-.8 .5-.5 1.5-.9 1.4-.3 1.5 .1 .8 .2 1.1 .7 .6 .7 .3 .8 .1 .7 -.3 1.5 -.5 .7 -1 .7 -1.1 .5 -1.5 0 -1.4-.3zM279.3 164.2l-1.5-.5 -1.2-1 -.3-.7 -.2-.8 0-.7 .3-.7 .5-.8 .9-.6 1.5-.6 1.5-.1 .7 .1 1.4 .5 .8 .7 .5 .8 .2 .7 -.1 1.5 -.4 .7 -.9 .8 -1.3 .7 -.9 .1 -1.5-.1zM277.8 130.5l-1-.8 -.4-.8 -.1-.7 .1-.7 .4-.8 .9-.7 1.6-.6 1.5 .1 .9 .5 .7 .7 .3 .8 .1 .7 -.1 .7 -.5 .8 -.8 .7 -1.4 .5 -1.4-.1 -.8-.3z"/>
<path fill="#f79143" d="M239 286.7l60.4 0 3.8-3.6 3-3.3 2.9-3.8 2.7-4 2.5-4.4 2.1-4.4 1.7-4.4 1.6-5.1 1.3-5.9 1-6.6 .6-6.6 .3-8.1 0-11 -.8-24.2 -.2-13.9 .1-12.5 .8-22.8 .1-11.7 -.2-8.8 -.7-8.1 -1.1-7.3 -1.6-6.6 -1.9-5.9 -2.6-5.9 -3.4-5.8 -3.6-5.2 -4.4-5.1 -4.7-4.4 -59.7 0 0 219.4zM278.6 229l-1.8-1 -.5-.7 -.2-.8 .1-.7 .3-.7 .7-.8 1.4-.7 1.4-.1 1.5 .5 1.2 1.1 .3 .7 .1 .7 -.1 .8 -.4 .7 -.7 .7 -1.1 .5 -.8 .1 -1.4-.3zM278.6 196.7l-1.7-1 -.6-.7 -.3-.8 -.1-.7 .1-.7 .4-.8 .6-.7 1.6-.9 .7-.2 1.5-.1 1.5 .3 1.5 .9 .6 .7 .5 1.5 -.1 .7 -.8 1.5 -1 .8 -1.5 .5 -1.5 0 -1.4-.3zM279.3 164.4l-1.5-.6 -1.3-1.1 -.4-.7 -.2-.8 .1-.7 .2-.7 .6-.8 1-.7 1.5-.6 1.5-.2 .7 .1 .8 .2 1.1 .5 .8 .7 .6 1.5 -.1 1.5 -.4 .7 -.6 .7 -1.4 .8 -1.5 .3 -1.5-.1zM277.8 130.7l-1.2-1 -.4-.8 -.1-.7 .2-.7 .4-.8 .9-.7 1.7-.6 1.5 0 1.3 .6 .6 .7 .3 .8 .1 .7 -.1 .7 -.4 .8 -.8 .7 -1 .5 -1.5 .2 -1.5-.4z"/>
<path fill="#f89441" d="M239 286.7l55.8 0 4.4-3.7 3.7-3.6 3.3-3.9 2.9-4.2 2.6-4.4 2.1-4.4 2-5.2 1.5-5.1 1.1-5.1 .7-5.2 .5-5.8 .2-6.6 -.2-13.2 -1-22.1 -.3-11 .1-19 1.1-22.8 .3-11 -.2-10.3 -.7-8.8 -1.1-6.6 -1.7-6.6 -2.2-5.9 -2.9-5.8 -3.3-5.3 -4.1-5 -4.3-4.4 -5.3-4.4 -55 0 0 219.4zM277.8 228.8l-1.2-.8 -.4-.7 -.2-.8 0-.7 .3-.7 .6-.8 .9-.6 1.5-.4 1.5 .2 .7 .2 .9 .6 .6 .8 .3 .7 .1 .7 -.1 .8 -.4 .7 -.6 .7 -.8 .4 -1.5 .3 -.7-.1 -1.5-.5zM280.8 197.2l-2.2-.4 -1.5-.8 -1-1 -.3-.8 -.1-.7 .2-.7 .3-.8 .6-.7 1.8-1 1.4-.3 2.3 .1 1.5 .7 1.1 1.2 .4 1.5 -.3 1.5 -.5 .7 -.7 .7 -1.5 .7 -1.5 .1zM278.6 164.3l-1.7-.9 -.6-.7 -.4-.7 -.1-1.5 .3-.7 .5-.8 .9-.7 1.1-.5 2.2-.4 1.5 .1 .7 .3 .9 .5 .7 .7 .5 .8 .2 1.4 -.5 1.5 -.6 .7 -1.1 .8 -1.6 .4 -1.5 0 -1.4-.3zM279.3 131.3l-1.5-.4 -.7-.5 -.7-.7 -.3-.8 -.1-.7 .1-.7 .4-.8 .6-.4 1.5-.8 1.4-.3 1.5 .3 .9 .5 .6 .7 .3 .8 .1 .7 -.1 .7 -.3 .8 -.7 .7 -.8 .5 -.7 .2 -1.5 .2z"/>
<path fill="#f89540" d="M239 286.7l50.8 0 4.4-3.1 4.5-3.8 3.9-4.1 3.4-4.4 2.8-4.4 2.6-5.1 2-5.2 1.4-5.1 .9-4.4 .6-4.4 .3-5.2 .2-5.1 -.4-15.4 -1.4-22 -.3-9.6 .1-22 1.5-22.7 .4-14 -.1-9.5 -.7-8.1 -1.2-6.6 -2.1-6.6 -2.5-5.9 -3-5.1 -3.8-5.1 -4-4.4 -5.1-4.4 -5.3-3.7 -49.9 0 0 219.4zM280 229.5l-1.4-.3 -1.5-.8 -.6-.4 -.5-.7 -.2-.8 0-.7 .3-.7 .6-.8 1-.7 .9-.3 1.4-.2 1.8 .5 1.1 .7 .5 .8 .3 .7 -.1 1.5 -.3 .7 -.7 .7 -1.1 .6 -1.5 .2zM280 197.3l-2.4-.9 -1.1-.7 -.5-.7 -.3-.8 -.1-.7 .1-.7 .3-.8 1.1-1.1 .7-.4 1.5-.6 2.2-.1 1.5 .3 1.1 .5 .9 .7 .5 .7 .3 .8 0 1.4 -.2 .8 -.5 .7 -.8 .7 -1.3 .7 -1.5 .3 -1.5-.1zM278.6 164.5l-1.9-1.1 -.6-.7 -.4-.7 -.1-1.5 .3-.7 .5-.8 .7-.5 2.2-1 2.2-.3 1.5 .3 .8 .3 .7 .5 .7 .7 .5 .8 .2 1.4 -.5 1.5 -.6 .7 -1 .8 -1.5 .5 -1.5 .1 -2.2-.3zM278.6 131.3l-1.5-.7 -.9-.9 -.3-.8 -.1-.7 .2-.7 .4-.8 1.4-.9 2.2-.7 1.5 .2 1.3 .7 .6 .7 .3 .8 0 1.4 -.3 .8 -.7 .7 -1.2 .7 -1.5 .4 -1.4-.2z"/>
<path fill="#f9983e" d="M239 286.7l45.1 0 5.6-3.2 4.7-3.4 4.3-3.9 2.2-2.4 2.1-2.5 3.4-5.1 2.7-5.2 1.9-5.1 1.6-5.9 .6-3.7 .5-4.4 .2-4.4 0-5.1 -.9-19.1 -1.8-21.3 -.1-24.9 .3-8.1 1.7-18.3 .7-16.2 0-9.5 -.3-4.4 -.5-3.7 -1.5-6.6 -2.1-5.9 -1.3-2.9 -1.6-2.9 -3.4-5.2 -2.2-2.6 -2.2-2.4 -4.5-4 -5.2-3.8 -3-1.7 -3.1-1.6 -43.9 0 0 219.4zM280 229.6l-1.4-.4 -1.5-.7 -.7-.5 -.5-.7 -.2-.8 0-.7 .2-.7 .5-.8 .9-.7 1.3-.5 2.2-.1 1.5 .5 1.1 .8 .5 .8 .3 .7 -.1 1.5 -.4 .7 -.7 .7 -1.5 .8 -1.5 .1zM279.3 197.2l-2.2-.9 -.8-.6 -.5-.7 -.4-1.5 .1-.7 .3-.8 .5-.7 1-.7 1.3-.6 1.4-.4 1.5 0 2.3 .4 1.1 .6 .8 .7 .8 1.5 0 1.4 -.7 1.5 -.7 .7 -1.3 .8 -1.5 .4 -1.5 0 -1.5-.4zM280 164.9l-1.4-.3 -1.1-.4 -1-.8 -.7-.7 -.4-1.5 0-.7 .3-.7 .5-.8 1.6-1.1 1.5-.5 1.5-.4 2.2 .2 1.1 .4 1.1 .7 .7 .7 .7 1.5 -.1 1.5 -.9 1.4 -.9 .8 -1.7 .6 -1.5 .2 -1.5-.1zM277.8 131.2l-1.3-.8 -.5-.7 -.3-.8 .1-1.4 .5-.8 .8-.7 .7-.3 2.2-.7 1.5 .1 .8 .3 .9 .6 .6 .7 .3 .8 .1 .7 -.1 .7 -.3 .8 -.5 .7 -1.1 .7 -1.4 .5 -1.5 0 -1.5-.4z"/>
<path fill="#f99a3e" d="M239 286.7l37.8 0 4.7-1.9 3.8-1.8 5.2-3.1 4.4-3.5 3.8-3.7 3.5-4.3 2.8-4.4 2.5-5.2 1.7-5.1 1.2-5.2 .5-3.6 .2-3.7 .1-4.4 -.2-4.4 -1.3-20.5 -.6-5.9 -1.4-10.3 -.4-5.9 .3-12.4 -.3-11 .1-4.4 .3-3.7 1.4-9.6 .6-5.8 1.5-23.5 0-4.4 -.2-3.7 -.9-6.6 -.8-3.6 -.9-3 -1.2-2.9 -1.3-3 -1.7-2.9 -1.9-2.9 -2.1-2.8 -2.1-2.4 -2.4-2.3 -2.4-2.1 -2.8-2.1 -3-1.9 -3-1.6 -3-1.4 -2.9-1.3 -3.7-1.2 -35.9 0 0 219.4zM279.3 229.6l-2.1-.9 -1-.7 -.5-.7 -.2-.8 0-.7 .2-.7 .4-.8 .9-.7 .8-.4 1.5-.4 2.2 .1 1.6 .7 .9 .7 .4 .8 .3 .7 0 .7 -.5 1.5 -.6 .7 -1.3 .8 -1.5 .3 -1.5-.2zM279.3 197.4l-2.2-1 -1-.7 -.5-.7 -.3-.8 0-1.4 .3-.8 .7-.9 .8-.6 1.5-.6 1.4-.4 1.5-.2 1.5 .1 1.5 .4 1.3 .8 .8 .7 .5 .7 .3 .8 0 1.4 -.2 .8 -.5 .7 -.7 .7 -1.2 .8 -1.8 .5 -1.5 .1 -2.2-.4zM279.3 165l-2.2-.9 -.9-.7 -.6-.7 -.3-.7 -.1-1.5 .3-.7 .5-.8 .9-.7 1.5-.7 1.6-.6 2.3-.2 1.5 .2 1.3 .6 1 .7 .7 .7 .4 .8 .2 .7 0 1.5 -.3 .7 -.6 .7 -.8 .8 -1.2 .5 -1.5 .5 -1.5 .1 -2.2-.3zM277.8 131.4l-1.5-1 -.5-.7 -.3-1.5 .2-.7 .4-.8 .9-.7 1.6-.7 1.4-.4 1.5 0 .8 .2 1.4 .9 .6 .7 .4 1.5 -.3 1.5 -.6 .7 -1.5 1 -1.5 .4 -1.5 0 -1.5-.4z"/>
<path fill="#fa9c3c" d="M247 286l6.2 .6 5.9 .1 6-.5 5.2-.8 5.3-1.3 5.2-1.8 4.5-2.2 4.4-2.7 3.8-2.9 3.7-3.6 3-3.6 2.7-4.1 2.2-4.4 1.6-4.4 1.2-5.1 .7-5.2 .1-3.6 -.2-4.4 -1.1-11.8 -.8-12.4 -.9-6.6 -2-9.6 -.4-4.4 .8-10.3 .1-3.6 -.1-4.4 -.8-8.1 .1-3.7 .4-2.9 1.9-8.8 .7-5.2 1-13.9 1.2-13.2 .1-4.4 -.3-3.7 -.5-3.6 -.8-3.7 -1.1-3.7 -1.2-2.9 -1.8-3.7 -1.9-2.9 -2.2-3 -2.4-2.7 -2.5-2.4 -2.8-2.2 -2.9-2.1 -3.8-2.1 -3-1.4 -3.7-1.5 -3.7-1.2 -3.8-.8 -3.7-.7 -4.5-.4 -5.2-.2 -6 .3 -5.9 .7 -6 1.2 0 214.4 8 1.5zM279.3 229.7l-2.3-1 -1-.7 -.5-.7 -.2-.8 0-.7 .6-1.5 1.2-1 .7-.3 1.5-.4 2.2 0 1.5 .5 .8 .5 .8 .7 .5 .8 .2 .7 -.2 1.5 -.3 .7 -1 1 -1.5 .8 -1.5 .1 -1.5-.2zM281.5 198l-1.5-.3 -2.2-.8 -1-.5 -.9-.7 -.6-.7 -.3-1.5 .3-1.5 .5-.7 .9-.7 1.1-.6 1.5-.5 2.2-.4 1.5 0 1.5 .3 1.4 .4 1.2 .8 .8 .7 .8 1.5 0 1.4 -.8 1.5 -1.1 1.1 -1.5 .7 -1.5 .4 -2.3 .1zM279.3 165.1l-1.5-.5 -1.5-.9 -.9-1 -.3-.7 -.1-1.5 .3-.7 .5-.8 .8-.7 1.2-.6 2.2-.8 1.5-.3 1.5 0 1.5 .2 1.5 .6 1.4 .9 .6 .7 .7 1.5 0 1.5 -.9 1.4 -.8 .8 -1.4 .7 -1.8 .5 -2.3 .1 -2.2-.4zM278.6 131.9l-1.8-.8 -.8-.7 -.5-.7 -.2-.8 0-.7 .2-.7 .4-.8 .9-.7 1-.5 1.5-.6 1.5-.2 1.5 .1 .7 .3 1.3 .9 .6 .7 .4 1.5 -.3 1.5 -.5 .7 -.8 .7 -1.7 .8 -2 .2 -1.4-.2z"/>
<path fill="#fb9f3a" d="M253 283l5.4 .4 5.2-.1 5.3-.5 4.4-.9 4.5-1.3 4.5-1.7 3.7-1.9 3.7-2.4 3.8-3 3-3.1 2.9-3.8 2.3-3.7 1.7-3.7 1.5-4.4 .9-4.4 .5-4.4 0-2.9 -.2-3.7 -1.8-13.2 -.6-11 -.5-4.4 -.5-2.9 -.8-3 -3.2-8 -.4-2.2 .3-2.2 1.9-7.4 .4-2.9 .2-2.9 -.1-2.2 -.3-3 -.6-2.9 -1.7-5.9 -.1-2.2 .6-2.2 2-4.8 1.1-3.2 .9-3.7 .6-3.7 .8-13.2 1.6-11 .4-5.1 -.2-5.9 -.4-2.9 -.6-3 -1.1-3.6 -1.2-3 -1.4-2.9 -1.8-3 -2.2-2.9 -2-2.2 -2.3-2.2 -2.6-2.1 -3-2.1 -3-1.7 -3-1.4 -3.7-1.4 -3.7-1.1 -3.8-.8 -3.7-.6 -3.7-.2 -6 0 -6 .5 -5.9 1.1 -6 1.5 0 205.8 6.7 1.7 7.3 1.1zM279.3 229.8l-2.5-1.1 -1-.7 -.5-.7 -.2-.8 0-.7 .1-.7 .4-.8 .7-.7 .8-.5 1.5-.6 1.4-.2 2.3 .2 1.2 .4 1.2 .7 .7 .7 .4 .8 .2 .7 -.1 1.5 -.4 .7 -.6 .7 -1.1 .8 -1.5 .5 -1.5 .1 -1.5-.3zM280.8 198.1l-2.6-.9 -1.6-.8 -.9-.7 -.6-.7 -.4-1.5 .1-.7 .3-.8 .5-.7 .8-.7 2.2-1.1 2.2-.5 2.2-.2 1.5 .1 1.5 .2 2 .7 1.3 .8 .8 .7 .6 .7 .4 .8 0 .7 -.1 .7 -1 1.5 -2.1 1.5 -1.8 .7 -1.6 .4 -2.2 0 -1.5-.2zM281.5 165.7l-2.2-.4 -2.2-.9 -1.4-1 -.6-.7 -.4-1.5 .1-.7 .2-.7 .5-.8 .9-.7 1.4-.7 3-1.1 1.5-.2 2.2 0 2 .5 1.7 .8 1.1 .7 1.4 1.5 .3 .7 .1 .7 -.1 .8 -.4 .7 -.6 .7 -1 .8 -1.3 .7 -2.4 .7 -1.5 .2 -2.3-.1zM278.6 132.1l-1.5-.6 -.6-.4 -.8-.7 -.4-.7 -.2-1.5 .2-.7 .4-.8 1.4-.9 2.2-1 1.5-.3 1.2 0 1 .3 1.1 .5 .9 .7 .6 .7 .4 1.5 -.2 1.5 -.5 .8 -1.5 1.1 -1.5 .5 -1.5 .2 -2.2-.2z"/>
<path fill="#fba139" d="M256.6 280.1l4.8 .3 4.5-.1 4.4-.5 4.5-.9 4.5-1.4 3.7-1.5 3.8-2.1 2.9-2 3-2.5 2.5-2.5 2.3-2.9 2.3-3.7 1.8-3.7 1.2-3.7 .8-3.6 .5-4.4 -.1-3.7 -.3-3.7 -.7-3.6 -1.6-6.6 -.4-3 -.2-2.9 .1-7.3 -.3-3.7 -.9-4.4 -.8-2.2 -.9-1.9 -.8-1.1 -1.1-1.4 -1.1-.9 -.8-.4 -.7-.3 -1.5-.1 -6.7 1 -2.3 0 -1.5-.3 -3.6-1.2 -1.6-.8 -.9-.7 -.5-.7 -.4-1.5 .3-1.5 .5-.7 .7-.7 1.8-.9 2.2-.7 1.5-.4 2.3-.2 2.2 0 5.2 .5 1.5-.2 .8-.3 1.1-.8 1.1-1.2 1-1.7 .6-1.5 .6-2.2 .3-2.2 0-2.2 -.2-2.2 -.4-2.2 -.8-2.2 -.8-1.4 -1-1.3 -1.5-1.1 -1.5-.5 -1.5 0 -4.5 .5 -2.2 0 -2.3-.2 -2.2-.6 -2.2-.8 -1.5-1 -.7-.9 -.4-1.5 .3-1.4 .5-.8 .8-.7 1.4-.7 4-1.4 1.5-.3 2.3 0 6.7 1 1.5-.1 .7-.3 1.5-1 .8-.7 1.2-1.6 .8-1.5 1.1-3 .9-3.6 .4-4.4 -.1-8.1 .2-2.9 .6-3 1.7-7.3 .6-4.4 .2-2.9 -.1-3 -.3-2.9 -.5-2.9 -.8-3 -1.1-2.9 -1.4-3 -1.8-2.9 -1.6-2.3 -2.3-2.5 -2.2-2.2 -2.3-1.8 -2.2-1.6 -3-1.7 -3-1.4 -3.7-1.4 -3-.9 -3.7-.8 -3-.4 -3.7-.2 -6 .1 -6.7 .8 -6 1.3 -6.7 2.1 0 197.4 4.5 1.5 4.5 1.2 4.4 .8 4.2 .6zM280.8 230.3l-1.5-.5 -2.7-1.1 -1-.7 -.5-.7 -.2-.8 .1-1.4 .3-.8 .7-.7 1.1-.7 2.2-.7 1.5-.2 1.5 .1 2.4 .8 1.1 .7 .7 .7 .4 .8 .2 .7 -.2 1.5 -.4 .7 -.7 .7 -1.3 .9 -1.6 .6 -2.1 .1zM277.8 132.1l-1.7-1 -.7-.7 -.4-.7 -.2-1.5 .2-.7 .5-.8 .9-.7 3.6-1.5 .8-.2 1.5 0 1.5 .4 1.2 .6 .9 .7 .6 .7 .6 1.5 0 .7 -.7 1.5 -1.1 1 -1.5 .7 -2.3 .5 -2.2-.2 -1.5-.3z"/>
<path fill="#fca338" d="M257.9 277.2l4.2 .3 3.8 .1 4.4-.4 3.8-.6 3.7-1 3.7-1.4 3.8-1.8 3-1.9 2.9-2.4 2.7-2.7 2.3-2.9 1.9-2.9 1.4-3 1.3-3.7 .8-3.6 .4-3.7 -.1-4.4 -.7-4.4 -1.1-3.7 -2.3-5.8 -.6-2.2 -.1-2.2 1-6.6 .1-3.7 -.2-2.2 -.4-2.2 -.7-2.2 -.6-1.5 -.9-1.5 -1.2-1.3 -1-.9 -1.2-.6 -2.3-.6 -6.7-.6 -3-.8 -2.9-1.2 -1.5-.9 -1-1.1 -.4-1.5 .3-1.5 .5-.7 .7-.7 1.4-.8 2.9-1 2.3-.6 7.4-1.1 2.2-.9 .9-.8 1.2-1.4 .8-1.5 .5-1.5 .4-2.9 0-2.2 -.2-1.5 -1-2.9 -.9-1.5 -.9-.9 -1.5-1 -1.5-.6 -7.4-1.1 -2.3-.6 -2.7-.9 -1.4-.7 -.8-.8 -.5-.7 -.4-1.5 .3-1.4 .5-.8 .8-.7 1.4-.7 2.8-1.2 2.3-.7 1.5-.2 6.7-.6 2.2-.9 1.2-.8 1.1-1.1 1.6-2.6 .5-1.5 .6-2.2 .5-3.7 -.1-3.6 -1-6.6 .1-2.2 .5-2.2 2.1-5.2 1-2.9 .7-2.9 .4-3 .1-2.2 0-2.9 -.6-4.4 -.8-2.9 -.7-2.2 -1.4-3 -1.3-2.3 -2-2.8 -1.7-2.1 -2.3-2.2 -1.9-1.6 -2.5-1.8 -2.3-1.3 -3-1.4 -2.9-1.2 -3-.8 -3-.7 -6-.6 -3-.1 -3.7 .2 -6.7 1 -6.7 1.8 -3.8 1.3 -3.7 1.6 0 188.8 5.2 2.1 4.5 1.5 4.5 1.1 4.7 .8zM280 230.2l-3.6-1.5 -1-.7 -.5-.7 -.3-.8 .1-1.4 .3-.8 1.3-1.3 1.5-.7 1.5-.4 2.2-.2 1.5 .1 1.5 .3 1.9 .8 1.1 .7 .7 .7 .4 .8 .2 .7 -.1 .7 -.8 1.5 -.7 .7 -1.9 1.2 -1.5 .5 -2.3 .2 -1.5-.4zM279.3 132.7l-1.5-.4 -1.5-.7 -1.2-1.2 -.4-.7 -.1-1.5 .2-.7 .5-.8 .9-.7 4.6-1.8 2.2-.1 1.9 .4 1.4 .8 1 .7 1.2 1.5 .2 .7 .1 .7 -.2 .8 -.5 .7 -.7 .7 -1.2 .8 -1.7 .6 -1.5 .3 -1.5 .1 -2.2-.2z"/>
<path fill="#fca537" d="M265.1 275l3.8-.1 2.9-.3 3.8-.7 3-.8 2.9-1.1 3-1.5 3-1.9 2.2-1.7 2.4-2.2 2.1-2.5 1.8-2.6 1.6-3 1.1-2.9 .8-3 .5-2.9 .1-2.9 -.3-4.4 -.5-2.2 -.7-2.2 -.9-2.2 -1.2-2.1 -1.3-1.6 -1-.9 -1.5-.8 -1.5-.1 -5.2 2 -2.2 .4 -1.5 .1 -2.3-.5 -3.9-1.7 -1-.7 -.5-.7 -.3-.8 0-.7 .4-1.5 .5-.7 .9-.7 1.7-.8 2.2-.5 3-.2 2.3 .2 5.2 .9 1.5-.4 .7-.5 1.3-1.7 1-2.2 .7-2.9 .1-2.9 -.3-3 -1-2.9 -1.4-2.2 -1.4-1.5 -1.2-.8 -1.5-.7 -6.7-1.6 -6-2.4 -1.5-1.1 -.5-.7 -.4-1.5 .3-1.5 .4-.7 .7-.7 1.2-.8 5-1.7 6-1.6 1.5-.7 1.5-1 1.4-1.6 .9-1.4 .6-2.2 .3-2.2 -.2-2.2 -.7-2.2 -.8-1.5 -1.2-1.5 -1.8-1.2 -1.5-.7 -7.5-2.1 -3.2-1.1 -1.2-.7 -.9-.8 -.5-.7 -.2-.7 -.1-.8 .3-1.4 .5-.8 .8-.7 1.4-.7 5.4-2.2 6.3-1.5 1.8-.7 1.1-.8 .9-.7 1.1-1.3 1.2-2.4 .9-2.9 .2-3 -.2-2.9 -.8-2.9 -1.3-2.5 -.8-.8 -.7-.5 -.8-.3 -1.5 0 -4.4 .8 -2.3 .2 -2.2-.1 -2.2-.4 -1.5-.5 -1.7-1.1 -1-1.4 -.1-1.5 .2-.7 .5-.8 .9-.7 4.1-1.8 1.5-.4 1.5-.1 2.3 .3 1.6 .5 3.6 1.5 1.5 .2 1.5-.4 1.5-1.2 1.5-1.8 1.1-1.9 1-2.2 .8-3 .6-2.9 .1-2.9 -.1-3 -.5-2.9 -.5-2.2 -1.1-2.9 -1-2.2 -1.3-2.3 -1.5-2.2 -1.9-2.2 -1.7-1.6 -2.2-1.9 -2.3-1.5 -2.2-1.3 -2.3-1.1 -2.9-1.1 -3-.8 -3-.6 -3-.3 -3-.2 -3 .1 -3.7 .4 -3.7 .6 -3 .7 -3 .9 -3.7 1.4 -3.8 1.6 -3.7 1.9 0 180.2 6.7 3.2 3 1.2 3.7 1.2 3.8 .9 2.9 .5 6 .6z"/>
<path fill="#fca835" d="M261.1 272l3.3 .4 3.7 .2 3.7-.2 3-.5 3-.7 3-1.1 3-1.3 3-1.9 2.2-1.7 2.2-2.2 1.8-2 1.9-2.9 1.5-3 1-2.9 .6-2.9 .3-3 0-2.2 -.2-2.2 -.9-3.6 -1.5-3.3 -.8-1.1 -1.4-1.5 -1.5-1 -1.5-.4 -1.5-.1 -5.2 .4 -2.3-.3 -1.5-.5 -2.2-1.1 -2-.7 -.9-.7 -.6-.7 -.3-1.5 .3-1.5 .6-.7 1.4-1.1 2.3-.8 2.2-.5 7.5-.6 1.4-.5 1.4-.9 1.2-1.5 .7-1.4 .6-2.2 .2-2.2 -.3-3 -.8-2.2 -1.2-2.2 -1.4-1.5 -1-.7 -1.6-.9 -5.2-1.9 -7-3.1 -.9-.7 -.5-.7 -.4-1.5 .3-1.5 .5-.7 1.3-1.1 1.5-.8 8.8-3.2 1.5-.8 1.6-1.2 1.4-1.7 .8-1.5 .4-1.4 .3-2.2 -.2-2.2 -.5-1.5 -.7-1.5 -1.1-1.4 -1.8-1.5 -1.4-.7 -9.1-3.4 -2-1 -.7-.8 -.8-1.4 0-1.5 .3-.7 .4-.8 1.3-1 6.7-2.9 5.2-1.9 2.4-1.5 1.4-1.5 1.4-2.2 .7-2.2 .4-2.9 -.2-2.2 -.5-2.2 -1.2-2.2 -1.4-1.4 -.8-.4 -1.4-.5 -6.8-.5 -2.2-.4 -2.2-.6 -1.5-.9 -1.2-1.2 -.4-1.5 0-.7 .2-.7 .5-.8 .9-.7 2.2-.8 3-1.4 1.5-.4 1.5-.1 5.2 .4 1.5-.1 1.5-.4 .7-.4 1.5-1.2 1.2-1.5 .8-1.4 1-2.2 .6-2.2 .4-2.2 .1-2.2 -.1-3 -.3-2.2 -.5-2.2 -.7-2.2 -1-2.2 -1.2-2.2 -2.6-3.7 -1.4-1.4 -2.2-2 -2.3-1.6 -2.2-1.4 -4.5-1.9 -4.5-1.2 -5.2-.6 -3.7 0 -3.8 .3 -3.7 .7 -4 1.1 -4.1 1.4 -3.8 1.8 -3.6 1.9 -3.9 2.4 0 171.2 5.4 3.3 5.8 2.7 5.2 1.8 5.7 1.3z"/>
<path fill="#fdab33" d="M263 269.8l3.6 .5 3 0 3-.1 3-.5 3-.7 2.2-.8 3-1.5 2.2-1.3 2.3-1.8 1.9-1.8 1.8-2.2 1.5-2.3 1.1-2.2 1.1-2.9 .7-2.9 .3-3 -.2-3.6 -.9-3.7 -1.5-2.9 -1.2-1.5 -.8-.7 -1.6-1.1 -1.5-.5 -5.2-.6 -2.3-.4 -1.5-.6 -2.2-1.2 -2.3-.8 -1-.7 -.5-.7 -.3-.8 0-1.4 .7-1.5 1.2-1 1.5-.7 1.5-.5 8.2-1.7 1.2-.5 1.1-.7 1.4-1.5 .8-1.5 .6-2.2 .1-2.2 -.3-2.2 -.7-2.2 -.9-1.4 -1.2-1.5 -1.8-1.5 -1.2-.7 -7.3-3.7 -2.2-.7 -1.5-.8 -.8-.7 -.6-.7 -.4-1.5 .3-1.5 .4-.7 1-.9 1.5-.9 3.3-1.1 4.9-2.2 1.3-.8 1.8-1.4 1.2-1.5 .8-1.5 .5-1.4 .2-2.2 -.2-2.2 -.4-1.5 -.8-1.5 -1.1-1.4 -1.8-1.5 -1.3-.7 -4.7-2.2 -4.1-1.5 -1.2-.7 -.7-.8 -.8-1.4 -.1-.8 .4-1.4 .5-.8 .7-.7 .9-.5 3-1.1 7.1-3.5 1.8-1.2 1.3-1 1.3-1.5 1.1-2.2 .6-2.2 .2-2.2 -.2-2.2 -.5-1.5 -.7-1.5 -1.3-1.4 -1.1-.8 -1.8-.7 -7.1-1.5 -3-.9 -1.5-1 -.8-1 -.3-.7 0-1.5 .7-1.5 .9-.7 2.5-.9 3-1.5 2.2-.6 6-.7 2.2-.9 1.6-1.3 1.2-1.4 .9-1.5 .6-1.5 .7-2.2 .5-3.6 0-2.2 -.3-2.2 -.4-2.2 -.7-2.2 -1.8-3.9 -2.5-3.5 -1.4-1.5 -2.1-1.9 -3.7-2.4 -2.3-1.2 -2.2-.8 -4.5-1.2 -4.5-.4 -3.7 0 -3.7 .5 -3.8 .8 -4.4 1.5 -3.8 1.6 -3.8 2.1 -4.4 2.8 -3.7 2.9 0 161.6 2.8 2.2 3.1 2.2 3.1 1.8 2.9 1.6 3 1.3 3 1.1 3 .9 3.1 .6z"/>
<path fill="#fdac33" d="M263.8 267.6l2.8 .5 3 .2 3-.1 3-.4 3-.7 2.2-.8 2.2-1 2.3-1.4 1.9-1.4 1.8-1.7 1.7-2 1.5-2.2 1.1-2.2 .9-2.2 .5-2.2 .4-2.9 -.1-3.7 -.7-2.9 -1.3-3 -1.8-2.2 -1.5-1.2 -1.4-.7 -6-1.6 -1.5-.5 -3-1.8 -2.7-.8 -.9-.7 -.6-.7 -.4-1.5 .1-.7 .2-.8 .5-.7 .8-.8 1.1-.7 1.2-.4 6.4-1.8 1.8-.6 1.6-.8 1-.8 1.2-1.4 .8-1.5 .4-1.5 .2-2.2 -.3-2.2 -.7-2.2 -.9-1.4 -1.2-1.5 -1.7-1.5 -5.9-3.7 -1.2-.6 -2.7-.8 -1.4-.8 -.9-.7 -.5-.7 -.4-1.5 .3-1.5 .4-.7 1.4-1.3 1.5-.7 3-1 2.9-1.4 2.4-1.5 1.7-1.4 1.2-1.5 .8-1.5 .5-1.4 .2-2.2 -.2-2.2 -.5-1.5 -.7-1.5 -1.2-1.4 -1.6-1.5 -3.7-2.2 -1.6-.7 -3.9-1.4 -1.4-.8 -.7-.8 -.7-1.4 0-1.5 .2-.7 .5-.8 1.3-1.1 .8-.3 3-1 1-.5 5.9-3.7 1.8-1.4 1.2-1.5 .9-1.5 .8-2.2 .3-2.2 -.2-2.2 -.4-1.5 -.7-1.4 -1.2-1.5 -1.2-1 -2.3-1 -6.7-1.8 -2.2-.9 -1.5-1.2 -.5-.7 -.4-1.5 .1-.7 .2-.7 .5-.8 .9-.7 1.4-.6 1.5-.3 3-1.8 1.5-.5 6-1.6 2-1.1 1.6-1.4 1.1-1.5 .7-1.5 1-2.9 .5-3.7 -.3-3.6 -.9-3.7 -1.7-3.7 -2.1-2.9 -2.8-3 -3.6-2.5 -3.8-1.7 -3.7-1.1 -4.5-.6 -3.7 .1 -4.5 .6 -4.5 1.2 -4.4 1.8 -4 2.2 -4.2 2.9 -3.8 3 -3.7 3.6 0 151.2 3.1 3 2.5 2.2 2.9 2.2 3.4 2.2 3 1.7 3.8 1.6 2.9 1 3.2 .8z"/>
<path fill="#fdaf31" d="M267.6 266.2l2.7 .2 2.3 0 4.5-.6 2.2-.6 2.2-.9 2.3-1.2 2-1.3 1.7-1.5 1.5-1.6 1.5-2 .9-1.6 1-2.2 .7-2.2 .5-2.2 .1-2.2 -.2-2.9 -.7-2.9 -1-2.2 -1.7-2.2 -1.1-.9 -1.5-1 -6-2.3 -3.7-2.3 -2.2-.5 -.9-.4 -1-.7 -.8-1.5 -.1-1.4 .2-.8 .5-.7 1.3-1.2 1.5-.7 6.7-2.1 1.5-.7 1.8-1.2 1.3-1.4 .9-1.5 .4-1.5 .3-2.2 -.3-2.2 -.4-1.4 -1.2-2.2 -1.2-1.5 -2.5-2.2 -4-3 -1.8-.8 -2.4-.6 -1.5-.8 -.8-.7 -.5-.7 -.4-1.5 .1-.7 .6-1.5 1.2-1.1 1.5-.8 3-1 1.8-.8 2.3-1.4 2.5-2.2 1.2-1.5 .7-1.5 .7-2.2 .1-1.4 -.3-2.2 -.4-1.5 -.7-1.5 -1.1-1.4 -2.5-2.2 -2.3-1.5 -2-.9 -3-1 -1.9-1 -.7-.8 -.4-.7 -.3-.7 0-1.5 .7-1.5 .8-.7 1.2-.7 2.8-.8 1.5-.7 4.1-2.9 2.6-2.2 1.2-1.5 1.2-2.2 .5-1.5 .3-2.2 -.2-2.2 -.5-1.5 -.8-1.4 -1.2-1.5 -1.2-.9 -2.3-1.1 -6.7-2.1 -1.5-.7 -1.2-1.1 -.5-.7 -.3-.7 0-1.5 .8-1.5 .8-.7 1.2-.5 2.2-.5 3.7-2.3 6-2.3 1.6-1 1.4-1.3 1.6-2.4 1.1-2.9 .5-2.9 -.1-3.7 -.9-3.7 -1.2-2.9 -1.9-2.9 -1.3-1.6 -1.5-1.4 -3-2.2 -3.8-1.8 -3.7-1 -4.5-.5 -4.4 .3 -4.5 1 -4.5 1.6 -3.7 2 -4.2 2.8 -4.3 3.7 -3.5 3.7 -3.7 4.5 0 139 3.1 3.9 3.5 3.7 3.2 2.9 3.9 3 3.7 2.2 3.5 1.6 3.7 1.3 4 .8z"/>
<path fill="#fdb130" d="M266.3 264l2.6 .4 2.2 .2 2.2 0 2.3-.2 2.2-.4 2.2-.7 2.3-1 1.5-.9 1.6-1.1 1.7-1.5 1.3-1.5 1.5-2.2 .8-1.4 .9-2.2 .5-2.2 .3-2.2 -.1-3 -.7-2.9 -.9-2.2 -1.6-2.2 -1.6-1.4 -1.2-.8 -4.8-2.4 -1.5-.9 -1.2-1.1 -1-.6 -2.2-.3 -1.5-.6 -.9-.7 -.5-.7 -.5-1.5 .1-.7 .6-1.5 .6-.7 1.1-.8 1.7-.7 4.8-1.5 1.7-.7 2.2-1.5 1.4-1.4 .9-1.5 .4-1.5 .3-2.2 -.2-2.2 -.8-2.2 -1.3-2.2 -1.3-1.5 -2.4-2.2 -2.7-2.2 -1.5-.7 -3.1-.7 -1.3-.8 -.8-.7 -.6-.7 -.2-.8 -.2-.7 .3-1.5 .4-.7 .6-.7 1-.8 .9-.4 3.8-1.1 1.3-.7 2.2-1.4 2.3-2.2 1-1.5 .7-1.5 .5-1.4 .2-2.2 -.2-2.2 -.4-1.5 -1.2-2.2 -1.2-1.5 -1.6-1.4 -2-1.5 -1.6-.8 -3.8-1.1 -1.7-1 -.7-.8 -.4-.7 -.4-1.5 .1-.7 .7-1.5 .8-.7 1.6-.9 3-.7 1.3-.6 2.8-2.2 2.4-2.2 1.3-1.5 1.3-2.2 .8-2.2 .3-2.2 -.2-2.2 -.5-1.5 -.8-1.4 -1.3-1.5 -1.4-1 -2.3-1.2 -5.2-1.6 -2.2-1.1 -1.1-1 -.4-.7 -.3-.7 0-1.5 .8-1.5 .8-.7 1.7-.7 2.2-.3 .8-.5 2.2-1.7 6-3.1 2.2-1.8 1.6-2.2 1-2.2 .6-2.2 .2-2.9 -.4-3.7 -.4-1.4 -.8-2.2 -1.8-3 -2.2-2.6 -3-2.3 -3-1.6 -3.7-1.2 -3.8-.4 -2.2 0 -2.2 .2 -2.3 .4 -3 .8 -4.5 1.9 -4.4 2.9 -4.1 3.4 -4 4.4 -3.8 5.1 -3.8 6.5 0 123.4 3 5.1 3 4.4 2.9 3.7 3.7 3.7 3.6 2.9 3.5 2.2 3.4 1.6 4.2 1.4z"/>
<path fill="#fdb42f" d="M267.9 262.5l3.9 .5 2.3 0 2.2-.2 3.7-1 2.3-1 1.5-.9 1.5-1.2 1.4-1.4 1.3-1.4 .9-1.5 .8-1.6 .8-2.1 .4-1.4 .3-2.2 -.1-3 -.8-2.9 -1-2.2 -1.7-2.2 -1.7-1.5 -5.1-3.2 -2.1-1.9 -.9-.5 -2.3-.2 -2-.8 -.9-.7 -.6-.7 -.4-1.5 0-.7 .6-1.5 .6-.7 1-.8 1.6-.7 4.9-1.5 1.6-.7 2.1-1.5 1.4-1.4 .8-1.5 .5-1.5 .3-2.2 -.3-2.2 -.7-2.2 -1.3-2.2 -1.8-2.2 -2.9-2.9 -1.4-1.1 -.8-.3 -3-.5 -.9-.3 -1.3-.8 -.7-.7 -.5-.7 -.3-.8 -.1-.7 .2-1.5 .4-.7 1-1.1 .7-.5 1.5-.6 3-.7 1.8-.8 2-1.4 1.4-1.5 1.1-1.5 1.1-2.2 .5-1.4 .2-2.2 -.2-2.2 -.4-1.5 -1.1-2.2 -1.1-1.5 -1.4-1.4 -1.9-1.5 -2-.9 -3.7-1 -1.8-1 -1-1.5 -.3-1.5 0-.7 .7-1.5 .9-.8 1.5-.8 3.7-.8 1.1-.5 1-.7 2.9-3 1.8-2.2 1.3-2.2 .8-2.2 .3-2.2 -.3-2.2 -.4-1.5 -.8-1.4 -1.3-1.5 -2-1.5 -1.5-.7 -5.1-1.6 -1.5-.6 -.8-.5 -1-1 -.4-.7 -.3-.7 .1-1.5 .8-1.5 .8-.7 1.6-.7 2.9-.4 .7-.4 2.3-2 5-3.1 1.7-1.5 1.7-2.2 1.1-2.2 .6-2.2 .3-2.9 -.2-2.2 -.2-1.5 -1-2.9 -1.7-2.9 -2-2.2 -2.3-2 -3-1.6 -3-1 -3.7-.5 -2.3 0 -2.9 .3 -3 .8 -2.3 .8 -3 1.5 -2.2 1.4 -2.2 1.7 -2.4 2.2 -2 2.2 -1.8 2.2 -2 3 -1.8 2.9 -3.5 7.3 -3.7 9.3 0 100.2 3.1 7.9 3 6.6 3 5.2 3.2 4.4 3.4 3.6 2.2 2 2.2 1.6 2.3 1.3 2.1 1 2.4 .9 2 .6z"/>
<path fill="#feb72d" d="M268.9 261l2.2 .4 2.2 .2 3.8-.3 2.2-.6 1.5-.6 3-1.7 1.5-1.2 1.2-1.3 1.1-1.5 .8-1.5 1.2-2.9 .4-2.2 .1-1.5 -.3-2.9 -.6-2.2 -1.1-2.2 -1.7-2.2 -1.7-1.5 -3.9-2.9 -2.2-2.2 -.8-.5 -3-.1 -2.1-.9 -.9-.7 -.5-.7 -.5-1.5 0-.7 .6-1.5 .6-.7 .9-.8 1.9-.8 4.9-1.4 1.5-.7 2-1.5 1.3-1.4 .8-1.5 .5-1.5 .2-2.2 -.1-1.4 -.3-1.5 -.9-2.2 -1.3-2.2 -2.9-3.7 -1.6-1.5 -1.1-.5 -3-.4 -2.2-.7 -.9-.6 -.7-.7 -.8-1.5 -.1-1.4 .2-.8 .4-.7 .6-.7 .9-.8 1.9-.8 4.5-1 1.7-1.1 1.6-1.5 1.5-2.2 .8-1.4 .6-2.2 .2-2.2 -.1-2.2 -.7-2.2 -.7-1.5 -1.5-2.2 -1.5-1.5 -1.9-1.2 -4.5-1 -1.5-.6 -.8-.5 -1-1.1 -.4-.7 -.3-.7 .1-1.5 .7-1.5 .7-.7 1.1-.7 2.1-.7 3-.4 .9-.4 1.7-1.5 2.9-3.6 1.4-2.3 .9-2.2 .3-1.4 .1-1.5 -.2-2.2 -.5-1.5 -.7-1.4 -1.2-1.5 -2-1.5 -1.4-.7 -1.4-.5 -3.8-1 -2.2-1.1 -1.1-1.1 -.4-.7 -.3-.7 .1-1.5 .8-1.5 .8-.7 .8-.5 1.5-.5 3-.1 .6-.4 2.4-2.3 3.7-2.8 1.7-1.5 1.3-1.4 1.3-2.2 .8-2.2 .4-3 -.1-2.9 -.8-2.9 -1.4-3 -1.7-2.2 -2.2-1.9 -3-1.7 -3-1 -3.7-.5 -3 .2 -3 .6 -3 1.1 -3 1.5 -2.4 1.7 -2.5 2.2 -2.6 3 -2.1 2.9 -1.7 2.9 -1.7 3.7 -1.5 3.7 -1.7 5.1 -2.9 9.5 -1.6 5.9 -1.4 5.9 -1 5.7 0 57.4 1.2 6.6 1.6 6.6 3 10.3 2.9 8.8 2.1 5.1 2.8 5.1 1.5 2.2 1.8 2.2 2.2 2.2 1.8 1.5 2.1 1.5 2.4 1.3 2.2 .9 2.3 .7z"/>
<path fill="#feb82c" d="M269.3 259.6l3.3 .6 3.7-.1 1.5-.2 2.2-.7 3-1.6 2.3-2 1.9-2.7 1.3-2.9 .3-1.5 .2-2.2 -.3-2.9 -.6-2.2 -1.2-2.2 -1.7-2.2 -4.4-4 -2.3-2.6 -.7-.4 -3 0 -2.2-.6 -.9-.5 -.9-.7 -.9-1.5 -.1-.7 .2-1.5 .3-.7 .6-.7 .9-.8 2.3-1 5.2-1.3 1.3-.6 1.9-1.5 1.2-1.4 .8-1.5 .4-1.5 .2-1.4 -.2-3 -1-2.9 -2.1-3.7 -2.2-2.9 -.9-.8 -.9-.4 -3.7-.3 -2.4-.7 -1.1-.8 -.8-.7 -.5-.7 -.4-1.5 .3-1.5 .3-.7 .6-.7 .9-.8 2.3-1 4.5-.7 1.1-.5 1.1-.7 1.9-2.2 .9-1.5 .9-2.2 .5-2.9 -.1-2.9 -.9-3 -.7-1.4 -1-1.5 -1.3-1.5 -1.6-1 -1.5-.4 -3.8-.6 -2.1-.9 -.9-.7 -.7-.8 -.4-.7 -.3-1.5 .4-1.4 .4-.8 .7-.7 1.1-.7 1.1-.5 1.5-.4 3.7-.3 .8-.4 .8-.6 2.8-3.7 1.7-3 1-2.9 .2-2.2 -.1-2.2 -.5-1.5 -.7-1.4 -1.1-1.5 -1.9-1.5 -1.4-.7 -1.6-.5 -3.7-.8 -2.1-.9 -.9-.7 -1.1-1.5 -.2-.7 .1-1.5 .8-1.5 .8-.7 1.3-.7 2-.5 2.3 .1 .7-.1 .5-.3 2.5-2.7 4.3-3.9 1.8-2.2 1.1-2.2 .7-2.2 .3-2.2 -.2-2.9 -.8-2.9 -1.1-2.2 -1.7-2.2 -2.2-1.9 -2.2-1.3 -3-1 -3-.3 -3.7 .2 -3 .8 -3 1.4 -3 1.9 -2.6 2.4 -2.4 2.9 -1.9 2.9 -1.8 3.7 -1 2.9 -1 3.7 -2.2 10.3 -2.6 10.2 -1 5.2 -1 8.1 -1.6 22.7 0 5.1 .2 5.2 1.3 19 .6 5.9 1.3 7.4 2.6 10.2 2.2 10.3 1 3.7 1.3 3.6 1.4 3 1.7 2.9 2.4 2.9 2.2 2.2 2.4 1.8 3 1.7 2.7 1z"/>
<path fill="#febb2b" d="M272.3 258.8l2.5 .2 3-.3 3-1 2.2-1.4 2-1.9 1.5-2.2 1.1-2.9 .4-3 -.1-2.2 -.4-1.4 -.4-1.5 -1.2-2.2 -1.7-2.2 -3.4-3.5 -2.4-3.1 -.6-.4 -3.7 .2 -2.5-.5 -1.4-.8 -.9-.7 -1-1.5 -.1-.7 .2-1.5 .4-.7 .6-.7 1.7-1.2 2.2-.8 5.3-1 1.5-.7 1.1-.7 1.4-1.5 .9-1.5 .5-1.4 .3-2.2 -.2-3 -.9-2.9 -1.9-3.7 -1.9-2.9 -.8-.7 -.8-.4 -4.5-.1 -1.5-.3 -1.8-.7 -1.1-.8 -.8-.7 -.5-.7 -.4-1.5 0-.7 .6-1.5 1.5-1.5 1-.5 1.5-.6 1.5-.3 4.5-.4 .8-.4 1.1-.7 1.3-1.5 1.2-2.2 1-2.9 .3-2.2 -.2-2.9 -.7-3 -1.5-2.9 -1.2-1.5 -1-.7 -1.1-.5 -4.5-.4 -1.5-.3 -1.5-.6 -1.7-1.1 -.7-.8 -.7-1.4 0-.8 .3-1.4 1.2-1.5 1.1-.7 1.6-.8 1.2-.3 1.5-.1 3.7-.1 .8-.4 .6-.5 2-3 1.6-2.9 1.1-3 .4-2.2 0-2.2 -.5-2.2 -1.1-2.2 -1.4-1.4 -1-.8 -1.7-.8 -5.3-1 -2.2-.8 -1.5-1 -.7-.8 -.5-.7 -.2-.7 .1-1.5 .3-.7 .6-.8 .8-.7 1.3-.7 1.3-.5 1.5-.2 3 .2 .7-.1 .4-.2 .7-.7 1.9-2.5 3.3-3.4 1.7-2.2 1.2-2.2 .8-2.9 .2-2.9 -.3-2.2 -1.1-3 -1.5-2.2 -2.1-2 -2.2-1.4 -3-1 -3-.3 -3 .3 -2.9 .8 -2.9 1.4 -2.4 1.7 -2.1 2 -2.3 2.9 -1.7 3 -1.4 3.6 -.7 3 -.5 2.9 -.4 8.1 -.3 2.9 -.6 2.9 -2.2 8.1 -.9 5.1 -.2 5.2 .3 8.8 -.1 2.9 -1.2 11 -.3 4.4 .2 5.2 1.3 11.7 0 2.9 -.2 8.9 .3 5.1 .8 5.1 2.2 8.1 .6 2.9 .3 3 .5 8 .4 3 .5 2.2 1 2.9 1.5 2.9 2 3 2 2.2 2.7 2.2 2.3 1.3 2.2 1 2.7 .6z"/>
<path fill="#febd2a" d="M271.4 257.3l2.7 .5 3 0 2.9-.9 2.3-1.2 2.1-2 1.5-2.2 .8-2.2 .4-3 -.1-1.4 -.4-2.2 -1.2-3 -1.5-2.2 -3.9-4.6 -1.7-2.7 -.5-.3 -.7 0 -2.3 .4 -1.5 .1 -3-.5 -2.2-.9 -2-1 -1.7-1.5 -.5-.7 .1-.7 1.4-1.5 2.2-1.5 1.6-.7 3.4-.9 5.2-.6 1.5-.6 .7-.4 1.4-1.2 1.1-1.4 .6-1.5 .5-2.2 -.1-2.9 -1-3.7 -1.3-3 -1.5-2.9 -1.1-1.3 -.8-.4 -.7-.1 -4.5 .3 -2.3-.3 -1.6-.4 -2-.7 -2.6-1.5 -1.8-1.5 -.5-.7 .2-.7 1.6-1.5 2.3-1.5 1.6-.7 2.3-.7 2-.4 6-.2 1.5-.8 1.4-1.6 .7-1.4 .8-2.2 .4-2.2 .1-3.7 -.5-2.9 -1-3 -.9-1.4 -.7-.8 -1-.7 -.8-.3 -6-.2 -2.2-.4 -1.8-.6 -1.7-.7 -2.4-1.5 -1.5-1.4 -.4-.8 .4-.7 1.7-1.5 2.6-1.4 1.8-.8 3.5-.7 2.3-.1 3 .3 .7-.1 .8-.4 1-1.2 1.6-2.9 1.2-3 .9-2.9 .3-2.9 -.2-2.2 -.8-2.2 -1.1-1.5 -.7-.7 -1.5-1 -1.5-.5 -5.6-.7 -3.3-1 -1.1-.5 -2.3-1.5 -1.4-1.4 -.2-.8 .3-.7 1.7-1.5 2.8-1.4 1.6-.6 3-.5 1.5 .1 2.3 .4 .7 0 .3-.2 .7-.7 .5-.9 1.5-2.1 3.6-4.3 1.3-2.2 .6-1.5 .7-2.9 0-3 -.7-2.9 -1.2-2.2 -2-2.2 -2.3-1.6 -2.2-.8 -3-.5 -2.3 .1 -2.2 .5 -2.2 .9 -2.4 1.4 -1.9 1.5 -2 2.2 -1.5 2.2 -1.5 2.9 -.7 2.2 -.6 2.9 -.2 3 .1 2.2 .4 2.2 .5 1.8 .8 2 1.8 3.5 .1 .7 -.4 .8 -3 4.5 -1.7 3.5 -1 3.7 -.4 2.2 -.1 2.2 0 2.2 .3 2.2 1 3.7 1.2 2.7 2.4 3.9 .2 .7 -.3 .8 -2.3 3.5 -1.8 3.8 -1 3.7 -.4 3.6 0 2.2 .3 2.2 .9 3.7 1.5 3.7 1.2 1.9 1.7 2.5 .2 .7 -2.6 4.5 -1 2.1 -1.1 3.7 -.4 3.7 0 2.2 .2 2.2 .4 2.2 .7 2.2 .9 2.2 1 2 3.1 4.6 .3 .7 -.2 .7 -2.1 4.4 -.9 3 -.5 3.6 .2 3.7 .6 2.9 .8 2.2 1.5 3 1.5 2.2 2.1 2.2 1.9 1.4 2.2 1.3 2.5 .9z"/>
<path fill="#fec029" d="M273.2 256.6l2.4 .3 2.2-.3 2.2-.7 1.5-.8 1.8-1.4 1.2-1.6 1.1-2.1 .5-2.2 .2-1.5 -.2-2.2 -.4-1.4 -.8-2.2 -1.3-2.2 -3.6-4.9 -1.2-2.5 -.6-.7 -.4-.3 -.7 .1 -2.3 .6 -1.5 .2 -5.9 .1 -2.3 .5 -1.5 .9 -1.3 1.6 -.8 1.4 -.6 2.2 -.2 3 .3 2.9 .8 2.9 1.4 3 1.9 2.6 2.3 2 1.5 1.1 1.4 .7 2.9 .9zM266 219.9l2.1 .2 8.2-.3 1.5-.2 1.3-.4 1.1-.7 .8-.8 1-1.4 .5-1.5 .4-2.2 0-1.5 -.3-2.2 -.8-2.9 -1.9-5.2 -.8-1.4 -1-.8 -1-.2 -4.5 .7 -5.2 .3 -2.3 .3 -1.2 .4 -1.2 .7 -.9 .8 -1.1 1.4 -.9 2.3 -.6 2.9 .1 2.9 .4 2.2 .9 2.4 1.5 2.1 1.7 1.4 2.2 .7zM274.9 187.6l1.4 .2 1.5-.1 .8-.3 .6-.5 1.2-1.5 1.1-2.9 .6-3.7 -.1-3.6 -.7-3.7 -.9-2.2 -.4-.7 -.6-.8 -.8-.6 -1.5-.4 -5.3 .4 -5.2 .2 -2 .4 -1.6 .8 -1.6 1.4 -1.1 1.5 -.6 1.5 -.6 2.2 -.1 2.2 .2 2.2 .5 2.2 .9 1.8 .9 1.1 1.4 1.3 2.2 .9 2.3 .3 4.4 .2 3.1 .2zM276.3 156.1l1.5 0 1.2-.7 1.4-3 1.8-5.1 .6-3 .1-2.2 -.3-2.2 -1-2.2 -1.2-1.4 -1-.8 -.8-.3 -1.5-.4 -9.7-.3 -2.3 .4 -1.5 .6 -1.5 1.3 -1.2 1.7 -1 2.2 -.6 2.2 -.2 2.2 .2 2.2 .5 2.2 1 2.2 1.2 1.5 .8 .7 .8 .5 1.5 .5 2.3 .3 5.2 .3 3.7 .6zM276.6 124.5l1.2 .1 .9-.8 1.3-2.6 3.5-4.7 .9-1.5 1.1-2.2 .4-1.5 .3-2.2 0-1.4 -.3-2.2 -.9-2.2 -1-1.5 -1.4-1.5 -1.8-1.3 -1.5-.6 -2.2-.6 -2.3 0 -3 .5 -2.2 .9 -2.7 1.9 -2.2 2.2 -1.6 2.2 -1.4 2.9 -.8 2.9 -.2 3.7 .4 2.9 .8 2.2 1 1.5 1.5 1.3 .7 .3 1.5 .4 6.7 .2 1.5 .2 1.8 .5z"/>
<path fill="#fdc328" d="M275.1 255.9l2-.1 2.2-.5 1.5-.7 1.5-1.1 1.2-1.3 .9-1.5 .6-1.4 .4-2.2 -.1-3 -.9-2.9 -1.1-2.2 -3.3-4.9 -1.4-3.2 -.5-.7 -.3-.2 -1.3 .2 -3.2 1.1 -4.4 .9 -2.3 1 -1.5 1.2 -1.1 1.7 -.7 1.4 -.5 2.2 0 3 .6 2.9 1.2 2.9 1.4 2.2 2.1 2.2 2.2 1.5 2.3 1 2.5 .5zM271.9 219.2l4.4 .4 1.5-.2 .8-.2 1.3-.7 .7-.8 .9-1.4 .5-1.5 .2-1.5 0-2.2 -.3-2.2 -.5-2.2 -2.1-6.6 -.4-.7 -1.1-.8 -1.4 0 -6.8 1.8 -3 1.2 -1.1 .7 -1.4 1.5 -.9 1.5 -.5 1.4 -.4 2.2 .1 2.2 .6 2.2 1.1 2.2 1.4 1.5 1.9 1.1 2.2 .7 2.3 .4zM272.8 186.9l3.5 .7 1.5 0 .8-.4 1.1-1 .7-1.5 .4-1.5 .4-2.2 .2-2.9 0-2.9 -.4-3 -.6-2.2 -.6-1.4 -.6-.8 -.6-.4 -.8-.3 -1.5-.1 -4.1 .8 -3 .8 -2 .7 -1.3 .8 -1.5 1.4 -1 1.5 -.8 2.2 -.2 2.2 .2 2.2 .9 2.2 1 1.4 1.4 1.3 1.6 .9 2.2 .8 3.1 .7zM274.2 155.4l2.9 .7 .7-.1 1-.6 .8-1.5 .7-2.2 1.1-3.7 .6-2.9 .3-2.2 -.1-1.5 -.2-1.5 -.4-1.4 -.9-1.5 -.7-.7 -1.1-.8 -1.1-.3 -2.2-.2 -4.6 .5 -2.1 .5 -2.3 .9 -1.2 .8 -1.4 1.5 -.8 1.5 -.7 2.2 -.2 2.9 .4 2.2 1 2.2 1.2 1.5 1.7 1.3 1.5 .7 6.1 1.7zM277 124.5l.8 .1 .8-.8 1.4-3.3 2.7-4 1.3-2.2 1.1-3 .3-2.2 0-1.4 -.4-2.2 -.5-1.5 -.9-1.5 -1.3-1.4 -1.5-1.1 -2.2-1 -1.5-.2 -2.3-.1 -2.2 .5 -2.6 1.1 -2 1.5 -2.1 2.2 -1.4 2.2 -1.2 2.9 -.5 3 0 2.2 .4 2.2 .5 1.4 .8 1.5 1.4 1.5 1 .7 1.8 .7 5.4 1.2 2.9 1z"/>
<path fill="#fdc527" d="M272.7 254.4l2.1 .6 1.5 .1 2.3-.4 1.4-.5 1.5-1 1.5-1.6 1-1.6 .4-1.5 .3-1.4 0-1.5 -.3-2.2 -.5-1.5 -1-2.2 -2.9-4.8 -.7-1.6 -.8-2.4 -.7-.8 -1 .1 -2 1 -4.5 1.7 -2.2 1.3 -1.3 1.1 -1 1.5 -.7 1.5 -.4 1.4 -.2 2.2 .2 2.2 .5 2.2 1 2.2 1.5 2.2 1.4 1.5 2 1.5 1.6 .7zM275 219.2l1.3 .1 1.5-.1 .8-.2 .9-.5 .7-.8 .9-1.4 .5-2.2 .1-2.2 -.3-2.2 -1.8-8.1 -.8-2.2 -1-.7 -.8-.1 -2.1 .8 -3.6 1.4 -2.7 1.5 -1 .7 -1.3 1.5 -.8 1.5 -.6 2.2 -.1 2.2 .2 1.5 .9 2.2 1 1.4 1.7 1.5 1.3 .7 2 .8 3.1 .7zM274.4 186.9l2.7 .6 .7-.1 .8-.3 .9-.9 .3-.8 .6-2.2 .3-2.9 .1-2.9 -.1-3 -.3-2.9 -.3-1.5 -.6-1.4 -.5-.8 -1.2-.6 -1.5 0 -2.2 .6 -3 1.2 -2.1 1 -1.8 1.5 -1.1 1.5 -.7 1.4 -.3 1.5 -.1 1.5 .3 2.2 .5 1.4 .9 1.5 1.5 1.5 1 .7 1.4 .7 3.8 1.5zM275.1 155.4l2 .6 .7 0 .9-.6 .4-.8 2-8.1 .5-3.6 -.1-3 -.7-2.2 -.4-.7 -1.1-1 -.7-.4 -1.5-.4 -2.3 .2 -3 .8 -2.1 .8 -1.3 .7 -1.6 1.5 -1 1.5 -.6 1.4 -.4 2.2 .1 2.2 .4 1.5 .7 1.5 1 1.5 1.8 1.4 1.2 .8 5.1 2.2zM275.6 123.8l1.5 .7 .7 0 .7-.7 .8-2.5 .7-1.6 2.8-4.7 1-2.2 .7-2.2 .2-2.2 -.2-2.2 -.5-1.5 -.8-1.4 -.9-1.2 -1.5-1.2 -1.5-.8 -1.5-.4 -1.5-.2 -2.2 .3 -2.3 .7 -2 1.3 -1.6 1.5 -1.7 2.2 -1 2.2 -.7 2.2 -.3 2.2 .1 2.2 .6 2.2 .7 1.4 1 1.5 1.2 1 1.5 1 6 2.4z"/>
<path fill="#fdc827" d="M273.2 253.7l1.6 .4 2.3 .2 1.5-.3 1.4-.6 1.5-1.1 1.3-1.6 .7-1.4 .4-1.5 .1-2.2 -.6-2.9 -.9-2.2 -2.7-5.2 -.9-2.2 -.4-2.2 -.7-.8 -.7 .1 -5.3 2.9 -2.2 1.5 -.8 .7 -1.2 1.5 -.7 1.5 -.7 2.2 -.1 2.2 .2 2.2 .6 2.2 .7 1.4 .9 1.5 1.3 1.5 1.9 1.4 1.5 .8zM277.8 236.1l0-.1 .2 .1 -.2 0zM277.8 234.7l0-.2 .3 .1 -.3 .1zM277.8 233.2l0-.1 .4 0 -.4 .1zM273.7 218.5l2.6 .6 1.5 0 .8-.3 1.3-1.1 .5-.7 .5-1.5 .2-1.4 0-2.2 -1.9-11.1 -.5-1.4 -.9-.7 -.7 0 -1.6 .7 -3.9 2.2 -1.9 1.4 -1.8 2.3 -.7 1.4 -.4 1.5 -.1 2.2 .3 1.5 .5 1.4 .9 1.5 1.3 1.5 1 .7 3 1.5zM277.8 208.2l.1 0 -.1 0zM277.8 206.8l.1-.1 -.1 .1zM277.8 205.3l.1 0 -.1 0zM275.3 186.9l1.8 .5 .7-.1 .8-.3 .7-.8 .3-.8 .3-1.4 .3-5.2 -.1-5.1 -.2-2.9 -.3-1.5 -.3-.7 -.5-.8 -1-.5 -1.5 .1 -1.3 .4 -2.9 1.5 -2.1 1.5 -.7 .7 -1.1 1.5 -.7 1.4 -.4 1.5 -.1 2.2 .3 1.5 .5 1.4 1 1.5 1.4 1.5 1 .7 2.5 1.5 1.6 .7zM275.7 155.4l1.4 .5 .7 0 .7-.5 .5-.8 2.1-12.5 0-2.2 -.6-2.2 -1.2-1.4 -.7-.5 -1.5-.3 -1.5 .1 -2.2 .7 -1.7 .7 -2.1 1.5 -1.3 1.4 -.9 1.5 -.5 1.5 -.2 1.4 .1 1.5 .2 1.5 .6 1.4 .9 1.5 1.4 1.5 .9 .7 4.9 3zM277.8 151.7l.1 0 -.1 0zM277.8 150.3l0-.2 .3 .1 -.3 .1zM277.8 148.9l0-.3 .3 .1 -.3 .2zM277.8 147.4l0-.2 .3 .1 -.3 .1zM277.8 145.9l0-.2 .2 .1 -.2 .1zM276 123.8l1.1 .6 .7 0 .6-.6 .9-3.4 .7-1.7 2.4-4.4 1-2.2 .5-2.2 .1-1.5 -.1-1.5 -.3-1.4 -.7-1.5 -1.1-1.5 -1-.8 -1.5-.8 -1.5-.5 -1.5-.1 -2.2 .3 -1.5 .6 -2.1 1.3 -1.5 1.5 -1 1.5 -1.1 2.2 -.6 2.2 -.2 2.2 .2 2.2 .3 1.4 .7 1.5 1 1.5 1.5 1.4 1 .8 5.2 2.9zM277.8 120.9l.2 0 -.2 0zM277.8 119.4l.1 0 -.1 0z"/>
<path fill="#fdca26" d="M273.6 252.9l2 .6 1.5 .1 1.5-.3 1.4-.7 1.5-1.1 .6-.8 .8-1.4 .4-1.5 0-2.2 -.4-2.2 -.8-2.2 -2.8-5.8 -.8-3 -.7-.7 .6-.8 -.6-.7 -.7 .1 -1 .6 -4 3 -1.7 1.4 -1.6 2.2 -.7 1.5 -.4 1.5 -.2 1.4 0 2.2 .4 2.2 .6 1.5 .8 1.5 1.2 1.4 1.3 1.3 1.8 .9zM277.8 237.6l0-.1 .2 0 -.2 .1zM277.8 236.2l-.1-.1 .1-.2 .4 .2 -.4 .1zM277.8 234.8l-.2-.2 .2-.2 .5 .2 -.5 .2zM277.8 233.3l-.2-.2 .2-.1 .7 .1 -.7 .2zM274.8 218.5l2.3 .5 .7-.1 .8-.3 1-.9 .8-1.4 .1-.8 .1-2.9 -1.2-6.6 -.6-5.9 -.3-.7 -.7-.6 -.7 0 -1.2 .6 -3.1 2.2 -1.6 1.4 -1.7 2.3 -.6 1.4 -.4 1.5 -.2 1.5 .1 1.4 .4 1.5 .7 1.5 1 1.4 .7 .8 2.1 1.4 1.5 .8zM277.8 211.2l.1-.1 -.1 .1zM277.8 209.7l0-.1 .3 .1 -.3 0zM277.8 208.3l-.1-.1 .1-.1 .3 .1 -.3 .1zM277.8 206.9l-.1-.2 .1-.1 .4 .1 -.4 .2zM277.8 205.4l-.1-.1 .1-.2 .4 .2 -.4 .1zM277.8 203.9l0-.2 .3 .1 -.3 .1zM275.9 186.9l1.2 .3 .7 0 .6-.3 .7-.7 .5-2.2 0-14 -.4-1.4 -.6-.8 -.8-.4 -.7 0 -1.5 .4 -2.4 1.5 -1.7 1.5 -1.3 1.4 -.8 1.5 -.5 1.5 -.3 1.4 0 1.5 .3 1.5 .5 1.4 .9 1.5 2.1 2.2 2.1 1.5 1.4 .7zM276.1 155.4l1 .4 .7 0 .7-.4 .3-.8 .6-5.9 1.2-7.3 0-2.2 -.5-1.5 -.4-.7 -1.1-1 -.8-.3 -.7-.1 -1.5 .3 -1.1 .4 -1.4 .7 -2 1.5 -1.3 1.4 -.8 1.5 -.5 1.5 -.2 1.4 .1 1.5 .3 1.5 .5 1.4 .9 1.5 2 2.2 4 3zM277.8 151.8l-.1-.1 .1-.1 .4 .1 -.4 .1zM277.8 150.4l-.1-.2 .1-.1 .5 .1 -.5 .2zM277.8 148.9l-.2-.2 .2-.1 .5 .1 -.5 .2zM277.8 147.5l-.2-.2 .2-.2 .4 .2 -.4 .2zM277.8 146l-.1-.2 .1-.1 .4 .1 -.4 .2zM277.8 144.5l-.1-.2 .1-.1 .3 .1 -.3 .2zM277.8 142.9l.1 0 -.1 0zM276.3 123.8l.8 .5 .7 0 .5-.5 .2-.7 -.7-.8 .8-.2 .7-2.9 3.1-6.4 .7-2.2 .3-2.2 -.1-1.5 -.4-1.4 -.6-1.3 -.7-.9 -.8-.8 -1.5-.9 -2.2-.6 -2.3 .2 -1.5 .6 -1.5 .8 -1.5 1.4 -1.1 1.5 -1 2.2 -.5 1.4 -.3 2.2 .1 2.2 .4 1.5 .5 1.5 .9 1.4 2 2.2 5 3.7zM277.8 121l-.1-.1 .1-.2 .5 .2 -.5 .1zM277.8 119.5l-.1-.1 .1-.1 .4 .1 -.4 .1zM277.8 118l0-.1 .2 0 -.2 .1z"/>
<path fill="#fccd25" d="M273.8 252.2l1 .4 1.5 .3 1.5 0 1.5-.5 1.4-.9 .7-.8 .8-1.4 .5-1.5 0-2.2 -.7-2.9 -2.7-5.9 -.5-1.5 -.3-1.4 -.9-.8 .9-.7 -.8-.7 .7-.8 -.6-.7 -.7 .2 -.7 .5 -4 3.7 -1.3 1.5 -1.4 2.2 -.6 1.4 -.3 1.5 -.2 1.5 .2 2.2 .3 1.4 .5 1.5 .9 1.5 1.2 1.4 2.1 1.5zM277.8 239.1l0-.2 .2 .1 -.2 .1zM277.8 237.7l-.1-.2 .1-.1 .4 .1 -.4 .2zM277.8 236.3l-.2-.2 .2-.2 .6 .2 -.6 .2zM277.8 234.8l-.2-.2 .2-.2 .7 .2 -.7 .2zM275.7 218.5l1.4 .3 .7-.1 .8-.3 .8-.7 .4-.7 .4-1.5 -.1-2.2 -1.3-7.3 -.1-5.9 -.2-.7 -.7-.6 -.7 .1 -.9 .5 -1.7 1.4 -2.1 2.2 -1.1 1.5 -.8 1.5 -.5 1.5 -.3 1.4 0 1.5 .2 1.5 .5 1.4 .8 1.5 1.2 1.5 .8 .7 1 .7 1.5 .8zM277.8 212.6l.1 0 -.1 0zM277.8 211.2l-.1-.1 .1-.1 .3 .1 -.3 .1zM277.8 209.8l-.2-.1 .2-.2 .5 .2 -.5 .1zM277.8 208.4l-.2-.2 .2-.2 .6 .2 -.6 .2zM277.8 206.9l-.2-.2 .2-.2 .6 .2 -.6 .2zM277.8 205.5l-.2-.2 .2-.3 .7 .3 -.7 .2zM277.8 204l-.2-.2 .2-.2 .7 .2 -.7 .2zM277.8 202.4l0-.2 .5 .1 -.5 .1zM276.4 186.9l.7 .2 .7 0 .4-.2 .8-.7 .3-1.5 -.4-7.3 .4-7.4 -.3-1.4 -.6-.8 -.6-.3 -.7 0 -1 .3 -2.1 1.5 -1.4 1.5 -1.1 1.4 -.8 1.5 -.5 1.5 -.2 1.4 0 1.5 .3 1.5 .5 1.4 .7 1.5 1.2 1.5 1.5 1.4 .9 .8 1.3 .7zM276.4 155.4l.7 .3 .7 .1 .6-.4 .3-.8 .1-5.9 1.2-6.6 .2-2.2 -.1-1.4 -.6-1.5 -.9-.8 -.8-.3 -.7-.1 -1.8 .5 -1.3 .7 -1 .7 -1.4 1.5 -1.3 2.2 -.4 1.5 -.2 1.4 .1 1.5 .2 1.5 .6 1.4 .8 1.5 1.1 1.5 1.3 1.5 2.6 2.2zM277.8 153.2l0-.1 .4 .1 -.4 0zM277.8 151.9l-.2-.2 .2-.2 .6 .2 -.6 .2zM277.8 150.5l-.2-.3 .2-.2 .7 .2 -.7 .3zM277.8 149l-.2-.3 .2-.2 .7 .2 -.7 .3zM277.8 147.5l-.2-.2 .2-.3 .6 .3 -.6 .2zM277.8 146l-.2-.2 .2-.2 .6 .2 -.6 .2zM277.8 144.5l-.2-.2 .2-.1 .5 .1 -.5 .2zM277.8 143l-.1-.1 .1-.1 .3 .1 -.3 .1zM276.5 123.8l.6 .4 .7 0 .4-.4 .2-.7 -.7-.8 .8-.7 -.9-.7 1-.7 .7-2.4 2.4-5 .7-2.2 .4-2.2 -.3-2.2 -.5-1.5 -.5-.7 -.7-.8 -1.5-1 -.7-.3 -1.5-.2 -1.5 .1 -1.5 .4 -1.7 1.1 -1.3 1.2 -1.2 1.7 -.6 1.5 -.6 2.2 -.1 1.4 .4 3 .4 1.4 .8 1.5 1.6 2.2 4.7 4.4zM277.8 119.6l-.2-.2 .2-.2 .6 .2 -.6 .2zM277.8 118.1l-.1-.2 .1-.1 .4 .1 -.4 .2zM277.8 116.5l0-.1 .2 .1 -.2 0z"/>
<path fill="#fcd025" d="M275.6 252.2l1.5 .2 .7-.1 1.5-.5 .7-.5 .8-.7 .9-1.3 .5-2.2 -.2-2.2 -1-3 -1.7-3.6 -.7-2 -.8 0 -.3-.2 1-.8 -1-.7 .9-.7 -.9-.8 .9-.7 -.8-.7 .7-.8 -.5-.6 -1.3 .6 -4.3 5.2 -.9 1.4 -.7 1.5 -.8 2.9 -.1 2.2 .2 1.5 .5 1.5 .6 1.4 1.1 1.5 .7 .7 1.3 .9 1.5 .6zM277.8 240.5l.1 0 -.1 0zM277.8 239.2l-.1-.2 .1-.2 .4 .2 -.4 .2zM277.8 237.8l-.2-.3 .2-.2 .6 .2 -.6 .3zM276.4 218.5l1.4 .1 .8-.3 .5-.6 .5-.7 .2-1.5 -.2-2.2 -1-4.6 -.8-.2 -.3-.3 1-.7 -1-.8 1-.7 -1-.7 1-.8 -.9-.7 .9-.8 -.9-.7 .9-.7 -.3-.8 .3-.7 -.1-.7 -.6-.5 -.7 .1 -.7 .4 -1.4 1.4 -1.7 2.2 -.9 1.5 -.7 1.5 -.5 1.5 -.2 1.4 -.1 1.5 .2 1.5 .4 1.4 .7 1.5 1.8 2.2 .9 .7 1.5 .8zM277.8 212.7l-.1-.1 .1-.1 .4 .1 -.4 .1zM277.8 211.3l-.2-.2 .2-.2 .6 .2 -.6 .2zM277.8 209.9l-.2-.2 .2-.3 .7 .3 -.7 .2zM276.8 186.9l1.2 0 .8-.7 .2-.8 0-1.4 -.7-5.2 -.3-.7 .4-.7 -.6-.8 .6-.7 -.6-.7 .7-.8 -.7-.7 .8-.2 .4-2.7 0-1.5 -.1-.7 -.7-.8 -.4-.2 -.7 0 -.6 .2 -1.1 .8 -2 2.2 -.9 1.4 -.7 1.5 -.4 1.5 -.2 1.4 0 1.5 .2 1.5 .5 1.4 .7 1.5 .9 1.5 1.3 1.4 .8 .8 1.2 .7zM276.6 155.4l1.2 .3 .5-.3 .2-.8 .1-.7 -1-.7 .9-.8 -1-.7 1-.7 -1-.8 1-.7 -1-.8 1-.7 -1-.7 1-.8 .1-.7 1.2-5.9 0-1.4 -.2-.8 -.4-.7 -.6-.7 -.8-.3 -.7 0 -1.5 .5 -.9 .5 -1.6 1.5 -1 1.4 -.7 1.5 -.3 1.5 -.2 1.4 .1 1.5 .2 1.5 .9 2.2 1.8 2.9 1.9 2.2 .8 .8zM277.8 146.1l-.3-.3 .3-.3 .7 .3 -.7 .3zM277.8 144.6l-.2-.3 .2-.2 .7 .2 -.7 .3zM277.8 143.1l-.2-.2 .2-.2 .5 .2 -.5 .2zM277.8 141.5l-.1-.1 .1-.1 .3 .1 -.3 .1zM276.6 123.8l.5 .3 .7 .1 .4-.4 .1-.7 -.7-.8 .8-.7 -.9-.7 .9-.8 -.9-.7 1-.7 .7-2.2 2.4-5.2 .4-1.4 .2-1.5 -.2-2.2 -.6-1.5 -.6-.7 -1.5-1.2 -1.5-.5 -.7-.1 -1.5 .2 -1.5 .6 -1.4 1 -.8 .7 -1 1.5 -.6 1.5 -.4 1.4 -.2 2.2 .4 3 .5 1.4 .7 1.5 1.6 2.2 3.7 4.4zM277.8 118.2l-.2-.3 .2-.2 .7 .2 -.7 .3zM277.8 116.6l-.1-.1 .1-.2 .5 .2 -.5 .1zM277.8 115l.1 0 -.1 0z"/>
<path fill="#fcd225" d="M275.2 251.5l1.9 .4 1.5-.3 .7-.3 1.4-1.3 .5-.7 .4-1.5 0-2.2 -.6-2.2 -2.4-5.3 -.8-.3 -.3-.3 1-.7 -1.1-.7 1-.8 -1-.7 .9-.7 -.9-.8 .9-.7 -.8-.7 .8-.8 -.5-.5 -1.1 .5 -4 5.9 -1.3 2.9 -.6 2.2 0 3 .2 1.4 .5 1.5 .9 1.5 .6 .7 1.1 .9 1.1 .6zM277.8 240.6l-.1-.1 .1-.2 .4 .2 -.4 .1zM277.8 239.2l-.2-.2 .2-.2 .6 .2 -.6 .2zM275.5 217.7l1.6 .7 .7 0 1.1-.7 .6-1.4 -.2-2.2 -.7-2.8 -.8 .1 -.3-.3 1-.7 -1-.7 .9-.8 -.9-.7 .9-.7 -.9-.8 .8-.7 -.8-.7 .8-.8 -.8-.7 .8-.8 -.8-.7 .9-.7 -.7-.8 .8-.7 -.2-.7 -.5-.5 -1.2 .5 -2.1 2.9 -.8 1.5 -1 2.2 -.7 2.9 .1 3 .6 2.2 1.3 2.2 1.5 1.4zM277.8 214.1l0-.1 .3 .1 -.3 0zM277.8 212.8l-.2-.2 .2-.2 .6 .2 -.6 .2zM275.9 186.2l1.2 .7 .7 0 .9-.7 .1-.8 -.1-1.4 -.3-1.5 -.4-.7 .1-.8 -.3-.8 0-1.4 -.1-.7 .3-.7 -.3-.8 .4-.7 -.4-.7 .5-.8 -.5-.7 .7-.7 -.7-.8 .8-.7 .3-2.2 -.1-.7 -.9-.9 -.7 0 -.8 .5 -.5 .4 -1.2 1.4 -1.6 3 -.7 2.9 0 2.9 .5 2.2 1.4 3 1.7 2.2zM276.8 155.4l1 .3 .4-.3 .3-1.5 -1-.7 .9-.8 -.9-.7 .9-.7 -1-.8 .9-.7 -.9-.8 1-.7 -1-.7 1-.8 -1-.7 1.1-.7 -1-.8 1-.7 .8-2.9 .2-1.5 -.1-1.5 -.4-.7 -.4-.5 -.8-.3 -1.2 .1 -1 .5 -1.1 .9 -.6 .8 -1.2 2.2 -.5 1.4 -.2 1.5 .2 2.9 .8 3 2 3.7 1.1 1.4 .7 .8zM277.8 143.2l-.3-.3 .3-.3 .7 .3 -.7 .3zM277.8 141.6l-.2-.2 .2-.2 .5 .2 -.5 .2zM276.8 123.8l1 .3 .3-.3 .1-.7 -.7-.8 .8-.7 -.9-.7 .9-.8 -.9-.7 1-.7 -.9-.8 1-.7 .1-.7 2.3-5.2 .7-2.2 .1-1.4 -.5-2.2 -1-1.5 -1.6-1 -1.5-.3 -1.5 .3 -.8 .3 -1.1 .7 -.8 .7 -1 1.5 -.7 1.5 -.4 1.4 -.1 1.5 .3 2.9 1 3 1.3 2.2 3.5 5.1zM277.8 116.7l-.2-.2 .2-.3 .7 .3 -.7 .2zM277.8 115.2l-.1-.2 .1-.2 .5 .2 -.5 .2z"/>
<path fill="#fbd524" d="M274.9 250.7l1.4 .6 1.5 0 .8-.1 .7-.4 .9-.8 .5-.7 .5-1.5 -.1-2.2 -.7-2.2 -1.8-3.7 -1.1-.7 .9-.7 -1-.8 .9-.7 -.9-.7 .9-.8 -1-.7 .9-.7 -.9-.8 .9-.7 -.8-.7 .8-.8 -.4-.5 -.9 .5 -3.6 6.6 -1.2 3 -.4 2.2 -.1 1.4 .1 1.5 .7 2.2 .8 1.5 .7 .7 1 .7zM277.8 242l-.1-.1 .1-.1 .3 .1 -.3 .1zM277.8 240.7l-.2-.2 .2-.3 .6 .3 -.6 .2zM275.9 217.7l1.2 .6 .7 0 .9-.6 .4-.7 .2-.7 -.2-1.5 -.5-1.8 -.8-.1 -.3-.3 1-.7 -1.1-.8 1-.7 -1-.7 .9-.8 -.9-.7 .8-.7 -.8-.8 .8-.7 -.8-.7 .8-.8 -.8-.7 .8-.8 -.8-.7 .9-.7 -.7-.8 .8-.7 -.1-.7 -.5-.4 -1 .4 -1 1.4 -.7 1.5 -1.5 3.7 -.6 2.9 0 3 .5 2.2 1 2.2 1.4 1.4zM277.8 214.2l-.2-.1 .2-.2 .5 .2 -.5 .1zM276.2 186.2l.9 .5 .7 .1 .7-.6 .2-.8 -.3-1.4 -.4-.8 .1-.7 -.4-.7 -.1-3.7 .1-.7 -.1-.8 .2-.7 -.3-.7 .5-.8 -.4-.7 .6-.7 -.6-.8 .7-.7 -.5-.7 .7-.8 .2-.7 -.1-.7 -.8-.8 -.7 .1 -1 .7 -1 1.4 -1.2 3 -.6 2.9 0 2.9 .6 3 1.2 2.9 1.1 1.5zM277 155.4l.8 .2 .3-.2 -.1-.8 .4-.7 -.9-.7 .8-.8 -.9-.7 .8-.7 -.8-.8 .8-.7 -.8-.8 .9-.7 -.9-.7 .9-.8 -.9-.7 .9-.7 -.9-.8 1-.7 -.9-.7 1-.8 .6-2.2 .2-1.4 -.1-.8 -.3-.7 -1.1-.7 -.7 0 -1.4 .7 -1.2 1.5 -1 2.2 -.5 2.9 .2 2.9 .7 3 2 4.4 1.1 1.5zM277.8 141.7l-.3-.3 .3-.2 .7 .2 -.7 .3zM277.8 140.1l-.1-.2 .1-.1 .4 .1 -.4 .2zM277 123.8l.8 .2 .2-.2 .2-.7 -.8-.8 .8-.7 -.9-.7 .9-.8 -.8-.7 .9-.7 -.9-.8 .9-.7 -.8-.7 1-.8 -.9-.7 .2-.3 .8 .2 2-4.3 .5-1.5 .1-1.4 -.2-1.5 -.3-.7 -.7-1 -.7-.7 -.7-.4 -1.5-.2 -1.5 .3 -.8 .4 -1 .8 -.7 .8 -1.1 2.2 -.3 1.4 -.1 1.5 .4 2.9 .7 2.2 1 2.2 3.3 5.9zM277.8 113.7l-.1-.2 .1-.1 .4 .1 -.4 .2z"/>
<path fill="#fbd724" d="M276 250.7l1.1 .3 .7-.1 1.5-.6 .9-1 .5-1.5 0-1.5 -.7-2.2 -1.4-3 -.8-.3 -.3-.3 .9-.8 -1-.7 .9-.7 -1-.8 .9-.7 -.9-.7 .8-.8 -.8-.7 .8-.7 -.9-.8 .9-.7 -.9-.7 .9-.8 -.3-.4 -.8 .4 -.7 2 -2.4 5.4 -1 2.9 -.4 2.2 0 2.2 .6 2.2 1 1.6 .7 .7 1.2 .6zM277.8 243.4l.1 0 -.1 0zM277.8 242.1l-.2-.2 .2-.2 .6 .2 -.6 .2zM276.3 217.7l.8 .4 .7 .1 .7-.5 .5-.7 -.1-1.5 -.3-1.2 -.8 0 -.3-.2 1-.8 -1.1-.7 .9-.7 -.9-.8 .8-.7 -.9-.7 .9-.8 -.9-.7 .8-.7 -.8-.8 .8-.7 -.8-.7 .7-.8 -.7-.7 .8-.8 -.8-.7 .8-.7 -.6-.8 .8-.7 -.1-.7 -.4-.4 -.8 .4 -.5 .7 -.6 1.5 -1.4 4.4 -.6 3.7 0 2.9 .5 2.2 .6 1.5 1.3 1.4zM276.4 186.2l.7 .4 .7 .2 .7-.6 0-.8 -.3-1.4 -.5-.8 .1-.7 -.2-.7 0-4.4 -.2-.8 .2-.7 -.2-.7 .3-.8 -.3-.7 .5-.7 -.4-.8 .7-.7 -.5-.7 .7-.8 .1-1.4 -.7-.7 -.7 .1 -.7 .6 -.5 .7 -1.1 2.9 -.6 3.7 0 2.9 .4 3 .7 2.2 .6 1.4 .5 .8zM277.2 155.4l.6 .1 .2-.1 -.2-.8 .5-.7 -.9-.7 .8-.8 -.9-.7 .8-.7 -.8-.8 .8-.7 -.8-.8 .8-.7 -.8-.7 .9-.8 -.9-.7 .9-.7 -.9-.8 1-.7 -.9-.7 1-.8 -1-.7 1.1-.7 .5-2.2 0-.8 -.3-.7 -.9-.6 -.7 .1 -1 .5 -1.1 1.5 -.8 2.2 -.3 2.2 .1 2.9 .7 3.7 1.5 4.4 .3 .7 .7 .8zM277.8 140.2l-.2-.3 .2-.1 .6 .1 -.6 .3zM277.2 123.8l.6 .1 .3-.8 -.8-.8 .8-.7 -.8-.7 .8-.8 -.8-.7 .8-.7 -.8-.8 .9-.7 -.8-.7 .9-.8 -.8-.7 .9-.7 -.8-.8 .2-.2 .8 .2 1.7-3.6 .5-2.2 -.2-1.5 -.8-1.5 -1.2-.8 -1.5-.3 -1.5 .4 -1.1 .7 -.6 .8 -.5 .7 -.6 1.5 -.3 1.4 -.1 1.5 .3 2.2 .6 2.2 3 6.7 .5 1.4 .4 .7zM277.8 112.1l0-.1 .2 .1 -.2 0z"/>
<path fill="#fada24" d="M275.5 250l.8 .4 .8 .2 1.5-.2 .7-.5 .5-.6 .5-1.5 0-1.5 -.8-2.2 -.9-1.7 -.8-.2 -.3-.3 .9-.7 -1-.7 .9-.8 -1-.7 .9-.7 -.9-.8 .8-.7 -.9-.7 .8-.8 -.8-.7 .8-.7 -.8-.8 .8-.7 -.9-.7 0-.4 -.8 2.8 -2.4 6.4 -.5 2.2 -.2 1.4 .1 2.2 .4 1.5 .9 1.5 .9 .7zM277.8 243.6l-.1-.2 .1-.2 .4 .2 -.4 .2zM277.2 230.9l.6 .4 .3-.4 -.3-.3 -.6 .3zM276.6 217.7l.5 .3 .7 .1 .6-.4 .4-.7 0-.7 -.3-1.5 -1.1-.7 .9-.8 -1-.7 .9-.7 -.9-.8 .8-.7 -.8-.7 .7-.8 -.8-.7 .8-.7 -.8-.8 .7-.7 -.7-.7 .7-.8 -.7-.7 .7-.8 -.6-.7 .7-.7 -.7-.8 .9-.7 0-.7 -.4-.3 -.7 .3 -.5 .7 -.2 .7 -1.2 5.9 -.5 3.7 0 2.2 .3 2.2 .8 2.2 .8 .7zM277.8 215.6l-.1-.1 .1-.1 .6 .1 -.6 .1zM276.6 186.2l.5 .3 .7 .2 .6-.5 0-.8 -.5-1.4 -.3-.8 -.2-1.4 -.1-5.2 .2-.7 -.2-.7 .2-.8 -.2-.7 .4-.7 -.3-.8 .6-.7 -.5-.7 .7-.8 .2-1.4 -.6-.7 -.7 .2 -.6 .5 -.3 .7 -.8 2.9 -.3 3 0 3.6 .2 3 .6 2.9 .7 1.5zM277.4 155.4l.4 .1 .2-.1 -.4-.8 .6-.7 -.9-.7 .7-.8 -.8-.7 .8-.7 -.8-.8 .8-.7 -.8-.8 .8-.7 -.8-.7 .8-.8 -.8-.7 .9-.7 -.8-.8 .9-.7 -.9-.7 1-.8 -.9-.7 1-.7 -.9-.8 1.1-.5 .2-1.7 -.3-.7 -.7-.5 -.7 .1 -.7 .4 -.6 .7 -.9 2.2 -.2 2.2 .2 3.7 1.1 5.9 .7 2.9 .7 .8zM277.7 123.8l.1 0 .2-.7 -.8-.8 .7-.7 -.7-.7 .7-.8 -.7-.7 .8-.7 -.8-.8 .8-.7 -.7-.7 .8-.8 -.7-.7 .8-.7 -.7-.8 .3-.3 .6-.4 .2-.6 1.2-2.3 .5-1.5 .1-1.5 -.5-1.4 -.6-.8 -.7-.5 -1.5-.2 -1.5 .5 -1.1 1 -.5 .7 -.6 1.5 -.2 2.2 .2 2.2 .6 2.2 2.3 6.2 .7 2.6 .7 .7zM277.8 112.3l-.2-.2 .2-.2 .7 .2 -.7 .2z"/>
<path fill="#f9dd25" d="M276.2 250l.9 .3 .7 0 .8-.3 .8-.7 .4-.8 .2-.7 -.1-1.5 -1-2.2 -.3-.6 -.8 .2 -.3-.3 .9-.7 -1-.8 .8-.7 -.9-.7 .8-.8 -.9-.7 .8-.7 -.8-.8 .8-.7 -.9-.7 .8-.8 -.8-.7 .8-.7 -.8-.8 0-.6 -.8 3.6 -1.9 5.8 -.5 3 0 1.4 .4 1.5 .9 1.5 1 .7zM277.1 232.4l.8 0 -.1-.1 -.7 .1zM277.3 230.9l.5 .3 .2-.3 -.2-.3 -.5 .3zM276.8 217.7l1 .3 .4-.3 .4-.7 0-.9 -1-.6 .8-.7 -1.1-.7 .9-.8 -.9-.7 .8-.7 -.9-.8 .8-.7 -.8-.7 .7-.8 -.7-.7 .6-.7 -.6-.8 .5-.7 -.6-.7 .5-.8 -.4-.7 .5-.8 -.5-.7 .7-.7 -.7-.8 1-.7 -.1-.7 -.3-.3 -.6 .3 -.4 .7 -1.4 11.8 0 2.2 .2 1.4 .5 1.5 .7 .7zM276.8 186.2l1 .5 .5-.5 -.1-.8 -.4-.7 -.4-1.5 -.1-1.4 -.1-6.6 .1-.8 -.1-.7 .3-.7 -.2-.8 .5-.7 -.4-.7 .7-.8 -.1-.7 .4-.7 -.6-.6 -.7 .3 -.4 .3 -.5 1.4 -.2 2.2 0 10.3 .3 2.2 .5 1.5zM277.6 155.4l.3 0 -.1-.3 -.2 .3zM276.9 154.6l.2 .2 .7-.5 .3-.4 -.9-.7 .7-.8 -.8-.7 .8-.7 -.8-.8 .8-.7 -.8-.8 .8-.7 -.7-.7 .7-.8 -.7-.7 .8-.7 -.8-.8 .8-.7 -.8-.7 .9-.8 -.8-.7 1-.7 -.9-.8 1.1-.7 .2-1.5 -.3-.7 -.6-.4 -.7 .2 -.5 .2 -.5 .7 -.5 1.5 -.2 1.5 .2 3.6 1.3 10.3zM277.8 138.5l.6 0 -.6 0zM277.3 123.1l.5 .5 .1-.5 -.1-.2 -.5 .2zM277 121.6l.1 .5 .7-.5 -.7-.7 .7-.8 -.7-.7 .7-.7 -.6-.8 .7-.7 -.7-.7 .7-.8 -.6-.7 .8-.7 -.7-.8 .8-.7 -.7-.7 1-.8 1.1-2.2 .4-1.4 -.1-1.5 -.4-.7 -.9-.9 -.8-.3 -.7 0 -.8 .2 -1.2 1 -.9 1.4 -.3 2.2 .3 3 2.1 6.4 .7 3.1zM277.8 110.7l0-.2 .4 .1 -.4 .1z"/>
<path fill="#f8df25" d="M275.7 249.3l.6 .4 .8 .3 .7 0 .8-.3 .7-.8 .4-1.1 -.2-1.5 -1-2.2 -1.1-.7 .8-.7 -.9-.8 .8-.7 -.9-.7 .7-.8 -.8-.7 .8-.7 -.8-.8 .7-.7 -.7-.7 0-.3 -2.1 6.9 -.5 2.2 .1 2.2 .5 1.4 .6 .8zM277.8 245l-.1-.1 .1-.2 .5 .2 -.5 .1zM277.7 232.4l.1 0 -.1 0zM277.4 230.9l.4 .2 .2-.2 -.2-.2 -.4 .2zM277.2 217.7l.6 .2 .7-.9 0-.7 -1.1-.8 .9-.7 -1-.7 .8-.8 -.9-.7 .8-.7 -.9-.8 .8-.7 -.8-.7 .5-.8 -.5-.7 .2-.7 -.2-.8 0-4.4 .4-.7 -.4-.8 1-.7 -.1-.7 -.2-.2 -.4 .2 -.4 .7 -.1 5.9 -1 8.1 .2 2.2 .3 .7 .8 .7zM277 186.2l.8 .4 .5-.4 -.2-.8 -.6-.7 -.3-1.5 0-1.4 -.1-8.1 .1-1.5 .2-.7 -.2-.7 .7-.8 -.1-.7 .5-.7 -.5-.5 -.9 .5 -.3 1.4 .2 7.4 -.3 6.6 .1 1.4 .4 .8zM277 154.6l.8-.4 .2-.3 -.9-.7 .7-.8 -.7-.7 .1-2.2 -.1-.8 .3-.7 -.3-.7 .7-.8 -.7-.7 .8-.7 -.8-.8 .8-.7 -.8-.7 .9-.8 -.8-.7 .9-.7 -.8-.8 1-.7 -.7-.7 .9-.8 -.3-.7 -.4-.3 -.9 .3 -.6 .7 -.2 .8 -.2 1.4 .2 2.2 .8 5.9 .1 6.6zM277.6 123.1l.2 .1 0-.2 -.2 .1zM277 118.7l.1-.8 .3-.7 -.3-.7 .6-.8 -.5-.7 .7-.7 -.6-.8 .7-.7 -.6-.7 .8-.8 -.6-.7 .2-.2 .8-.3 .1-.2 .7-1.5 .3-1.5 -.1-.7 -.4-.7 -.6-.6 -.8-.3 -.7 0 -.8 .3 -.7 .6 -.5 .7 -.3 .7 -.3 1.5 0 1.5 .3 1.4 2.2 7.4z"/>
<path fill="#f7e225" d="M276.2 249.3l.9 .4 .7 0 .8-.3 .6-.9 .2-.7 -.3-1.5 -.5-1 -.8-.2 -.3-.2 .8-.8 -1-.7 .7-.7 -.8-.8 .7-.7 -.8-.7 .6-.8 -.6-.9 -1.6 4.6 -.5 2.2 .1 1.5 .1 .7 .4 .7 .6 .8zM277.5 230.9l.3 .2 .1-.2 -.1-.1 -.3 .1zM277.7 217.7l.6-.7 .1-.7 -1.1-.8 .8-.7 -.9-.7 .8-.8 -.9-.7 .7-.7 -.7-.7 -.6 2.9 -.1 2.2 .2 .7 .5 .5 .6 .2zM277.2 200.1l.6 .2 .2-.2 0-.7 -.2-.2 -.3 .2 -.3 .7zM277.1 186.2l.7 .4 .4-.4 -.4-1 -.5-.5 -.2-1.8 -.3 2.5 .3 .8zM277 171.5l.1-.7 .6-.8 -.2-.7 .3-.1 .4-.6 -.4-.5 -.8 .5 -.2 .7 .2 2.2zM277.3 153.9l.5 .1 .1-.1 -.6 0zM276.9 142.9l.2 .5 0-.5 .8-.8 -.8-.7 .9-.7 -.8-.8 1-.7 -.7-.7 .9-.8 -.3-.7 -.3-.2 -.7 .3 -.6 .6 -.1 .8 0 1.4 .5 3zM277 115.7l.1-.7 .3-.7 -.2-.8 .5-.7 -.4-.7 .7-.8 -.6-.7 .9-.7 .7-1.5 .4-1.5 -.1-.7 -.5-.7 -1-.6 -.7 0 -1 .6 -.6 .7 -.5 1.5 0 1.4 .3 1.5 1.7 5.1z"/>
<path fill="#f7e425" d="M276.7 249.3l1.1 .2 .5-.2 .7-.8 .1-.7 -.1-.7 -.6-1.5 -1-.7 .7-.8 -.9-.7 .6-.7 -.7-.8 0-.6 -1.1 2.8 -.5 2.2 .1 1.5 .3 .7 .8 .8zM277.8 246.4l.2-.1 -.2 .1zM277.7 230.9l.2 0 -.2 0zM276.7 217l.4 .3 .7 .3 .4-.6 .1-.7 -1.1-.8 .8-.7 -.9-.7 0-.2 -.4 1.6 0 1.5zM277.5 213.3l.3 0 -.3 0zM277.5 200.1l.3 .1 .1-.1 -.1-.8 -.2 .1 -.1 .7zM277.2 186.2l.6 .3 .4-.3 -.4-.8 -.7-.1 .1 .9zM277 169.3l.1 .1 .7-.3 .3-.5 -.3-.4 -.6 .4 -.2 .7zM277 140.7l.9 0 -.8-.8 1-.7 -.8-.7 1-.8 -.5-.8 -.7 .4 -.4 .4 0 1.5 .3 1.5zM276.8 112.8l.3 .5 .1-.5 -.1-.7 .5-.8 -.3-.7 .8-.7 -.5-.8 1-.6 .4-.8 .1-.8 0-.7 -.5-.7 -.8-.4 -.7 0 -.8 .5 -.4 .6 -.4 1.5 .3 2.2 1 2.9z"/>
<path fill="#f6e826" d="M277.7 249.3l.9-.5 .2-.3 .1-.7 -.3-1.1 -1-.4 .6-.7 -1-.7 .7-.8 -.8-.7 0-.3 -1 2.5 -.2 1.5 0 .7 .4 .7 .8 .7 .6 .1zM276.9 217l.9 .4 .3-.4 .1-.7 -1.1-.8 0-.1 -.2 .9 0 .7zM277.4 214.8l.5 0 -.5 0zM277.7 200.1l.1 0 0-.8 -.1 .8zM277.3 186.2l.5 .2 .3-.2 -.3-.6 -.5 .6zM277.3 168.6l.5 .4 .3-.4 -.3-.3 -.5 .3zM277.1 139.2l.7 .1 .2-.1 -.2-.2 -.7 .2zM276.9 138.5l.2 .7 .1-.7 1-.8 -.4-.7 -.9 .7 0 .8zM277 111.3l.1-.7 .7-.7 -.4-.8 .9-.7 .6-1.5 -.1-.7 -.2-.4 -.8-.5 -.9 .2 -.7 .7 -.3 .7 0 .8 .2 1.4 .9 2.2z"/>
<path fill="#f5eb27" d="M276.5 248.5l.6 .5 .7 .1 .8-.6 .1-.7 -.2-.7 -1.1-.8 .6-.7 -.9-.7 0-.3 -.5 1 -.4 1.5 .1 .7 .2 .7zM277.2 217l.6 .2 .3-.9 -.3-.2 -.7 .2 .1 .7zM277.4 186.2l.4 .2 .2-.2 -.2-.5 -.4 .5zM277.4 168.6l.4 .3 .2-.3 -.2-.3 -.4 .3zM277.5 139.2l.4 0 -.4 0zM277.1 137.7l.7 .3 .3-.3 -.3-.5 -.7 .5zM277 109.9l.1 .1 0-.1 .1-.8 .9-.7 0-.7 .5-.4 .1-.4 -.1-.7 -.8-.7 -.7 .1 -.7 .6 -.2 .7 .2 1.5 .6 1.5z"/>
<path fill="#f4ed27" d="M276.8 248.5l.3 .3 .7 .2 .5-.5 .2-.7 -.2-.7 -1.1-.8 -.1-.6 -.6 1.4 0 .7 .3 .7zM277.4 216.3l.4 .6 .2-.6 -.2-.2 -.4 .2zM277.5 186.2l.3 .1 .2-.1 -.2-.4 -.3 .4zM277.5 168.6l.3 .2 .1-.2 -.1-.2 -.3 .2zM277.3 137.7l.5 .3 .2-.3 -.2-.4 -.5 .4zM276.8 108.4l.3 .5 .7-.5 -.2-.7 .8-.8 0-.7 -.6-.5 -.7 .1 -.4 .4 -.2 .7 .3 1.5z"/>
<path fill="#f3f027" d="M277 248.5l.8 .3 .3-.3 .1-.7 -.1-.7 -1-.6 -.4 1.3 .3 .7zM277.6 216.3l.2 .2 .1-.2 -.3 0zM277.6 186.2l.3 0 -.1-.2 -.2 .2zM277.7 168.6l.1 .1 .1-.1 -.2 0zM277.5 137.7l.3 .2 .2-.2 -.2-.2 -.3 .2zM276.9 107.7l.2 .4 .1-.4 1-.8 0-.7 -.4-.3 -.7 .1 -.2 .2 -.2 .7 .2 .8z"/>
<path fill="#f2f227" d="M277.5 248.5l.4 0 0-1.4 -.1-.1 -.5 .1 -.2 .2 -.2 .5 .6 .7zM277.7 186.2l.1-.1 -.1 .1zM277.7 137.7l.2 0 -.2 0zM276.9 106.9l.2 .4 .7-.2 .2-.2 -.1-.7 -.1-.1 -.6 .1 -.3 .7z"/>
<path fill="none" stroke="#000" stroke-opacity=".85" stroke-width=".7" d="M277.7 253.1l-4.6-1.5 -2.6-1.3 -3.5-2.5 -5.4-4.4 -1.9-1.6 -1.6-1.9 -1.5-2.1 -1.8-3.7 -1.5-4.4 -1.2-5.1 -1-5.8 -1-8.3 -.7-6.8 -.6-9.1 -.2-6.5 -.1-10.8 .1-10.8 .2-6.5 .6-9.1 .7-6.8 1-8.3 1-5.8 1.2-5.1 1.5-4.3 1.8-3.8 1.5-2.1 1.6-1.9 1.9-1.6 5.4-4.4 3.5-2.5 2.6-1.3 4.6-1.5M277.7 253.1l5.9-.2 4.4-.5 4.3-.9 2.9-.7 4.1-1.6 1.2-.7 2.1-1.5 5.4-4.7 8.9-6.9 2.8-2.7 4-4.5 4.6-6.4 2.3-4 5-13 1.7-6 1.2-5.6 1.1-8.5 .4-7.4 -.4-7.4 -1.1-8.5 -1.2-5.6 -1.7-6 -5-13 -2.3-4 -4.6-6.4 -4-4.5 -2.8-2.7 -8.9-6.9 -5.4-4.7 -2.1-1.5 -1.2-.7 -4.1-1.6 -2.9-.7 -4.3-.9 -4.4-.5 -5.9-.2M277.7 248.6l-3.3-1.4 -2.2-1.2 -1.8-1.4 -2.1-2.4 -2-2.6 -1.9-3.2 -2.6-5.4 -1.5-3.8 -1.2-4.3 -1.2-4.8 -.6-3.6 -.4-3.9 -.3-6.7 -.2-22.3 0-17.2 .4-18.2 .3-4.2 .5-3.7 .7-3.4 1.2-4.7 1.3-4.1 2.1-4.8 2-3.9 2.4-3.7 2.6-3.1 2.3-2 2.2-1.2 3.3-1.4M277.7 248.6l3.9-.8 2.3-.8 1.3-.7 6.9-4.3 5.6-4.3 1.6-1.4 2.8-3.1 6.5-9.6 4.6-6.3 2.8-4.3 1.5-3 1.6-4.3 1.7-5.3 1.4-5.8 1.1-6.3 .8-6.6 .2-4.4 -.2-4.4 -.8-6.6 -1.1-6.3 -1.4-5.8 -1.7-5.3 -1.6-4.3 -1.5-3 -2.8-4.3 -4.6-6.3 -6.5-9.6 -2.8-3.1 -1.6-1.4 -5.6-4.2 -6.9-4.4 -1.3-.7 -2.3-.8 -3.9-.8M277.7 244.2l-2.2-1.4 -1.1-.9 -1-1.3 -1.5-2.6 -2.7-5.9 -1.2-2.8 -1.1-3.5 -1-4.4 -1.2-6.9 -.5-6.1 -.3-31.1 .3-31.1 .5-6.1 1.2-6.9 1-4.4 1.1-3.5 1.2-2.8 2.7-5.9 1.5-2.6 1-1.3 1.1-.9 2.2-1.4M277.7 244.2l5.5-3.7 2-1.7 1.9-2 5.4-6.5 3.9-4.3 3.2-3.9 2.1-3 1.2-2.5 1.8-4.3 1.7-4.9 1.4-5.4 1.2-5.9 .9-5.7 .3-3.4 .2-4.9 0-8 -.1-4.8 -.4-5.1 -1.6-9.7 -1.4-5.6 -1-3.4 -1.8-4.7 -1.8-4.1 -1.3-2.2 -2-2.8 -12.9-15 -2.9-2.6 -5.5-3.7M277.7 222.5l-2.6-1.1 -1.3-.7 -2.3-2.1 -1.7-2.2 -.8-1.8 -.5-2.3 -.4-4 -.1-4.2 .3-4.1 1.7-16.8 .3-5.9 -.3-5.9 -2-19.5 0-4.2 .3-4.2 .7-3.5 .8-1.8 1.1-1.5 2.9-2.8 1.3-.7 2.6-1.1M277.7 222.5l3.2-.4 1.5-.4 3.1-1.6 1.6-1.2 1.5-1.6 1.4-1.9 1.2-2.4 2.2-5.7 1-3.3 .8-3.8 1.1-6 1.3-8.9 .5-4.8 .1-3.2 -.1-3.2 -.5-4.8 -1.3-8.9 -1.1-6 -.8-3.8 -1-3.3 -2.2-5.7 -1.2-2.4 -1.4-1.9 -1.5-1.6 -1.6-1.2 -3.1-1.6 -1.5-.4 -3.2-.4M243.2 160l1.7-15.7 1.4-8.7 3.3-15.3 1-3.5 1.4-3.3 2.3-3.9 3.7-5.1 2.8-2.9 3.2-2.7 2.8-1.8 2.2-.9 2.7-.8 6-1.3M243.2 194.6l1.7 15.7 1.4 8.7 3.3 15.3 1 3.5 1.4 3.3 2.3 3.9 3.7 5.1 2.8 2.9 3.2 2.7 2.8 1.8 2.2 .9 2.7 .8 6 1.3M277.7 94.1l10.8-.1 4.2 .3 4.2 .6 6.5 1.2 4 1 3 1.2 2.1 1.1 2.5 2.1 6.8 6.7 3.7 4.1 1.9 2.7 2.2 4 2.4 5.6 2 5.1 2.5 7.3M277.7 260.5l10.8 .1 4.2-.3 4.2-.6 6.5-1.2 4-1 3-1.2 2.1-1.1 2.5-2.1 6.8-6.7 3.7-4.1 1.9-2.7 2.2-4 2.4-5.6 2-5.1 2.5-7.3M244 116l2.6-7 1.8-3.7 5.7-10.1 1.4-1.8 1.8-1.8 3.2-2.5 2.5-1.5 1.3-.6 1.5-.5 3.8-1 8.1-1.4M244 238.6l2.6 7 1.8 3.7 5.7 10.1 1.4 1.8 1.8 1.8 3.2 2.5 2.5 1.5 1.3 .6 1.5 .5 3.8 1 8.1 1.4M277.7 84.1l8.6-.6 4.3-.1 10.6 .3 4.3 .5 2.1 .4 2 .5 4.1 1.5 4.1 2.1 3.7 2.2 3.1 2.1 2.2 2 1.6 1.9 3.3 5.2 4.3 7.9M277.7 270.5l8.6 .6 4.3 .1 10.6-.3 4.3-.5 2.1-.4 2-.5 4.1-1.5 4.1-2.1 3.7-2.2 3.1-2.1 2.2-2 1.6-1.9 3.3-5.2 4.3-7.9M278.8 161.3l-2.6-3.3 -1.6-2.5 -.9-2.5 -.5-3.4 0-1.6 .2-1.7 .9-3.1 1.7-3.3 .8-.9 .9-.4 1 .4 1.1 .9 2 2.6 1.4 3 .5 1.6 .2 1.7 -.3 2.5 -1.4 4.2 -1.3 2.5 -2.1 3.3M278.8 193.3l-2.6 3.3 -1.6 2.5 -.9 2.5 -.5 3.4 0 1.6 .2 1.7 .9 3.1 1.7 3.3 .8 .9 .9 .4 1-.4 1.1-.9 2-2.6 1.4-3 .5-1.6 .2-1.7 -.3-2.5 -1.4-4.2 -1.3-2.5 -2.1-3.3M278.8 161.3l-2.7 2.7 -1.5 2 -.9 2.4 -.4 3.3 .5 5.6 -.5 5.6 .4 3.3 .6 1.8 .7 1.2 3.8 4.1M278.8 161.3l4.2 4.5 2.4 3.4 .8 1.8 .7 2.2 .6 2.5 .1 1.6 -.1 1.6 -.6 2.5 -.7 2.2 -.8 1.8 -2.4 3.4 -4.2 4.5M277.7 167.3l-1.2 4.7 -.3 5.3 .1 4 .5 3.5 .5 2 .4 .5 .3-.1 .7-.9 1.7-3.7 .6-2.6 .2-2.7 -.2-2.7 -.6-2.6 -1-2 -1.7-2.7M277.7 141.8l-.9 1.8 -.6 1.4 -.4 2.2 -.1 2.3 .2 2.3 .5 2.7 .7 2.1 .5 .6 .2 .1 .6-.3 .7-.9 1.2-2.1 .7-2.2 .2-2.3 -.3-2.3 -.7-2.2 -.9-1.4 -1.6-1.8M277.7 212.8l-.9-1.8 -.6-1.4 -.4-2.2 -.1-2.3 .2-2.3 .5-2.7 .7-2.1 .5-.6 .2-.1 .6 .3 .7 .9 1.2 2.1 .7 2.2 .2 2.3 -.3 2.3 -.7 2.2 -.9 1.4 -1.6 1.8M277.7 113.7l-1.9 3.3 -.3 1 -.1 1.2 .2 1.8 .4 1.5 1 1.7 .8 .5 .6-.2 .6-.6 1-1.4 .5-1.5 .1-1.5 -.2-1.2 -.5-1.3 -2.2-3.3M277.7 240.9l-1.9-3.3 -.3-1 -.1-1.2 .2-1.8 .4-1.5 1-1.7 .8-.5 .6 .2 .6 .6 1 1.4 .5 1.5 .1 1.5 -.2 1.2 -.5 1.3 -2.2 3.3"/>
<rect x="277.7" y="89.4" width="21.6" height="176" fill="none" stroke="#000" stroke-opacity=".8" stroke-width=".7"/>
<path d="M277.7 230.6v17.5M277.7 199.6v17.5M277.7 168.5v17.5M277.7 137.5v17.5M277.7 106.4v17.5" stroke="#2a2000" stroke-width="1.1" stroke-opacity=".75" fill="none"/>
<path d="M248.5 174.4L251.1 179.0L245.9 179.0zM256.4 174.4L259.0 179.0L253.8 179.0zM263.9 174.4L266.5 179.0L261.3 179.0zM270.3 174.4L272.9 179.0L267.7 179.0zM287.6 179.4L285.0 174.8L290.2 174.8zM298.2 179.4L295.6 174.8L300.8 174.8zM310.4 179.4L307.8 174.8L313.0 174.8zM324.3 179.4L321.7 174.8L326.9 174.8zM254.8 115.4L259.6 113.3L259.1 118.5zM261.5 118.5L266.6 117.3L265.1 122.3zM269.6 118.1L272.9 122.3L267.7 123.0zM312.0 85.8L306.9 87.0L308.4 82.0zM311.4 98.6L306.2 99.4L308.0 94.5zM310.0 113.9L304.8 113.0L308.0 109.0zM310.1 133.1L305.3 130.8L309.5 127.8zM258.5 236.7L253.8 239.1L254.0 233.9zM265.4 233.2L260.9 236.0L260.7 230.8zM271.6 231.6L267.6 235.1L266.6 230.0zM305.3 228.6L305.6 223.3L310.0 226.1zM304.9 245.0L306.7 240.0L310.1 243.9zM304.9 258.2L308.6 254.4L310.1 259.3zM305.1 270.6L309.0 267.0L310.1 272.1z"/>
</g>
<ellipse cx="289" cy="177" rx="48" ry="107.7" fill="none" stroke="#cbcbcb" stroke-width="3.6"/>
<path d="M291.3 57.2L292.2 109.1" stroke="#000" stroke-width="2.4" fill="none"/><path d="M292.4 119.0L284.6 106.6L292.2 109.1L299.8 106.4z"/>
<path d="M293.4 336.0L281.6 263.0" stroke="#000" stroke-width="2.4" fill="none"/><path d="M280.0 253.2L289.5 264.3L281.6 263.0L274.5 266.8z"/>
<text x="263.7" y="55.6" font-size="13.5">Cylinder</text>
<text x="259.3" y="347.6" font-size="13.5">HTS-tapes</text>
</svg>
</body></html>
